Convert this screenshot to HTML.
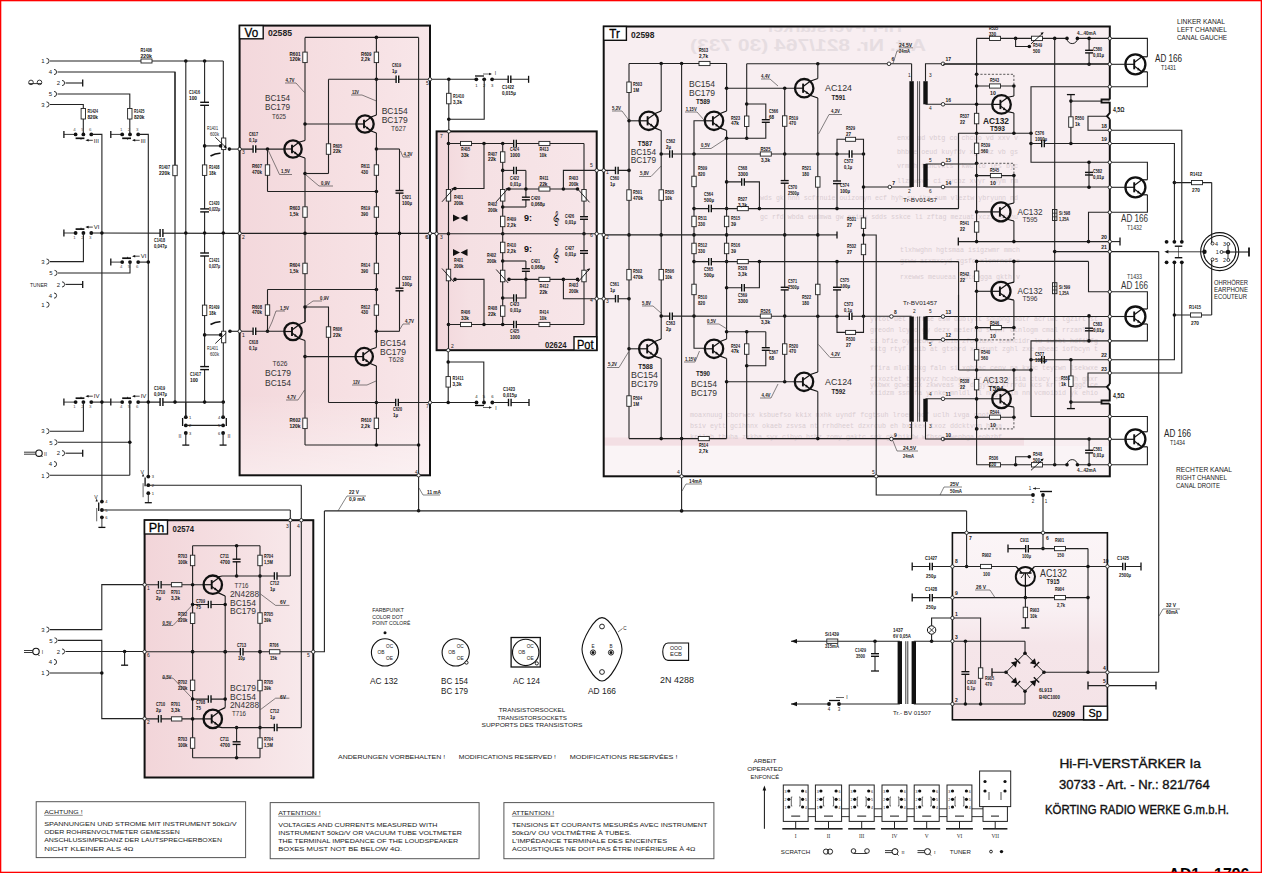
<!DOCTYPE html>
<html><head><meta charset="utf-8"><title>Schematic</title>
<style>
html,body{margin:0;padding:0;background:#fff;}
body{width:1262px;height:873px;overflow:hidden;}
svg{display:block;}
</style></head><body>
<svg width="1262" height="873" viewBox="0 0 1262 873">
<rect x="0" y="0" width="1262" height="873" fill="#fff"/>
<defs><linearGradient id="gvo" x1="0" y1="0" x2="1" y2="0"><stop offset="0" stop-color="#f3d8dc"/><stop offset="0.35" stop-color="#f5dde0"/><stop offset="1" stop-color="#f8e6e9"/></linearGradient><linearGradient id="gvo2" x1="0" y1="0" x2="0" y2="1"><stop offset="0" stop-color="#fff" stop-opacity="0"/><stop offset="0.82" stop-color="#fff" stop-opacity="0"/><stop offset="1" stop-color="#fff" stop-opacity="0.45"/></linearGradient><linearGradient id="gpot" x1="0" y1="0" x2="1" y2="0"><stop offset="0" stop-color="#f2d7db"/><stop offset="0.2" stop-color="#f5e0e3"/><stop offset="1" stop-color="#f7e6e9"/></linearGradient><linearGradient id="gph" x1="0" y1="0" x2="1" y2="0"><stop offset="0" stop-color="#f2d5d9"/><stop offset="0.5" stop-color="#f5dfe2"/><stop offset="1" stop-color="#f8eaec"/></linearGradient></defs>
<rect x="239.6" y="25.6" width="190.4" height="449.7" fill="url(#gvo)"/>
<rect x="239.6" y="25.6" width="190.4" height="449.7" fill="url(#gvo2)"/>
<rect x="436.6" y="131.4" width="160.1" height="218.8" fill="url(#gpot)"/>
<rect x="603.7" y="26.5" width="506.1" height="449.8" fill="#f8eef1"/>
<rect x="604" y="446" width="505" height="30" fill="#faf4f6"/>
<rect x="604" y="437.5" width="420" height="8" fill="#eed3d8" opacity="0.55"/>
<rect x="144.6" y="520.2" width="168.7" height="257.3" fill="url(#gph)"/>
<defs><linearGradient id="gsp" x1="0" y1="0" x2="0" y2="1"><stop offset="0" stop-color="#fbf5f7"/><stop offset="0.4" stop-color="#f9f0f3"/><stop offset="0.6" stop-color="#f5e5e9"/><stop offset="1" stop-color="#f4e3e7"/></linearGradient></defs>
<rect x="952.4" y="532.8" width="155" height="187" fill="url(#gsp)"/>
<text x="897" y="140" font-size="6.6" font-family="Liberation Mono" fill="#d8cdd2" textLength="121" lengthAdjust="spacingAndGlyphs">enxb ud vbtg co chcuo vd xxv v</text>
<text x="897" y="154" font-size="6.6" font-family="Liberation Mono" fill="#d8cdd2" textLength="121" lengthAdjust="spacingAndGlyphs">bhbue oeud kuyfdv xgmduz vb gs</text>
<text x="897" y="168" font-size="6.6" font-family="Liberation Mono" fill="#d8cdd2" textLength="121" lengthAdjust="spacingAndGlyphs">vrmkh fzhcvkts rkwc to les byc</text>
<text x="897" y="183" font-size="6.6" font-family="Liberation Mono" fill="#d8cdd2" textLength="121" lengthAdjust="spacingAndGlyphs">llzmwsvr ci zycbz xvyr znym rm</text>
<text x="760" y="200" font-size="6.6" font-family="Liberation Mono" fill="#d8cdd2" textLength="258" lengthAdjust="spacingAndGlyphs">wds gk hnn scfrnuie ouizomyn ecf hyh sv ika oum vleztw ybryunn nd</text>
<text x="760" y="219" font-size="6.6" font-family="Liberation Mono" fill="#d8cdd2" textLength="258" lengthAdjust="spacingAndGlyphs">gc rfd wbda eudmwa gw eximw sdds sskce li zftag mezuat xczi mfmhu</text>
<text x="900" y="252" font-size="6.6" font-family="Liberation Mono" fill="#d8cdd2" textLength="120" lengthAdjust="spacingAndGlyphs">tlxhwghn hgtsmaa isigzwmr mmch</text>
<text x="900" y="263" font-size="6.6" font-family="Liberation Mono" fill="#d8cdd2" textLength="120" lengthAdjust="spacingAndGlyphs">gsww asxmxcyd zgsfo xlcnrncf e</text>
<text x="900" y="279" font-size="6.6" font-family="Liberation Mono" fill="#d8cdd2" textLength="120" lengthAdjust="spacingAndGlyphs">rxewws meuueaa xdteogga gkth v</text>
<text x="870" y="321" font-size="6.6" font-family="Liberation Mono" fill="#d8cdd2" textLength="228" lengthAdjust="spacingAndGlyphs">yvtot uet arfwae esw dublytt sdubhg bdtr acrlwt tgzirt st</text>
<text x="870" y="332" font-size="6.6" font-family="Liberation Mono" fill="#d8cdd2" textLength="228" lengthAdjust="spacingAndGlyphs">greodn lcyho gy dezx meierhd sfyhf otnlogm cmal rrzanl wk</text>
<text x="870" y="343" font-size="6.6" font-family="Liberation Mono" fill="#d8cdd2" textLength="228" lengthAdjust="spacingAndGlyphs">ci bfie oyineutv zlcib zfociaxc icwhcidr lu iwebt hdfibfg</text>
<text x="870" y="351" font-size="6.6" font-family="Liberation Mono" fill="#d8cdd2" textLength="228" lengthAdjust="spacingAndGlyphs">xktg rtyf maib at gtshrd xoysunt zghl zxe mbeac iofbcyn t</text>
<text x="870" y="370" font-size="6.6" font-family="Liberation Mono" fill="#d8cdd2" textLength="228" lengthAdjust="spacingAndGlyphs">ffira mlul bkg faln si xghtac cenv na kxhc teyzwn lsekwxe</text>
<text x="870" y="381" font-size="6.6" font-family="Liberation Mono" fill="#d8cdd2" textLength="228" lengthAdjust="spacingAndGlyphs">ztxoztet tvayvzyz hcabexm nr bxaxuy sia ctucy csicih ghxr</text>
<text x="870" y="387" font-size="6.6" font-family="Liberation Mono" fill="#d8cdd2" textLength="228" lengthAdjust="spacingAndGlyphs">ykbwx gcwelix zkwveas si dzgyskz krrrdu kcs kr tr nggc ce</text>
<text x="870" y="395" font-size="6.6" font-family="Liberation Mono" fill="#d8cdd2" textLength="228" lengthAdjust="spacingAndGlyphs">xtidzm ssn fa yrnke mnldl ll ndgzakim nn vcmoibid yk ehio</text>
<text x="690" y="417" font-size="6.6" font-family="Liberation Mono" fill="#d8cdd2" textLength="312" lengthAdjust="spacingAndGlyphs">moaxnuug cborwex ksbuefso kkix nxhk uyndf fcgtsuh lroeu hcf uclh ivga onotgni </text>
<text x="690" y="428" font-size="6.6" font-family="Liberation Mono" fill="#d8cdd2" textLength="312" lengthAdjust="spacingAndGlyphs">bsiv eytt gcihnnx okaeb zsvsa nt rrhdheet dzxrcub eh bxzkex txoz ddcktvgn hwaa</text>
<text x="690" y="439" font-size="6.6" font-family="Liberation Mono" fill="#d8cdd2" textLength="312" lengthAdjust="spacingAndGlyphs">krilxh thuha zxkba syx cihyo hsbz zomy gaktc sgk ghrhikdw wfhso bwenbga eobzbf</text>
<defs><clipPath id="trclip"><rect x="604" y="27.5" width="505" height="448"/></clipPath></defs>
<g clip-path="url(#trclip)"><g transform="translate(1650,0) scale(-1,1)"><text x="724" y="51" font-size="17" font-weight="bold" font-family="Liberation Sans" fill="#e6dde1" textLength="236" lengthAdjust="spacingAndGlyphs">Art. Nr. 821/764 (30 733)</text><text x="748" y="31.5" font-size="14" font-weight="bold" font-family="Liberation Sans" fill="#e6dde1" textLength="136" lengthAdjust="spacingAndGlyphs">Hi-Fi-Verstärker</text></g></g>
<path d="M46.5,58.4 A2.6,2.6 0 0 1 46.5,63.6" fill="none" stroke="#222" stroke-width="0.9"/>
<text x="43" y="63.2" font-size="6" font-family="Liberation Sans" font-weight="normal" text-anchor="middle" fill="#222">1</text>
<line x1="50" y1="61" x2="223.3" y2="61" stroke="#222" stroke-width="1.1"/>
<rect x="141" y="59" width="11" height="4" fill="#fff" stroke="#222" stroke-width="0.9"/>
<text x="140.5" y="52" font-size="5.2" font-family="Liberation Sans" font-weight="bold" text-anchor="start" fill="#111" textLength="11.5" lengthAdjust="spacingAndGlyphs">R1406</text>
<text x="140.5" y="57.8" font-size="5.2" font-family="Liberation Sans" font-weight="bold" text-anchor="start" fill="#111" textLength="11.5" lengthAdjust="spacingAndGlyphs">220k</text>
<circle cx="185.8" cy="61" r="1.8" fill="#111"/>
<circle cx="204.6" cy="61" r="1.8" fill="#111"/>
<path d="M54,69.4 A2.6,2.6 0 0 1 54,74.6" fill="none" stroke="#222" stroke-width="0.9"/>
<text x="50.5" y="74.2" font-size="6" font-family="Liberation Sans" font-weight="normal" text-anchor="middle" fill="#222">4</text>
<polyline points="57.5,72 175,72 175,165" fill="none" stroke="#222" stroke-width="1.1"/>
<circle cx="31" cy="82.4" r="2.3" fill="none" stroke="#222" stroke-width="0.9"/><circle cx="39.5" cy="82.4" r="2.3" fill="none" stroke="#222" stroke-width="0.9"/>
<line x1="28.7" y1="83.6" x2="41.8" y2="83.6" stroke="#222" stroke-width="0.9"/>
<path d="M62,80.4 A2.6,2.6 0 0 1 62,85.6" fill="none" stroke="#222" stroke-width="0.9"/>
<text x="58.5" y="85.2" font-size="6" font-family="Liberation Sans" font-weight="normal" text-anchor="middle" fill="#222">2</text>
<line x1="65.5" y1="83" x2="82.7" y2="83" stroke="#222" stroke-width="1.1"/>
<line x1="82.7" y1="79.5" x2="82.7" y2="86.5" stroke="#111" stroke-width="1.3"/>
<path d="M54,91.4 A2.6,2.6 0 0 1 54,96.6" fill="none" stroke="#222" stroke-width="0.9"/>
<text x="50.5" y="96.2" font-size="6" font-family="Liberation Sans" font-weight="normal" text-anchor="middle" fill="#222">5</text>
<polyline points="57.5,94 129.8,94 129.8,108.5" fill="none" stroke="#222" stroke-width="1.1"/>
<rect x="127.6" y="108.5" width="4.4" height="10.5" fill="#fff" stroke="#222" stroke-width="0.9"/>
<line x1="129.8" y1="119" x2="129.8" y2="134.4" stroke="#222" stroke-width="1.1"/>
<text x="134" y="113" font-size="5.2" font-family="Liberation Sans" font-weight="bold" text-anchor="start" fill="#111" textLength="10.5" lengthAdjust="spacingAndGlyphs">R1425</text>
<text x="134" y="118.8" font-size="5.2" font-family="Liberation Sans" font-weight="bold" text-anchor="start" fill="#111" textLength="10.5" lengthAdjust="spacingAndGlyphs">820k</text>
<path d="M46.5,101.9 A2.6,2.6 0 0 1 46.5,107.1" fill="none" stroke="#222" stroke-width="0.9"/>
<text x="43" y="106.7" font-size="6" font-family="Liberation Sans" font-weight="normal" text-anchor="middle" fill="#222">3</text>
<polyline points="50,104.5 83.3,104.5 83.3,108.5" fill="none" stroke="#222" stroke-width="1.1"/>
<rect x="81.1" y="108.5" width="4.4" height="10.5" fill="#fff" stroke="#222" stroke-width="0.9"/>
<line x1="83.3" y1="119" x2="83.3" y2="134.4" stroke="#222" stroke-width="1.1"/>
<text x="87.5" y="113" font-size="5.2" font-family="Liberation Sans" font-weight="bold" text-anchor="start" fill="#111" textLength="10.5" lengthAdjust="spacingAndGlyphs">R1424</text>
<text x="87.5" y="118.8" font-size="5.2" font-family="Liberation Sans" font-weight="bold" text-anchor="start" fill="#111" textLength="10.5" lengthAdjust="spacingAndGlyphs">820k</text>
<line x1="63.9" y1="130.9" x2="63.9" y2="137.9" stroke="#111" stroke-width="1.3"/>
<line x1="63.9" y1="134.4" x2="75.6" y2="134.4" stroke="#222" stroke-width="0.9"/>
<circle cx="75.6" cy="134.4" r="1.9" fill="#111"/>
<circle cx="83.4" cy="134.4" r="1.9" fill="#111"/>
<circle cx="91.3" cy="134.4" r="1.9" fill="#111"/>
<line x1="75.6" y1="138.3" x2="84.4" y2="138.3" stroke="#111" stroke-width="1.7"/>
<line x1="81" y1="138.3" x2="81" y2="139.7" stroke="#111" stroke-width="0.8"/>
<line x1="86.9" y1="140.3" x2="92.8" y2="140.3" stroke="#111" stroke-width="0.8"/>
<path d="M85.4,140.3 l3.2,-1.3 l0,2.6z" fill="#111"/>
<text x="93.8" y="142.5" font-size="6" font-family="Liberation Sans" font-weight="normal" text-anchor="start" fill="#222">III</text>
<text x="74.6" y="131.2" font-size="4.4" font-family="Liberation Sans" font-weight="normal" text-anchor="middle" fill="#555">4</text>
<text x="82.4" y="131.2" font-size="4.4" font-family="Liberation Sans" font-weight="normal" text-anchor="middle" fill="#555">5</text>
<text x="90.3" y="131.2" font-size="4.4" font-family="Liberation Sans" font-weight="normal" text-anchor="middle" fill="#555">6</text>
<polyline points="91.3,134.4 101.9,134.4 101.9,501.6" fill="none" stroke="#222" stroke-width="1.1"/>
<line x1="110.8" y1="130.9" x2="110.8" y2="137.9" stroke="#111" stroke-width="1.3"/>
<line x1="110.8" y1="134.4" x2="122.2" y2="134.4" stroke="#222" stroke-width="0.9"/>
<circle cx="122.2" cy="134.4" r="1.9" fill="#111"/>
<circle cx="130" cy="134.4" r="1.9" fill="#111"/>
<circle cx="138.2" cy="134.4" r="1.9" fill="#111"/>
<line x1="122.2" y1="138.3" x2="131" y2="138.3" stroke="#111" stroke-width="1.7"/>
<line x1="127.6" y1="138.3" x2="127.6" y2="139.7" stroke="#111" stroke-width="0.8"/>
<line x1="133.5" y1="140.3" x2="139.7" y2="140.3" stroke="#111" stroke-width="0.8"/>
<path d="M132,140.3 l3.2,-1.3 l0,2.6z" fill="#111"/>
<text x="140.7" y="142.5" font-size="6" font-family="Liberation Sans" font-weight="normal" text-anchor="start" fill="#222">III</text>
<text x="121.2" y="131.2" font-size="4.4" font-family="Liberation Sans" font-weight="normal" text-anchor="middle" fill="#555">1</text>
<text x="129" y="131.2" font-size="4.4" font-family="Liberation Sans" font-weight="normal" text-anchor="middle" fill="#555">2</text>
<text x="137.2" y="131.2" font-size="4.4" font-family="Liberation Sans" font-weight="normal" text-anchor="middle" fill="#555">3</text>
<polyline points="138.2,134.4 148.3,134.4 148.3,476.6" fill="none" stroke="#222" stroke-width="1.1"/>
<line x1="175" y1="72" x2="175" y2="402" stroke="#222" stroke-width="1.1"/>
<rect x="172.8" y="165.2" width="4.4" height="10.5" fill="#fff" stroke="#222" stroke-width="0.9"/>
<text x="159" y="169" font-size="5.2" font-family="Liberation Sans" font-weight="bold" text-anchor="start" fill="#111" textLength="11" lengthAdjust="spacingAndGlyphs">R1407</text>
<text x="159" y="174.8" font-size="5.2" font-family="Liberation Sans" font-weight="bold" text-anchor="start" fill="#111" textLength="11" lengthAdjust="spacingAndGlyphs">220k</text>
<line x1="185.8" y1="61" x2="185.8" y2="417" stroke="#222" stroke-width="1.1"/>
<line x1="204.6" y1="61" x2="204.6" y2="402" stroke="#222" stroke-width="1.1"/>
<rect x="200.2" y="102.3" width="8.8" height="3" fill="#fff"/>
<line x1="200.2" y1="102.3" x2="209" y2="102.3" stroke="#111" stroke-width="1.4"/>
<line x1="200.2" y1="105.3" x2="209" y2="105.3" stroke="#111" stroke-width="1.4"/>
<text x="189" y="94" font-size="5.2" font-family="Liberation Sans" font-weight="bold" text-anchor="start" fill="#111" textLength="11" lengthAdjust="spacingAndGlyphs">C1416</text>
<text x="189" y="99.8" font-size="5.2" font-family="Liberation Sans" font-weight="bold" text-anchor="start" fill="#111" textLength="8" lengthAdjust="spacingAndGlyphs">100</text>
<rect x="202.4" y="164.9" width="4.4" height="10.5" fill="#fff" stroke="#222" stroke-width="0.9"/>
<text x="209" y="169" font-size="5.2" font-family="Liberation Sans" font-weight="bold" text-anchor="start" fill="#111" textLength="10.5" lengthAdjust="spacingAndGlyphs">R1408</text>
<text x="209" y="174.8" font-size="5.2" font-family="Liberation Sans" font-weight="bold" text-anchor="start" fill="#111" textLength="7" lengthAdjust="spacingAndGlyphs">18k</text>
<rect x="200.2" y="208.9" width="8.8" height="3" fill="#fff"/>
<line x1="200.2" y1="208.9" x2="209" y2="208.9" stroke="#111" stroke-width="1.4"/>
<line x1="200.2" y1="211.9" x2="209" y2="211.9" stroke="#111" stroke-width="1.4"/>
<text x="209" y="205" font-size="5.2" font-family="Liberation Sans" font-weight="bold" text-anchor="start" fill="#111" textLength="10.5" lengthAdjust="spacingAndGlyphs">C1420</text>
<text x="209" y="210.8" font-size="5.2" font-family="Liberation Sans" font-weight="bold" text-anchor="start" fill="#111" textLength="11" lengthAdjust="spacingAndGlyphs">0,022µ</text>
<rect x="200.2" y="253" width="8.8" height="3" fill="#fff"/>
<line x1="200.2" y1="253" x2="209" y2="253" stroke="#111" stroke-width="1.4"/>
<line x1="200.2" y1="256" x2="209" y2="256" stroke="#111" stroke-width="1.4"/>
<text x="209" y="262" font-size="5.2" font-family="Liberation Sans" font-weight="bold" text-anchor="start" fill="#111" textLength="10.5" lengthAdjust="spacingAndGlyphs">C1421</text>
<text x="209" y="267.8" font-size="5.2" font-family="Liberation Sans" font-weight="bold" text-anchor="start" fill="#111" textLength="11" lengthAdjust="spacingAndGlyphs">0,027µ</text>
<rect x="202.4" y="305.1" width="4.4" height="10.5" fill="#fff" stroke="#222" stroke-width="0.9"/>
<text x="209" y="309" font-size="5.2" font-family="Liberation Sans" font-weight="bold" text-anchor="start" fill="#111" textLength="10.5" lengthAdjust="spacingAndGlyphs">R1409</text>
<text x="209" y="314.8" font-size="5.2" font-family="Liberation Sans" font-weight="bold" text-anchor="start" fill="#111" textLength="7" lengthAdjust="spacingAndGlyphs">18k</text>
<rect x="200.2" y="366.6" width="8.8" height="3" fill="#fff"/>
<line x1="200.2" y1="366.6" x2="209" y2="366.6" stroke="#111" stroke-width="1.4"/>
<line x1="200.2" y1="369.6" x2="209" y2="369.6" stroke="#111" stroke-width="1.4"/>
<text x="190" y="376" font-size="5.2" font-family="Liberation Sans" font-weight="bold" text-anchor="start" fill="#111" textLength="11" lengthAdjust="spacingAndGlyphs">C1417</text>
<text x="190" y="381.8" font-size="5.2" font-family="Liberation Sans" font-weight="bold" text-anchor="start" fill="#111" textLength="8" lengthAdjust="spacingAndGlyphs">100</text>
<line x1="223.3" y1="61" x2="223.3" y2="138" stroke="#222" stroke-width="1.1"/>
<line x1="223.3" y1="149.5" x2="223.3" y2="331.5" stroke="#222" stroke-width="1.1"/>
<line x1="223.3" y1="343" x2="223.3" y2="402" stroke="#222" stroke-width="1.1"/>
<rect x="221.6" y="138" width="4.2" height="11.6" fill="#fff" stroke="#222" stroke-width="0.9"/>
<line x1="215.3" y1="137.3" x2="226.3" y2="147.7" stroke="#111" stroke-width="0.9"/>
<path d="M226.8,148.2 l-1.2,-3.2 l-2.2,2.2z" fill="#111"/>
<circle cx="204.6" cy="145.9" r="1.8" fill="#111"/>
<line x1="204.6" y1="145.9" x2="221.6" y2="145.9" stroke="#222" stroke-width="1.1"/>
<circle cx="220.6" cy="145.9" r="1.8" fill="#111"/>
<circle cx="229.4" cy="149.1" r="1.8" fill="#111"/>
<line x1="229.4" y1="149.1" x2="239.7" y2="149.1" stroke="#222" stroke-width="1.1"/>
<text x="207" y="130" font-size="5" font-family="Liberation Sans" font-weight="normal" text-anchor="start" fill="#222" textLength="11" lengthAdjust="spacingAndGlyphs">R1401</text>
<text x="210" y="136" font-size="5" font-family="Liberation Sans" font-weight="normal" text-anchor="start" fill="#222" textLength="9" lengthAdjust="spacingAndGlyphs">600k</text>
<path d="M210.5,156 q5,-3 10,-2.8" fill="none" stroke="#111" stroke-width="1.6"/>
<rect x="221.6" y="331.2" width="4.2" height="11.6" fill="#fff" stroke="#222" stroke-width="0.9"/>
<line x1="215.3" y1="343.5" x2="226.3" y2="333" stroke="#111" stroke-width="0.9"/>
<circle cx="204.6" cy="334.9" r="1.8" fill="#111"/>
<line x1="204.6" y1="334.9" x2="221.6" y2="334.9" stroke="#222" stroke-width="1.1"/>
<circle cx="220.6" cy="334.9" r="1.8" fill="#111"/>
<circle cx="230" cy="331.3" r="1.8" fill="#111"/>
<line x1="230" y1="331.3" x2="239.7" y2="331.3" stroke="#222" stroke-width="1.1"/>
<text x="207" y="350" font-size="5" font-family="Liberation Sans" font-weight="normal" text-anchor="start" fill="#222" textLength="11" lengthAdjust="spacingAndGlyphs">R1401</text>
<text x="210" y="356" font-size="5" font-family="Liberation Sans" font-weight="normal" text-anchor="start" fill="#222" textLength="9" lengthAdjust="spacingAndGlyphs">600k</text>
<path d="M210.5,324.5 q5,-3 10,-2.8" fill="none" stroke="#111" stroke-width="1.6"/>
<line x1="63.9" y1="229.5" x2="63.9" y2="236.5" stroke="#111" stroke-width="1.3"/>
<line x1="63.9" y1="233" x2="75.6" y2="233" stroke="#222" stroke-width="0.9"/>
<circle cx="75.6" cy="233" r="1.9" fill="#111"/>
<circle cx="83.4" cy="233" r="1.9" fill="#111"/>
<circle cx="91.3" cy="233" r="1.9" fill="#111"/>
<line x1="75.6" y1="229.1" x2="84.4" y2="229.1" stroke="#111" stroke-width="1.7"/>
<line x1="81" y1="229.1" x2="81" y2="227.7" stroke="#111" stroke-width="0.8"/>
<line x1="86.9" y1="227.1" x2="92.8" y2="227.1" stroke="#111" stroke-width="0.8"/>
<path d="M85.4,227.1 l3.2,-1.3 l0,2.6z" fill="#111"/>
<text x="93.8" y="229.3" font-size="6" font-family="Liberation Sans" font-weight="normal" text-anchor="start" fill="#222">VI</text>
<text x="74.6" y="239" font-size="4.4" font-family="Liberation Sans" font-weight="normal" text-anchor="middle" fill="#555">1</text>
<text x="82.4" y="239" font-size="4.4" font-family="Liberation Sans" font-weight="normal" text-anchor="middle" fill="#555">2</text>
<text x="90.3" y="239" font-size="4.4" font-family="Liberation Sans" font-weight="normal" text-anchor="middle" fill="#555">3</text>
<line x1="91.3" y1="233" x2="239.7" y2="233.4" stroke="#222" stroke-width="1.1"/>
<circle cx="101.9" cy="233" r="1.8" fill="#111"/>
<rect x="160.1" y="229" width="2.8" height="8" fill="#fff"/>
<line x1="160.1" y1="229" x2="160.1" y2="237" stroke="#111" stroke-width="1.4"/>
<line x1="162.9" y1="229" x2="162.9" y2="237" stroke="#111" stroke-width="1.4"/>
<circle cx="185.8" cy="233" r="1.8" fill="#111"/>
<circle cx="204.6" cy="233" r="1.8" fill="#111"/>
<circle cx="223.3" cy="233" r="1.8" fill="#111"/>
<text x="154" y="242" font-size="5.2" font-family="Liberation Sans" font-weight="bold" text-anchor="start" fill="#111" textLength="11" lengthAdjust="spacingAndGlyphs">C1418</text>
<text x="154" y="247.8" font-size="5.2" font-family="Liberation Sans" font-weight="bold" text-anchor="start" fill="#111" textLength="13" lengthAdjust="spacingAndGlyphs">0,047µ</text>
<polyline points="83.4,233 83.4,261.6 50,261.6" fill="none" stroke="#222" stroke-width="1.1"/>
<path d="M46.5,259 A2.6,2.6 0 0 1 46.5,264.2" fill="none" stroke="#222" stroke-width="0.9"/>
<text x="43" y="263.8" font-size="6" font-family="Liberation Sans" font-weight="normal" text-anchor="middle" fill="#222">3</text>
<line x1="110.8" y1="258.6" x2="110.8" y2="265.6" stroke="#111" stroke-width="1.3"/>
<line x1="110.8" y1="262.1" x2="122.2" y2="262.1" stroke="#222" stroke-width="0.9"/>
<circle cx="122.2" cy="262.1" r="1.9" fill="#111"/>
<circle cx="130" cy="262.1" r="1.9" fill="#111"/>
<circle cx="138.2" cy="262.1" r="1.9" fill="#111"/>
<line x1="122.2" y1="258.2" x2="131" y2="258.2" stroke="#111" stroke-width="1.7"/>
<line x1="127.6" y1="258.2" x2="127.6" y2="256.8" stroke="#111" stroke-width="0.8"/>
<line x1="133.5" y1="256.2" x2="139.7" y2="256.2" stroke="#111" stroke-width="0.8"/>
<path d="M132,256.2 l3.2,-1.3 l0,2.6z" fill="#111"/>
<text x="140.7" y="258.4" font-size="6" font-family="Liberation Sans" font-weight="normal" text-anchor="start" fill="#222">VI</text>
<text x="121.2" y="268.1" font-size="4.4" font-family="Liberation Sans" font-weight="normal" text-anchor="middle" fill="#555">4</text>
<text x="129" y="268.1" font-size="4.4" font-family="Liberation Sans" font-weight="normal" text-anchor="middle" fill="#555">5</text>
<text x="137.2" y="268.1" font-size="4.4" font-family="Liberation Sans" font-weight="normal" text-anchor="middle" fill="#555">6</text>
<line x1="138.2" y1="262.1" x2="148.3" y2="262.1" stroke="#222" stroke-width="1.1"/>
<circle cx="148.3" cy="262.1" r="1.8" fill="#111"/>
<polyline points="130,262.1 130,273 58,273" fill="none" stroke="#222" stroke-width="1.1"/>
<path d="M54.5,270.4 A2.6,2.6 0 0 1 54.5,275.6" fill="none" stroke="#222" stroke-width="0.9"/>
<text x="51" y="275.2" font-size="6" font-family="Liberation Sans" font-weight="normal" text-anchor="middle" fill="#222">5</text>
<text x="30" y="287" font-size="6.2" font-family="Liberation Sans" font-weight="normal" text-anchor="start" fill="#222" textLength="17.5" lengthAdjust="spacingAndGlyphs">TUNER</text>
<path d="M62,281.8 A2.6,2.6 0 0 1 62,287" fill="none" stroke="#222" stroke-width="0.9"/>
<text x="58.5" y="286.6" font-size="6" font-family="Liberation Sans" font-weight="normal" text-anchor="middle" fill="#222">2</text>
<line x1="65.5" y1="284.4" x2="82.7" y2="284.4" stroke="#222" stroke-width="1.1"/>
<line x1="82.7" y1="280.9" x2="82.7" y2="287.9" stroke="#111" stroke-width="1.3"/>
<path d="M54,293 A2.6,2.6 0 0 1 54,298.2" fill="none" stroke="#222" stroke-width="0.9"/>
<text x="50.5" y="297.8" font-size="6" font-family="Liberation Sans" font-weight="normal" text-anchor="middle" fill="#222">4</text>
<path d="M46.5,302.1 A2.6,2.6 0 0 1 46.5,307.3" fill="none" stroke="#222" stroke-width="0.9"/>
<text x="43" y="306.9" font-size="6" font-family="Liberation Sans" font-weight="normal" text-anchor="middle" fill="#222">1</text>
<line x1="63.9" y1="398.6" x2="63.9" y2="405.6" stroke="#111" stroke-width="1.3"/>
<line x1="63.9" y1="402.1" x2="75.6" y2="402.1" stroke="#222" stroke-width="0.9"/>
<circle cx="75.6" cy="402.1" r="1.9" fill="#111"/>
<circle cx="83.4" cy="402.1" r="1.9" fill="#111"/>
<circle cx="91.3" cy="402.1" r="1.9" fill="#111"/>
<line x1="75.6" y1="398.2" x2="84.4" y2="398.2" stroke="#111" stroke-width="1.7"/>
<line x1="81" y1="398.2" x2="81" y2="396.8" stroke="#111" stroke-width="0.8"/>
<line x1="86.9" y1="396.2" x2="92.8" y2="396.2" stroke="#111" stroke-width="0.8"/>
<path d="M85.4,396.2 l3.2,-1.3 l0,2.6z" fill="#111"/>
<text x="93.8" y="398.4" font-size="6" font-family="Liberation Sans" font-weight="normal" text-anchor="start" fill="#222">IV</text>
<text x="74.6" y="408.1" font-size="4.4" font-family="Liberation Sans" font-weight="normal" text-anchor="middle" fill="#555">1</text>
<text x="82.4" y="408.1" font-size="4.4" font-family="Liberation Sans" font-weight="normal" text-anchor="middle" fill="#555">2</text>
<text x="90.3" y="408.1" font-size="4.4" font-family="Liberation Sans" font-weight="normal" text-anchor="middle" fill="#555">3</text>
<line x1="110.8" y1="398.6" x2="110.8" y2="405.6" stroke="#111" stroke-width="1.3"/>
<line x1="110.8" y1="402.1" x2="122.2" y2="402.1" stroke="#222" stroke-width="0.9"/>
<circle cx="122.2" cy="402.1" r="1.9" fill="#111"/>
<circle cx="130" cy="402.1" r="1.9" fill="#111"/>
<circle cx="138.2" cy="402.1" r="1.9" fill="#111"/>
<line x1="122.2" y1="398.2" x2="131" y2="398.2" stroke="#111" stroke-width="1.7"/>
<line x1="127.6" y1="398.2" x2="127.6" y2="396.8" stroke="#111" stroke-width="0.8"/>
<line x1="133.5" y1="396.2" x2="139.7" y2="396.2" stroke="#111" stroke-width="0.8"/>
<path d="M132,396.2 l3.2,-1.3 l0,2.6z" fill="#111"/>
<text x="140.7" y="398.4" font-size="6" font-family="Liberation Sans" font-weight="normal" text-anchor="start" fill="#222">IV</text>
<text x="121.2" y="408.1" font-size="4.4" font-family="Liberation Sans" font-weight="normal" text-anchor="middle" fill="#555">4</text>
<text x="129" y="408.1" font-size="4.4" font-family="Liberation Sans" font-weight="normal" text-anchor="middle" fill="#555">5</text>
<text x="137.2" y="408.1" font-size="4.4" font-family="Liberation Sans" font-weight="normal" text-anchor="middle" fill="#555">6</text>
<line x1="91.3" y1="402.1" x2="110.8" y2="402.1" stroke="#222" stroke-width="1.1"/>
<line x1="138.2" y1="402.1" x2="223.3" y2="402.1" stroke="#222" stroke-width="1.1"/>
<circle cx="101.9" cy="402.1" r="1.8" fill="#111"/>
<circle cx="148.3" cy="402.1" r="1.8" fill="#111"/>
<rect x="160.1" y="398.1" width="2.8" height="8" fill="#fff"/>
<line x1="160.1" y1="398.1" x2="160.1" y2="406.1" stroke="#111" stroke-width="1.4"/>
<line x1="162.9" y1="398.1" x2="162.9" y2="406.1" stroke="#111" stroke-width="1.4"/>
<circle cx="175" cy="402.1" r="1.8" fill="#111"/>
<circle cx="204.6" cy="402.1" r="1.8" fill="#111"/>
<circle cx="223.3" cy="402.1" r="1.8" fill="#111"/>
<text x="154" y="390" font-size="5.2" font-family="Liberation Sans" font-weight="bold" text-anchor="start" fill="#111" textLength="11" lengthAdjust="spacingAndGlyphs">C1419</text>
<text x="154" y="395.8" font-size="5.2" font-family="Liberation Sans" font-weight="bold" text-anchor="start" fill="#111" textLength="13" lengthAdjust="spacingAndGlyphs">0,047µ</text>
<circle cx="185.8" cy="417.2" r="1.9" fill="#111"/>
<circle cx="185.8" cy="425.4" r="1.9" fill="#111"/>
<circle cx="185.8" cy="433" r="1.9" fill="#111"/>
<line x1="185.8" y1="402" x2="185.8" y2="417.2" stroke="#222" stroke-width="1.1"/>
<line x1="185.8" y1="433" x2="185.8" y2="445.1" stroke="#222" stroke-width="1.1"/>
<line x1="182.3" y1="445.1" x2="189.3" y2="445.1" stroke="#111" stroke-width="1.3"/>
<circle cx="223.1" cy="417.2" r="1.9" fill="#111"/>
<circle cx="223.1" cy="425.4" r="1.9" fill="#111"/>
<circle cx="223.1" cy="433" r="1.9" fill="#111"/>
<line x1="223.1" y1="402" x2="223.1" y2="417.2" stroke="#222" stroke-width="1.1"/>
<line x1="223.1" y1="433" x2="223.1" y2="445.1" stroke="#222" stroke-width="1.1"/>
<line x1="219.6" y1="445.1" x2="226.6" y2="445.1" stroke="#111" stroke-width="1.3"/>
<line x1="185.8" y1="425.4" x2="223.1" y2="425.4" stroke="#222" stroke-width="1.1"/>
<line x1="182.6" y1="418" x2="182.6" y2="426" stroke="#111" stroke-width="1.3"/>
<line x1="226.3" y1="418" x2="226.3" y2="426" stroke="#111" stroke-width="1.3"/>
<text x="180" y="438" font-size="5" font-family="Liberation Sans" font-weight="normal" text-anchor="middle" fill="#222">II</text>
<text x="229" y="438" font-size="5" font-family="Liberation Sans" font-weight="normal" text-anchor="middle" fill="#222">II</text>
<text x="190" y="418.7" font-size="4" font-family="Liberation Sans" font-weight="normal" text-anchor="middle" fill="#222">1</text>
<text x="190" y="426.9" font-size="4" font-family="Liberation Sans" font-weight="normal" text-anchor="middle" fill="#222">2</text>
<text x="190" y="434.5" font-size="4" font-family="Liberation Sans" font-weight="normal" text-anchor="middle" fill="#222">3</text>
<text x="219" y="418.7" font-size="4" font-family="Liberation Sans" font-weight="normal" text-anchor="middle" fill="#222">4</text>
<text x="219" y="426.9" font-size="4" font-family="Liberation Sans" font-weight="normal" text-anchor="middle" fill="#222">5</text>
<text x="219" y="434.5" font-size="4" font-family="Liberation Sans" font-weight="normal" text-anchor="middle" fill="#222">6</text>
<polyline points="83.4,402.1 83.4,431.2 50,431.2" fill="none" stroke="#222" stroke-width="1.1"/>
<path d="M46.5,428.6 A2.6,2.6 0 0 1 46.5,433.8" fill="none" stroke="#222" stroke-width="0.9"/>
<text x="43" y="433.4" font-size="6" font-family="Liberation Sans" font-weight="normal" text-anchor="middle" fill="#222">3</text>
<line x1="129.8" y1="402.1" x2="129.8" y2="475.3" stroke="#222" stroke-width="1.1"/>
<line x1="58" y1="442.3" x2="129.8" y2="442.3" stroke="#222" stroke-width="1.1"/>
<path d="M54.5,439.7 A2.6,2.6 0 0 1 54.5,444.9" fill="none" stroke="#222" stroke-width="0.9"/>
<text x="51" y="444.5" font-size="6" font-family="Liberation Sans" font-weight="normal" text-anchor="middle" fill="#222">5</text>
<circle cx="129.8" cy="442.3" r="1.8" fill="#111"/>
<path d="M62,450.6 A2.6,2.6 0 0 1 62,455.8" fill="none" stroke="#222" stroke-width="0.9"/>
<text x="58.5" y="455.4" font-size="6" font-family="Liberation Sans" font-weight="normal" text-anchor="middle" fill="#222">2</text>
<line x1="65.5" y1="453.2" x2="82.7" y2="453.2" stroke="#222" stroke-width="1.1"/>
<line x1="82.7" y1="449.7" x2="82.7" y2="456.7" stroke="#111" stroke-width="1.3"/>
<circle cx="39" cy="453.2" r="3.2" fill="none" stroke="#111" stroke-width="1.1"/>
<line x1="24" y1="452.2" x2="35.8" y2="452.2" stroke="#222" stroke-width="0.9"/>
<line x1="24" y1="454.2" x2="35.8" y2="454.2" stroke="#222" stroke-width="0.9"/>
<line x1="41" y1="455.5" x2="42.5" y2="457" stroke="#222" stroke-width="1"/>
<text x="45.5" y="455.5" font-size="5" font-family="Liberation Sans" font-weight="normal" text-anchor="middle" fill="#222">II</text>
<path d="M54,461.5 A2.6,2.6 0 0 1 54,466.7" fill="none" stroke="#222" stroke-width="0.9"/>
<text x="50.5" y="466.3" font-size="6" font-family="Liberation Sans" font-weight="normal" text-anchor="middle" fill="#222">4</text>
<path d="M46.5,472.7 A2.6,2.6 0 0 1 46.5,477.9" fill="none" stroke="#222" stroke-width="0.9"/>
<text x="43" y="477.5" font-size="6" font-family="Liberation Sans" font-weight="normal" text-anchor="middle" fill="#222">1</text>
<line x1="50" y1="475.3" x2="129.8" y2="475.3" stroke="#222" stroke-width="1.1"/>
<circle cx="148.3" cy="476.6" r="1.9" fill="#111"/>
<circle cx="148.3" cy="485.2" r="1.9" fill="#111"/>
<circle cx="148.3" cy="493.2" r="1.9" fill="#111"/>
<line x1="148.3" y1="493.2" x2="148.3" y2="502.7" stroke="#222" stroke-width="0.9"/>
<line x1="144.8" y1="502.7" x2="151.8" y2="502.7" stroke="#111" stroke-width="1.3"/>
<line x1="145.1" y1="477.6" x2="145.1" y2="486.2" stroke="#111" stroke-width="1.3"/>
<line x1="143.1" y1="483.2" x2="143.1" y2="497.2" stroke="#222" stroke-width="0.7"/>
<path d="M143.1,473.6 l-1.2,3 l2.4,0z" fill="#222"/>
<text x="142.3" y="473.6" font-size="5.2" font-family="Liberation Sans" font-weight="normal" text-anchor="middle" fill="#222">V</text>
<text x="152.8" y="478.1" font-size="4" font-family="Liberation Sans" font-weight="normal" text-anchor="middle" fill="#222">3</text>
<text x="152.8" y="486.7" font-size="4" font-family="Liberation Sans" font-weight="normal" text-anchor="middle" fill="#222">2</text>
<text x="152.8" y="494.7" font-size="4" font-family="Liberation Sans" font-weight="normal" text-anchor="middle" fill="#222">1</text>
<line x1="148.3" y1="485.2" x2="301.3" y2="485.2" stroke="#222" stroke-width="1.1"/>
<line x1="301.3" y1="485.2" x2="301.3" y2="727.6" stroke="#222" stroke-width="1.1"/>
<circle cx="101.9" cy="501.6" r="1.9" fill="#111"/>
<circle cx="101.9" cy="510" r="1.9" fill="#111"/>
<circle cx="101.9" cy="517.3" r="1.9" fill="#111"/>
<line x1="101.9" y1="517.3" x2="101.9" y2="527.4" stroke="#222" stroke-width="0.9"/>
<line x1="98.4" y1="527.4" x2="105.4" y2="527.4" stroke="#111" stroke-width="1.3"/>
<line x1="98.7" y1="502.6" x2="98.7" y2="511" stroke="#111" stroke-width="1.3"/>
<line x1="96.7" y1="508" x2="96.7" y2="521.3" stroke="#222" stroke-width="0.7"/>
<path d="M96.7,498.6 l-1.2,3 l2.4,0z" fill="#222"/>
<text x="95.9" y="498.6" font-size="5.2" font-family="Liberation Sans" font-weight="normal" text-anchor="middle" fill="#222">V</text>
<text x="106.4" y="503.1" font-size="4" font-family="Liberation Sans" font-weight="normal" text-anchor="middle" fill="#222">4</text>
<text x="106.4" y="511.5" font-size="4" font-family="Liberation Sans" font-weight="normal" text-anchor="middle" fill="#222">5</text>
<text x="106.4" y="518.8" font-size="4" font-family="Liberation Sans" font-weight="normal" text-anchor="middle" fill="#222">6</text>
<line x1="101.9" y1="510" x2="290.3" y2="510" stroke="#222" stroke-width="1.1"/>
<line x1="290.3" y1="510" x2="290.3" y2="576" stroke="#222" stroke-width="1.1"/>
<polyline points="144.6,584.6 101.8,584.6 101.8,629.6 50,629.6" fill="none" stroke="#222" stroke-width="1.1"/>
<path d="M46.5,627 A2.6,2.6 0 0 1 46.5,632.2" fill="none" stroke="#222" stroke-width="0.9"/>
<text x="43" y="631.8" font-size="6" font-family="Liberation Sans" font-weight="normal" text-anchor="middle" fill="#222">3</text>
<polyline points="58,640.4 101.8,640.4 101.8,718.6 144.6,718.6" fill="none" stroke="#222" stroke-width="1.1"/>
<path d="M54.5,637.8 A2.6,2.6 0 0 1 54.5,643" fill="none" stroke="#222" stroke-width="0.9"/>
<text x="51" y="642.6" font-size="6" font-family="Liberation Sans" font-weight="normal" text-anchor="middle" fill="#222">5</text>
<path d="M62,648.9 A2.6,2.6 0 0 1 62,654.1" fill="none" stroke="#222" stroke-width="0.9"/>
<text x="58.5" y="653.7" font-size="6" font-family="Liberation Sans" font-weight="normal" text-anchor="middle" fill="#222">2</text>
<line x1="65.5" y1="651.5" x2="144.6" y2="651.5" stroke="#222" stroke-width="1.1"/>
<circle cx="124.6" cy="651.5" r="1.8" fill="#111"/>
<line x1="124.6" y1="651.5" x2="124.6" y2="665.2" stroke="#222" stroke-width="1.1"/>
<line x1="121.1" y1="665.2" x2="128.1" y2="665.2" stroke="#111" stroke-width="1.3"/>
<circle cx="36" cy="651.5" r="3.2" fill="none" stroke="#111" stroke-width="1.1"/>
<line x1="24" y1="650.5" x2="32.8" y2="650.5" stroke="#222" stroke-width="0.9"/>
<line x1="24" y1="652.5" x2="32.8" y2="652.5" stroke="#222" stroke-width="0.9"/>
<line x1="38" y1="654.5" x2="39.5" y2="656" stroke="#222" stroke-width="1"/>
<text x="42.5" y="653.5" font-size="5" font-family="Liberation Sans" font-weight="normal" text-anchor="middle" fill="#222">I</text>
<path d="M54,659.4 A2.6,2.6 0 0 1 54,664.6" fill="none" stroke="#222" stroke-width="0.9"/>
<text x="50.5" y="664.2" font-size="6" font-family="Liberation Sans" font-weight="normal" text-anchor="middle" fill="#222">4</text>
<path d="M46.5,670.4 A2.6,2.6 0 0 1 46.5,675.6" fill="none" stroke="#222" stroke-width="0.9"/>
<text x="43" y="675.2" font-size="6" font-family="Liberation Sans" font-weight="normal" text-anchor="middle" fill="#222">1</text>
<line x1="50" y1="673" x2="101.8" y2="673" stroke="#222" stroke-width="1.1"/>
<circle cx="101.8" cy="673" r="1.8" fill="#111"/>
<line x1="305" y1="37.4" x2="418.6" y2="37.4" stroke="#222" stroke-width="1.1"/>
<circle cx="376.4" cy="37.4" r="1.8" fill="#111"/>
<line x1="305" y1="37.4" x2="305" y2="140.5" stroke="#222" stroke-width="1.1"/>
<rect x="302.8" y="52.1" width="4.4" height="10.5" fill="#fff" stroke="#222" stroke-width="0.9"/>
<text x="289.5" y="55.5" font-size="5.2" font-family="Liberation Sans" font-weight="bold" text-anchor="start" fill="#111" textLength="11" lengthAdjust="spacingAndGlyphs">R601</text>
<text x="289.5" y="61.3" font-size="5.2" font-family="Liberation Sans" font-weight="bold" text-anchor="start" fill="#111" textLength="11" lengthAdjust="spacingAndGlyphs">120k</text>
<polyline points="304.5,92.5 296,83 285,83" fill="none" stroke="#333" stroke-width="0.6"/>
<text x="285.5" y="82" font-size="5.2" font-family="Liberation Sans" font-weight="bold" text-anchor="start" fill="#222" textLength="9" lengthAdjust="spacingAndGlyphs">4,7V</text>
<circle cx="293" cy="149" r="8.7" fill="none" stroke="#111" stroke-width="2.3"/>
<line x1="292" y1="144.7" x2="292" y2="153.3" stroke="#111" stroke-width="1.9"/>
<line x1="284.3" y1="149" x2="292" y2="149" stroke="#111" stroke-width="1.2"/>
<line x1="292" y1="147.4" x2="298.4" y2="142.7" stroke="#111" stroke-width="1.2"/>
<line x1="292" y1="150.6" x2="298.4" y2="155.3" stroke="#111" stroke-width="1.2"/>
<path d="M297.4,154.5 l-3.2,-0.4 l1.2,-2.6 z" fill="#111"/>
<line x1="297.8" y1="142.5" x2="305" y2="140.5" stroke="#111" stroke-width="1.2"/>
<line x1="297.8" y1="155.5" x2="305" y2="158" stroke="#111" stroke-width="1.2"/>
<line x1="305" y1="158" x2="305" y2="233.4" stroke="#222" stroke-width="1.1"/>
<circle cx="305" cy="173.5" r="1.8" fill="#111"/>
<line x1="305" y1="173.5" x2="328.5" y2="173.5" stroke="#222" stroke-width="1.1"/>
<rect x="302.8" y="206.8" width="4.4" height="10.5" fill="#fff" stroke="#222" stroke-width="0.9"/>
<text x="289.5" y="210" font-size="5.2" font-family="Liberation Sans" font-weight="bold" text-anchor="start" fill="#111" textLength="10.5" lengthAdjust="spacingAndGlyphs">R603</text>
<text x="289.5" y="215.8" font-size="5.2" font-family="Liberation Sans" font-weight="bold" text-anchor="start" fill="#111" textLength="9" lengthAdjust="spacingAndGlyphs">1,5k</text>
<line x1="239.7" y1="149.1" x2="284.3" y2="149.1" stroke="#222" stroke-width="1.1"/>
<rect x="253.1" y="145.3" width="2.6" height="7.5" fill="#fff"/>
<line x1="253.1" y1="145.3" x2="253.1" y2="152.8" stroke="#111" stroke-width="1.4"/>
<line x1="255.7" y1="145.3" x2="255.7" y2="152.8" stroke="#111" stroke-width="1.4"/>
<circle cx="267.5" cy="149.1" r="1.8" fill="#111"/>
<text x="249" y="136" font-size="5.2" font-family="Liberation Sans" font-weight="bold" text-anchor="start" fill="#111" textLength="9" lengthAdjust="spacingAndGlyphs">C617</text>
<text x="249" y="141.8" font-size="5.2" font-family="Liberation Sans" font-weight="bold" text-anchor="start" fill="#111" textLength="8" lengthAdjust="spacingAndGlyphs">0,1µ</text>
<line x1="267.5" y1="149.1" x2="267.5" y2="191.5" stroke="#222" stroke-width="1.1"/>
<rect x="265.3" y="164.8" width="4.4" height="10.5" fill="#fff" stroke="#222" stroke-width="0.9"/>
<text x="252" y="168" font-size="5.2" font-family="Liberation Sans" font-weight="bold" text-anchor="start" fill="#111" textLength="10" lengthAdjust="spacingAndGlyphs">R607</text>
<text x="252" y="173.8" font-size="5.2" font-family="Liberation Sans" font-weight="bold" text-anchor="start" fill="#111" textLength="10" lengthAdjust="spacingAndGlyphs">470k</text>
<line x1="267.5" y1="191.5" x2="376.4" y2="191.5" stroke="#222" stroke-width="1.1"/>
<circle cx="376.4" cy="191.5" r="1.8" fill="#111"/>
<polyline points="268.5,151 279.5,174.5 292,174.5" fill="none" stroke="#333" stroke-width="0.6"/>
<text x="281" y="173" font-size="5.2" font-family="Liberation Sans" font-weight="bold" text-anchor="start" fill="#222" textLength="9" lengthAdjust="spacingAndGlyphs">1,5V</text>
<polyline points="306,175 319,186 333,186" fill="none" stroke="#333" stroke-width="0.6"/>
<text x="321" y="184.5" font-size="5.2" font-family="Liberation Sans" font-weight="bold" text-anchor="start" fill="#222" textLength="9" lengthAdjust="spacingAndGlyphs">0,9V</text>
<text x="265" y="101" font-size="9.6" font-family="Liberation Sans" font-weight="normal" text-anchor="start" fill="#333" textLength="25" lengthAdjust="spacingAndGlyphs">BC154</text>
<text x="265" y="110" font-size="9.6" font-family="Liberation Sans" font-weight="normal" text-anchor="start" fill="#333" textLength="25" lengthAdjust="spacingAndGlyphs">BC179</text>
<text x="279" y="118.5" font-size="7.2" font-family="Liberation Sans" font-weight="normal" text-anchor="middle" fill="#333" textLength="14" lengthAdjust="spacingAndGlyphs">T625</text>
<line x1="305" y1="124" x2="356.5" y2="124" stroke="#222" stroke-width="1.1"/>
<circle cx="305" cy="124" r="1.8" fill="#111"/>
<circle cx="365" cy="124" r="8.7" fill="none" stroke="#111" stroke-width="2.3"/>
<line x1="364" y1="119.7" x2="364" y2="128.3" stroke="#111" stroke-width="1.9"/>
<line x1="356.3" y1="124" x2="364" y2="124" stroke="#111" stroke-width="1.2"/>
<line x1="364" y1="122.4" x2="370.4" y2="117.7" stroke="#111" stroke-width="1.2"/>
<line x1="364" y1="125.6" x2="370.4" y2="130.3" stroke="#111" stroke-width="1.2"/>
<path d="M369.4,129.5 l-3.2,-0.4 l1.2,-2.6 z" fill="#111"/>
<line x1="369.8" y1="117.5" x2="376.4" y2="115" stroke="#111" stroke-width="1.2"/>
<line x1="369.8" y1="130.5" x2="376.4" y2="133" stroke="#111" stroke-width="1.2"/>
<line x1="376.4" y1="37.4" x2="376.4" y2="115" stroke="#222" stroke-width="1.1"/>
<rect x="374.2" y="52.1" width="4.4" height="10.5" fill="#fff" stroke="#222" stroke-width="0.9"/>
<text x="361" y="55.5" font-size="5.2" font-family="Liberation Sans" font-weight="bold" text-anchor="start" fill="#111" textLength="10.5" lengthAdjust="spacingAndGlyphs">R609</text>
<text x="361" y="61.3" font-size="5.2" font-family="Liberation Sans" font-weight="bold" text-anchor="start" fill="#111" textLength="9" lengthAdjust="spacingAndGlyphs">2,2k</text>
<circle cx="376.4" cy="79.3" r="1.8" fill="#111"/>
<line x1="328.5" y1="79.3" x2="430" y2="79.3" stroke="#222" stroke-width="1.1"/>
<rect x="396.1" y="75.5" width="2.6" height="7.5" fill="#fff"/>
<line x1="396.1" y1="75.5" x2="396.1" y2="83" stroke="#111" stroke-width="1.4"/>
<line x1="398.7" y1="75.5" x2="398.7" y2="83" stroke="#111" stroke-width="1.4"/>
<text x="392" y="67" font-size="5.2" font-family="Liberation Sans" font-weight="bold" text-anchor="start" fill="#111" textLength="9" lengthAdjust="spacingAndGlyphs">C619</text>
<text x="392" y="72.8" font-size="5.2" font-family="Liberation Sans" font-weight="bold" text-anchor="start" fill="#111" textLength="5" lengthAdjust="spacingAndGlyphs">1µ</text>
<line x1="328.5" y1="79.3" x2="328.5" y2="173.5" stroke="#222" stroke-width="1.1"/>
<rect x="326.3" y="143.8" width="4.4" height="10.5" fill="#fff" stroke="#222" stroke-width="0.9"/>
<text x="333" y="147.5" font-size="5.2" font-family="Liberation Sans" font-weight="bold" text-anchor="start" fill="#111" textLength="9" lengthAdjust="spacingAndGlyphs">R605</text>
<text x="333" y="153.3" font-size="5.2" font-family="Liberation Sans" font-weight="bold" text-anchor="start" fill="#111" textLength="8" lengthAdjust="spacingAndGlyphs">22k</text>
<polyline points="376.4,101 362,95 351,95" fill="none" stroke="#333" stroke-width="0.6"/>
<text x="352" y="94" font-size="5.2" font-family="Liberation Sans" font-weight="bold" text-anchor="start" fill="#222" textLength="7" lengthAdjust="spacingAndGlyphs">12V</text>
<line x1="376.4" y1="133" x2="376.4" y2="233.4" stroke="#222" stroke-width="1.1"/>
<circle cx="376.4" cy="149" r="1.8" fill="#111"/>
<line x1="376.4" y1="149" x2="399.5" y2="149" stroke="#222" stroke-width="1.1"/>
<line x1="399.5" y1="149" x2="399.5" y2="233.4" stroke="#222" stroke-width="1.1"/>
<polyline points="400.5,151 403,157 410,157" fill="none" stroke="#333" stroke-width="0.6"/>
<text x="403.5" y="156" font-size="5.2" font-family="Liberation Sans" font-weight="bold" text-anchor="start" fill="#222" textLength="9" lengthAdjust="spacingAndGlyphs">4,3V</text>
<rect x="395.5" y="190.5" width="8" height="2.6" fill="#f5dfe1"/>
<line x1="395.5" y1="190.5" x2="403.5" y2="190.5" stroke="#111" stroke-width="1.4"/>
<line x1="395.5" y1="193.1" x2="403.5" y2="193.1" stroke="#111" stroke-width="1.4"/>
<text x="402" y="199" font-size="5.2" font-family="Liberation Sans" font-weight="bold" text-anchor="start" fill="#111" textLength="9" lengthAdjust="spacingAndGlyphs">C621</text>
<text x="402" y="204.8" font-size="5.2" font-family="Liberation Sans" font-weight="bold" text-anchor="start" fill="#111" textLength="10" lengthAdjust="spacingAndGlyphs">100µ</text>
<rect x="374.2" y="164.8" width="4.4" height="10.5" fill="#fff" stroke="#222" stroke-width="0.9"/>
<text x="361" y="168" font-size="5.2" font-family="Liberation Sans" font-weight="bold" text-anchor="start" fill="#111" textLength="9" lengthAdjust="spacingAndGlyphs">R611</text>
<text x="361" y="173.8" font-size="5.2" font-family="Liberation Sans" font-weight="bold" text-anchor="start" fill="#111" textLength="7" lengthAdjust="spacingAndGlyphs">430</text>
<rect x="374.2" y="206.8" width="4.4" height="10.5" fill="#fff" stroke="#222" stroke-width="0.9"/>
<text x="361" y="210" font-size="5.2" font-family="Liberation Sans" font-weight="bold" text-anchor="start" fill="#111" textLength="9" lengthAdjust="spacingAndGlyphs">R619</text>
<text x="361" y="215.8" font-size="5.2" font-family="Liberation Sans" font-weight="bold" text-anchor="start" fill="#111" textLength="7" lengthAdjust="spacingAndGlyphs">390</text>
<text x="381.7" y="114" font-size="9.6" font-family="Liberation Sans" font-weight="normal" text-anchor="start" fill="#333" textLength="26" lengthAdjust="spacingAndGlyphs">BC154</text>
<text x="381.7" y="122.9" font-size="9.6" font-family="Liberation Sans" font-weight="normal" text-anchor="start" fill="#333" textLength="26" lengthAdjust="spacingAndGlyphs">BC179</text>
<text x="398.5" y="131" font-size="7.2" font-family="Liberation Sans" font-weight="normal" text-anchor="middle" fill="#333" textLength="15" lengthAdjust="spacingAndGlyphs">T627</text>
<line x1="418.6" y1="37.4" x2="418.6" y2="510.7" stroke="#222" stroke-width="1.1"/>
<line x1="239.7" y1="233.4" x2="436.6" y2="233.4" stroke="#222" stroke-width="1.1"/>
<circle cx="305" cy="233.4" r="1.8" fill="#111"/>
<circle cx="376.4" cy="233.4" r="1.8" fill="#111"/>
<circle cx="399.5" cy="233.4" r="1.8" fill="#111"/>
<line x1="305" y1="233.4" x2="305" y2="322" stroke="#222" stroke-width="1.1"/>
<rect x="302.8" y="263.2" width="4.4" height="10.5" fill="#fff" stroke="#222" stroke-width="0.9"/>
<text x="289.5" y="267" font-size="5.2" font-family="Liberation Sans" font-weight="bold" text-anchor="start" fill="#111" textLength="10.5" lengthAdjust="spacingAndGlyphs">R604</text>
<text x="289.5" y="272.8" font-size="5.2" font-family="Liberation Sans" font-weight="bold" text-anchor="start" fill="#111" textLength="9" lengthAdjust="spacingAndGlyphs">1,5k</text>
<line x1="267.5" y1="289.5" x2="376.4" y2="289.5" stroke="#222" stroke-width="1.1"/>
<circle cx="376.4" cy="289.5" r="1.8" fill="#111"/>
<line x1="267.5" y1="289.5" x2="267.5" y2="331.3" stroke="#222" stroke-width="1.1"/>
<rect x="265.3" y="304.8" width="4.4" height="10.5" fill="#fff" stroke="#222" stroke-width="0.9"/>
<text x="252" y="308.5" font-size="5.2" font-family="Liberation Sans" font-weight="bold" text-anchor="start" fill="#111" textLength="10" lengthAdjust="spacingAndGlyphs">R608</text>
<text x="252" y="314.3" font-size="5.2" font-family="Liberation Sans" font-weight="bold" text-anchor="start" fill="#111" textLength="10" lengthAdjust="spacingAndGlyphs">470k</text>
<circle cx="267.5" cy="331.3" r="1.8" fill="#111"/>
<line x1="239.7" y1="331.3" x2="284.3" y2="331.3" stroke="#222" stroke-width="1.1"/>
<rect x="253.1" y="327.6" width="2.6" height="7.5" fill="#fff"/>
<line x1="253.1" y1="327.6" x2="253.1" y2="335.1" stroke="#111" stroke-width="1.4"/>
<line x1="255.7" y1="327.6" x2="255.7" y2="335.1" stroke="#111" stroke-width="1.4"/>
<text x="249" y="344" font-size="5.2" font-family="Liberation Sans" font-weight="bold" text-anchor="start" fill="#111" textLength="9" lengthAdjust="spacingAndGlyphs">C618</text>
<text x="249" y="349.8" font-size="5.2" font-family="Liberation Sans" font-weight="bold" text-anchor="start" fill="#111" textLength="8" lengthAdjust="spacingAndGlyphs">0,1µ</text>
<polyline points="268.5,329.5 272,322 276,311 285,311" fill="none" stroke="#333" stroke-width="0.6"/>
<text x="280" y="310" font-size="5.2" font-family="Liberation Sans" font-weight="bold" text-anchor="start" fill="#222" textLength="9" lengthAdjust="spacingAndGlyphs">1,5V</text>
<circle cx="293" cy="331.5" r="8.7" fill="none" stroke="#111" stroke-width="2.3"/>
<line x1="292" y1="327.1" x2="292" y2="335.9" stroke="#111" stroke-width="1.9"/>
<line x1="284.3" y1="331.5" x2="292" y2="331.5" stroke="#111" stroke-width="1.2"/>
<line x1="292" y1="329.9" x2="298.4" y2="325.2" stroke="#111" stroke-width="1.2"/>
<line x1="292" y1="333.1" x2="298.4" y2="337.8" stroke="#111" stroke-width="1.2"/>
<path d="M297.4,337 l-3.2,-0.4 l1.2,-2.6 z" fill="#111"/>
<line x1="297.8" y1="325" x2="305" y2="322" stroke="#111" stroke-width="1.2"/>
<line x1="297.8" y1="338" x2="305" y2="340.5" stroke="#111" stroke-width="1.2"/>
<line x1="305" y1="322" x2="305" y2="307" stroke="#222" stroke-width="1.1"/>
<circle cx="305" cy="307" r="1.8" fill="#111"/>
<polyline points="306,306 313,301 322,301" fill="none" stroke="#333" stroke-width="0.6"/>
<text x="320" y="300" font-size="5.2" font-family="Liberation Sans" font-weight="bold" text-anchor="start" fill="#222" textLength="9" lengthAdjust="spacingAndGlyphs">0,9V</text>
<polyline points="305,307 328.5,307 328.5,402.5" fill="none" stroke="#222" stroke-width="1.1"/>
<rect x="326.3" y="326.8" width="4.4" height="10.5" fill="#fff" stroke="#222" stroke-width="0.9"/>
<text x="333" y="331" font-size="5.2" font-family="Liberation Sans" font-weight="bold" text-anchor="start" fill="#111" textLength="9" lengthAdjust="spacingAndGlyphs">R606</text>
<text x="333" y="336.8" font-size="5.2" font-family="Liberation Sans" font-weight="bold" text-anchor="start" fill="#111" textLength="8" lengthAdjust="spacingAndGlyphs">22k</text>
<line x1="305" y1="340.5" x2="305" y2="445" stroke="#222" stroke-width="1.1"/>
<circle cx="305" cy="356.6" r="1.8" fill="#111"/>
<line x1="305" y1="356.6" x2="355.5" y2="356.6" stroke="#222" stroke-width="1.1"/>
<circle cx="364.2" cy="356.6" r="8.7" fill="none" stroke="#111" stroke-width="2.3"/>
<line x1="363.2" y1="352.2" x2="363.2" y2="361" stroke="#111" stroke-width="1.9"/>
<line x1="355.5" y1="356.6" x2="363.2" y2="356.6" stroke="#111" stroke-width="1.2"/>
<line x1="363.2" y1="355" x2="369.6" y2="350.3" stroke="#111" stroke-width="1.2"/>
<line x1="363.2" y1="358.2" x2="369.6" y2="362.9" stroke="#111" stroke-width="1.2"/>
<path d="M368.6,362.1 l-3.2,-0.4 l1.2,-2.6 z" fill="#111"/>
<line x1="369" y1="350" x2="376.4" y2="347.5" stroke="#111" stroke-width="1.2"/>
<line x1="369" y1="363" x2="376.4" y2="366" stroke="#111" stroke-width="1.2"/>
<line x1="376.4" y1="233.4" x2="376.4" y2="347.5" stroke="#222" stroke-width="1.1"/>
<rect x="374.2" y="263.2" width="4.4" height="10.5" fill="#fff" stroke="#222" stroke-width="0.9"/>
<text x="361" y="267" font-size="5.2" font-family="Liberation Sans" font-weight="bold" text-anchor="start" fill="#111" textLength="9" lengthAdjust="spacingAndGlyphs">R614</text>
<text x="361" y="272.8" font-size="5.2" font-family="Liberation Sans" font-weight="bold" text-anchor="start" fill="#111" textLength="7" lengthAdjust="spacingAndGlyphs">390</text>
<rect x="374.2" y="304.8" width="4.4" height="10.5" fill="#fff" stroke="#222" stroke-width="0.9"/>
<text x="361" y="308.5" font-size="5.2" font-family="Liberation Sans" font-weight="bold" text-anchor="start" fill="#111" textLength="9" lengthAdjust="spacingAndGlyphs">R612</text>
<text x="361" y="314.3" font-size="5.2" font-family="Liberation Sans" font-weight="bold" text-anchor="start" fill="#111" textLength="7" lengthAdjust="spacingAndGlyphs">430</text>
<circle cx="376.4" cy="331.3" r="1.8" fill="#111"/>
<line x1="376.4" y1="331.3" x2="399.5" y2="331.3" stroke="#222" stroke-width="1.1"/>
<line x1="399.5" y1="233.4" x2="399.5" y2="331.3" stroke="#222" stroke-width="1.1"/>
<polyline points="400,329 403,324 410,324" fill="none" stroke="#333" stroke-width="0.6"/>
<text x="405" y="323" font-size="5.2" font-family="Liberation Sans" font-weight="bold" text-anchor="start" fill="#222" textLength="9" lengthAdjust="spacingAndGlyphs">4,7V</text>
<rect x="395.5" y="288.2" width="8" height="2.6" fill="#f5dfe1"/>
<line x1="395.5" y1="288.2" x2="403.5" y2="288.2" stroke="#111" stroke-width="1.4"/>
<line x1="395.5" y1="290.8" x2="403.5" y2="290.8" stroke="#111" stroke-width="1.4"/>
<text x="402" y="280" font-size="5.2" font-family="Liberation Sans" font-weight="bold" text-anchor="start" fill="#111" textLength="9" lengthAdjust="spacingAndGlyphs">C622</text>
<text x="402" y="285.8" font-size="5.2" font-family="Liberation Sans" font-weight="bold" text-anchor="start" fill="#111" textLength="10" lengthAdjust="spacingAndGlyphs">100µ</text>
<line x1="376.4" y1="366" x2="376.4" y2="445" stroke="#222" stroke-width="1.1"/>
<polyline points="376,381 367,385 352,385" fill="none" stroke="#333" stroke-width="0.6"/>
<text x="353" y="384" font-size="5.2" font-family="Liberation Sans" font-weight="bold" text-anchor="start" fill="#222" textLength="7" lengthAdjust="spacingAndGlyphs">12V</text>
<polyline points="304.5,390 298,400 286,400" fill="none" stroke="#333" stroke-width="0.6"/>
<text x="287" y="399" font-size="5.2" font-family="Liberation Sans" font-weight="bold" text-anchor="start" fill="#222" textLength="9" lengthAdjust="spacingAndGlyphs">4,7V</text>
<circle cx="376.4" cy="402.5" r="1.8" fill="#111"/>
<line x1="328.5" y1="402.5" x2="430" y2="402.5" stroke="#222" stroke-width="1.1"/>
<rect x="395.7" y="398.8" width="2.6" height="7.5" fill="#fff"/>
<line x1="395.7" y1="398.8" x2="395.7" y2="406.2" stroke="#111" stroke-width="1.4"/>
<line x1="398.3" y1="398.8" x2="398.3" y2="406.2" stroke="#111" stroke-width="1.4"/>
<text x="393" y="411" font-size="5.2" font-family="Liberation Sans" font-weight="bold" text-anchor="start" fill="#111" textLength="9" lengthAdjust="spacingAndGlyphs">C620</text>
<text x="393" y="416.8" font-size="5.2" font-family="Liberation Sans" font-weight="bold" text-anchor="start" fill="#111" textLength="5" lengthAdjust="spacingAndGlyphs">1µ</text>
<rect x="302.8" y="418.1" width="4.4" height="10.5" fill="#fff" stroke="#222" stroke-width="0.9"/>
<text x="289.5" y="422" font-size="5.2" font-family="Liberation Sans" font-weight="bold" text-anchor="start" fill="#111" textLength="11" lengthAdjust="spacingAndGlyphs">R602</text>
<text x="289.5" y="427.8" font-size="5.2" font-family="Liberation Sans" font-weight="bold" text-anchor="start" fill="#111" textLength="11" lengthAdjust="spacingAndGlyphs">120k</text>
<rect x="374.2" y="418.1" width="4.4" height="10.5" fill="#fff" stroke="#222" stroke-width="0.9"/>
<text x="361" y="422" font-size="5.2" font-family="Liberation Sans" font-weight="bold" text-anchor="start" fill="#111" textLength="10.5" lengthAdjust="spacingAndGlyphs">R610</text>
<text x="361" y="427.8" font-size="5.2" font-family="Liberation Sans" font-weight="bold" text-anchor="start" fill="#111" textLength="9" lengthAdjust="spacingAndGlyphs">2,2k</text>
<line x1="305" y1="445" x2="418.6" y2="445" stroke="#222" stroke-width="1.1"/>
<circle cx="376.4" cy="445" r="1.8" fill="#111"/>
<circle cx="418.6" cy="445" r="1.8" fill="#111"/>
<text x="272.5" y="365.8" font-size="7.2" font-family="Liberation Sans" font-weight="normal" text-anchor="start" fill="#333" textLength="15" lengthAdjust="spacingAndGlyphs">T626</text>
<text x="265" y="376.3" font-size="9.6" font-family="Liberation Sans" font-weight="normal" text-anchor="start" fill="#333" textLength="26" lengthAdjust="spacingAndGlyphs">BC179</text>
<text x="265" y="385.5" font-size="9.6" font-family="Liberation Sans" font-weight="normal" text-anchor="start" fill="#333" textLength="26" lengthAdjust="spacingAndGlyphs">BC154</text>
<text x="380" y="345.8" font-size="9.6" font-family="Liberation Sans" font-weight="normal" text-anchor="start" fill="#333" textLength="26" lengthAdjust="spacingAndGlyphs">BC154</text>
<text x="380" y="354.5" font-size="9.6" font-family="Liberation Sans" font-weight="normal" text-anchor="start" fill="#333" textLength="26" lengthAdjust="spacingAndGlyphs">BC179</text>
<text x="388.6" y="362.3" font-size="7.2" font-family="Liberation Sans" font-weight="normal" text-anchor="start" fill="#333" textLength="15" lengthAdjust="spacingAndGlyphs">T628</text>
<text x="242" y="154" font-size="5" font-family="Liberation Sans" font-weight="normal" text-anchor="start" fill="#222">3</text>
<text x="242" y="238.5" font-size="5" font-family="Liberation Sans" font-weight="normal" text-anchor="start" fill="#222">2</text>
<text x="242" y="336.5" font-size="5" font-family="Liberation Sans" font-weight="normal" text-anchor="start" fill="#222">1</text>
<text x="426" y="84.5" font-size="5" font-family="Liberation Sans" font-weight="normal" text-anchor="start" fill="#222">5</text>
<text x="426" y="238.5" font-size="5" font-family="Liberation Sans" font-weight="normal" text-anchor="start" fill="#222">6</text>
<text x="426" y="407.5" font-size="5" font-family="Liberation Sans" font-weight="normal" text-anchor="start" fill="#222">7</text>
<text x="415" y="473.5" font-size="5" font-family="Liberation Sans" font-weight="normal" text-anchor="start" fill="#222">4</text>
<circle cx="418.6" cy="510.7" r="1.8" fill="#111"/>
<polyline points="419,488 423,495 440,495" fill="none" stroke="#333" stroke-width="0.6"/>
<text x="427" y="493.5" font-size="5.2" font-family="Liberation Sans" font-weight="bold" text-anchor="start" fill="#222" textLength="14" lengthAdjust="spacingAndGlyphs">11 mA</text>
<line x1="430" y1="79.3" x2="476.3" y2="79.3" stroke="#222" stroke-width="1.1"/>
<circle cx="448.8" cy="79.3" r="1.8" fill="#111"/>
<circle cx="476.3" cy="79.3" r="1.9" fill="#111"/>
<text x="476.3" y="87" font-size="4.2" font-family="Liberation Sans" font-weight="normal" text-anchor="middle" fill="#222">1</text>
<circle cx="484.2" cy="79.3" r="1.9" fill="#111"/>
<text x="484.2" y="87" font-size="4.2" font-family="Liberation Sans" font-weight="normal" text-anchor="middle" fill="#222">2</text>
<circle cx="492.1" cy="79.3" r="1.9" fill="#111"/>
<text x="492.1" y="87" font-size="4.2" font-family="Liberation Sans" font-weight="normal" text-anchor="middle" fill="#222">3</text>
<line x1="475" y1="76" x2="484" y2="76" stroke="#111" stroke-width="1.3"/>
<line x1="483" y1="74" x2="491" y2="74" stroke="#222" stroke-width="0.7"/>
<path d="M492,74 l-3,-1.2 l0,2.4z" fill="#222"/>
<text x="495.5" y="75" font-size="5" font-family="Liberation Sans" font-weight="normal" text-anchor="middle" fill="#222">I</text>
<line x1="492.1" y1="79.3" x2="528.6" y2="79.3" stroke="#222" stroke-width="1.1"/>
<rect x="508.2" y="75.5" width="2.6" height="7.5" fill="#fff"/>
<line x1="508.2" y1="75.5" x2="508.2" y2="83" stroke="#111" stroke-width="1.4"/>
<line x1="510.8" y1="75.5" x2="510.8" y2="83" stroke="#111" stroke-width="1.4"/>
<line x1="528.6" y1="75.8" x2="528.6" y2="82.8" stroke="#111" stroke-width="1.3"/>
<text x="502" y="89" font-size="5.2" font-family="Liberation Sans" font-weight="bold" text-anchor="start" fill="#111" textLength="12" lengthAdjust="spacingAndGlyphs">C1422</text>
<text x="502" y="94.8" font-size="5.2" font-family="Liberation Sans" font-weight="bold" text-anchor="start" fill="#111" textLength="14" lengthAdjust="spacingAndGlyphs">0,015µ</text>
<line x1="448.8" y1="79.3" x2="448.8" y2="131.4" stroke="#222" stroke-width="1.1"/>
<rect x="446.6" y="93.3" width="4.4" height="10.5" fill="#fff" stroke="#222" stroke-width="0.9"/>
<text x="453" y="98" font-size="5.2" font-family="Liberation Sans" font-weight="bold" text-anchor="start" fill="#111" textLength="11" lengthAdjust="spacingAndGlyphs">R1410</text>
<text x="453" y="103.8" font-size="5.2" font-family="Liberation Sans" font-weight="bold" text-anchor="start" fill="#111" textLength="9" lengthAdjust="spacingAndGlyphs">3,3k</text>
<circle cx="448.8" cy="119.2" r="1.8" fill="#111"/>
<polyline points="448.8,119.2 484.2,119.2 484.2,79.3" fill="none" stroke="#222" stroke-width="1.1"/>
<line x1="448.2" y1="350.2" x2="448.2" y2="402.5" stroke="#222" stroke-width="1.1"/>
<circle cx="448.2" cy="362" r="1.8" fill="#111"/>
<polyline points="448.2,362 483.8,362 483.8,402.5" fill="none" stroke="#222" stroke-width="1.1"/>
<rect x="446" y="376.6" width="4.4" height="10.5" fill="#fff" stroke="#222" stroke-width="0.9"/>
<text x="452.5" y="380" font-size="5.2" font-family="Liberation Sans" font-weight="bold" text-anchor="start" fill="#111" textLength="11" lengthAdjust="spacingAndGlyphs">R1411</text>
<text x="452.5" y="385.8" font-size="5.2" font-family="Liberation Sans" font-weight="bold" text-anchor="start" fill="#111" textLength="9" lengthAdjust="spacingAndGlyphs">3,3k</text>
<line x1="430" y1="402.5" x2="476.5" y2="402.5" stroke="#222" stroke-width="1.1"/>
<circle cx="448.2" cy="402.5" r="1.8" fill="#111"/>
<circle cx="476.5" cy="402.5" r="1.9" fill="#111"/>
<text x="476.5" y="398" font-size="4.2" font-family="Liberation Sans" font-weight="normal" text-anchor="middle" fill="#222">4</text>
<circle cx="484" cy="402.5" r="1.9" fill="#111"/>
<text x="484" y="398" font-size="4.2" font-family="Liberation Sans" font-weight="normal" text-anchor="middle" fill="#222">5</text>
<circle cx="492.3" cy="402.5" r="1.9" fill="#111"/>
<text x="492.3" y="398" font-size="4.2" font-family="Liberation Sans" font-weight="normal" text-anchor="middle" fill="#222">6</text>
<line x1="475" y1="405.5" x2="484" y2="405.5" stroke="#111" stroke-width="1.3"/>
<line x1="483" y1="407.5" x2="491" y2="407.5" stroke="#222" stroke-width="0.7"/>
<path d="M492,407.5 l-3,-1.2 l0,2.4z" fill="#222"/>
<text x="496" y="410" font-size="5" font-family="Liberation Sans" font-weight="normal" text-anchor="middle" fill="#222">I</text>
<line x1="492.3" y1="402.5" x2="529" y2="402.5" stroke="#222" stroke-width="1.1"/>
<rect x="508.5" y="398.8" width="2.6" height="7.5" fill="#fff"/>
<line x1="508.5" y1="398.8" x2="508.5" y2="406.2" stroke="#111" stroke-width="1.4"/>
<line x1="511.1" y1="398.8" x2="511.1" y2="406.2" stroke="#111" stroke-width="1.4"/>
<line x1="529" y1="399" x2="529" y2="406" stroke="#111" stroke-width="1.3"/>
<text x="503" y="391" font-size="5.2" font-family="Liberation Sans" font-weight="bold" text-anchor="start" fill="#111" textLength="12" lengthAdjust="spacingAndGlyphs">C1423</text>
<text x="503" y="396.8" font-size="5.2" font-family="Liberation Sans" font-weight="bold" text-anchor="start" fill="#111" textLength="14" lengthAdjust="spacingAndGlyphs">0,015µ</text>
<line x1="448.5" y1="131.4" x2="448.5" y2="350.2" stroke="#222" stroke-width="1.1"/>
<circle cx="448.5" cy="143.5" r="1.8" fill="#111"/>
<circle cx="448.5" cy="233.8" r="1.8" fill="#111"/>
<circle cx="448.5" cy="324.5" r="1.8" fill="#111"/>
<line x1="448.5" y1="143.5" x2="584" y2="143.5" stroke="#222" stroke-width="1.1"/>
<rect x="460.5" y="141.4" width="11" height="4.2" fill="#fff" stroke="#222" stroke-width="0.9"/>
<text x="461" y="151" font-size="5.2" font-family="Liberation Sans" font-weight="bold" text-anchor="start" fill="#111" textLength="9" lengthAdjust="spacingAndGlyphs">R405</text>
<text x="461" y="156.8" font-size="5.2" font-family="Liberation Sans" font-weight="bold" text-anchor="start" fill="#111" textLength="8" lengthAdjust="spacingAndGlyphs">33k</text>
<circle cx="484" cy="143.5" r="1.8" fill="#111"/>
<circle cx="502.7" cy="143.5" r="1.8" fill="#111"/>
<rect x="513.7" y="139.8" width="2.6" height="7.5" fill="#fff"/>
<line x1="513.7" y1="139.8" x2="513.7" y2="147.2" stroke="#111" stroke-width="1.4"/>
<line x1="516.3" y1="139.8" x2="516.3" y2="147.2" stroke="#111" stroke-width="1.4"/>
<text x="510" y="151" font-size="5.2" font-family="Liberation Sans" font-weight="bold" text-anchor="start" fill="#111" textLength="9" lengthAdjust="spacingAndGlyphs">C424</text>
<text x="510" y="156.8" font-size="5.2" font-family="Liberation Sans" font-weight="bold" text-anchor="start" fill="#111" textLength="10" lengthAdjust="spacingAndGlyphs">1000</text>
<rect x="538.9" y="141.4" width="11" height="4.2" fill="#fff" stroke="#222" stroke-width="0.9"/>
<text x="539.5" y="151" font-size="5.2" font-family="Liberation Sans" font-weight="bold" text-anchor="start" fill="#111" textLength="9" lengthAdjust="spacingAndGlyphs">R413</text>
<text x="539.5" y="156.8" font-size="5.2" font-family="Liberation Sans" font-weight="bold" text-anchor="start" fill="#111" textLength="7" lengthAdjust="spacingAndGlyphs">10k</text>
<line x1="584" y1="143.5" x2="584" y2="233.8" stroke="#222" stroke-width="1.1"/>
<rect x="446.3" y="189.5" width="4.4" height="11.6" fill="#fff" stroke="#222" stroke-width="0.9"/>
<line x1="442" y1="201.8" x2="454" y2="188.3" stroke="#111" stroke-width="0.9"/>
<path d="M454.7,187.5 l-3.4,1 l1.6,2z" fill="#111"/>
<circle cx="455" cy="188.5" r="1.8" fill="#111"/>
<polyline points="455,188.5 484,188.5 484,143.5" fill="none" stroke="#222" stroke-width="1.1"/>
<text x="454" y="199" font-size="5.2" font-family="Liberation Sans" font-weight="bold" text-anchor="start" fill="#111" textLength="9" lengthAdjust="spacingAndGlyphs">R401</text>
<text x="454" y="204.8" font-size="5.2" font-family="Liberation Sans" font-weight="bold" text-anchor="start" fill="#111" textLength="9.5" lengthAdjust="spacingAndGlyphs">200k</text>
<path d="M453,214.5 l0,7 l7,-3.5z M467.5,214.5 l0,7 l-7,-3.5z" fill="#111"/>
<line x1="502.7" y1="143.5" x2="502.7" y2="233.8" stroke="#222" stroke-width="1.1"/>
<rect x="500.5" y="151.8" width="4.4" height="10.5" fill="#fff" stroke="#222" stroke-width="0.9"/>
<text x="488" y="155.5" font-size="5.2" font-family="Liberation Sans" font-weight="bold" text-anchor="start" fill="#111" textLength="9" lengthAdjust="spacingAndGlyphs">R407</text>
<text x="488" y="161.3" font-size="5.2" font-family="Liberation Sans" font-weight="bold" text-anchor="start" fill="#111" textLength="8" lengthAdjust="spacingAndGlyphs">22k</text>
<circle cx="502.7" cy="170.4" r="1.8" fill="#111"/>
<line x1="502.7" y1="170.4" x2="525.9" y2="170.4" stroke="#222" stroke-width="1.1"/>
<rect x="513.7" y="166.7" width="2.6" height="7.5" fill="#fff"/>
<line x1="513.7" y1="166.7" x2="513.7" y2="174.2" stroke="#111" stroke-width="1.4"/>
<line x1="516.3" y1="166.7" x2="516.3" y2="174.2" stroke="#111" stroke-width="1.4"/>
<line x1="525.9" y1="170.4" x2="525.9" y2="207" stroke="#222" stroke-width="1.1"/>
<text x="510" y="180" font-size="5.2" font-family="Liberation Sans" font-weight="bold" text-anchor="start" fill="#111" textLength="9" lengthAdjust="spacingAndGlyphs">C422</text>
<text x="510" y="185.8" font-size="5.2" font-family="Liberation Sans" font-weight="bold" text-anchor="start" fill="#111" textLength="11" lengthAdjust="spacingAndGlyphs">0,01µ</text>
<rect x="500.5" y="189.5" width="4.4" height="11.6" fill="#fff" stroke="#222" stroke-width="0.9"/>
<line x1="496.2" y1="201.8" x2="508.2" y2="188.3" stroke="#111" stroke-width="0.9"/>
<path d="M508.9,187.5 l-3.4,1 l1.6,2z" fill="#111"/>
<circle cx="509" cy="189" r="1.8" fill="#111"/>
<line x1="509" y1="189" x2="563.4" y2="189" stroke="#222" stroke-width="1.1"/>
<circle cx="525.9" cy="189" r="1.8" fill="#111"/>
<circle cx="563.4" cy="189" r="1.8" fill="#111"/>
<text x="488" y="206" font-size="5.2" font-family="Liberation Sans" font-weight="bold" text-anchor="start" fill="#111" textLength="9" lengthAdjust="spacingAndGlyphs">R402</text>
<text x="488" y="211.8" font-size="5.2" font-family="Liberation Sans" font-weight="bold" text-anchor="start" fill="#111" textLength="9.5" lengthAdjust="spacingAndGlyphs">200k</text>
<rect x="521.9" y="197.2" width="8" height="2.6" fill="#f4e0e3"/>
<line x1="521.9" y1="197.2" x2="529.9" y2="197.2" stroke="#111" stroke-width="1.4"/>
<line x1="521.9" y1="199.8" x2="529.9" y2="199.8" stroke="#111" stroke-width="1.4"/>
<text x="531" y="200" font-size="5.2" font-family="Liberation Sans" font-weight="bold" text-anchor="start" fill="#111" textLength="9" lengthAdjust="spacingAndGlyphs">C420</text>
<text x="531" y="205.8" font-size="5.2" font-family="Liberation Sans" font-weight="bold" text-anchor="start" fill="#111" textLength="14" lengthAdjust="spacingAndGlyphs">0,068µ</text>
<circle cx="502.7" cy="207" r="1.8" fill="#111"/>
<line x1="502.7" y1="207" x2="525.9" y2="207" stroke="#222" stroke-width="1.1"/>
<rect x="538.9" y="186.9" width="11" height="4.2" fill="#fff" stroke="#222" stroke-width="0.9"/>
<text x="539.5" y="180" font-size="5.2" font-family="Liberation Sans" font-weight="bold" text-anchor="start" fill="#111" textLength="9" lengthAdjust="spacingAndGlyphs">R411</text>
<text x="539.5" y="185.8" font-size="5.2" font-family="Liberation Sans" font-weight="bold" text-anchor="start" fill="#111" textLength="8" lengthAdjust="spacingAndGlyphs">22k</text>
<polyline points="563.4,189 563.4,170.4 596.7,170.4" fill="none" stroke="#222" stroke-width="1.1"/>
<circle cx="577.5" cy="189" r="1.8" fill="#111"/>
<line x1="563.4" y1="189" x2="579" y2="189" stroke="#222" stroke-width="1.1"/>
<rect x="581.8" y="189.5" width="4.4" height="11.6" fill="#fff" stroke="#222" stroke-width="0.9"/>
<line x1="577.5" y1="188.8" x2="589.5" y2="202.3" stroke="#111" stroke-width="0.9"/>
<text x="569" y="180" font-size="5.2" font-family="Liberation Sans" font-weight="bold" text-anchor="start" fill="#111" textLength="9" lengthAdjust="spacingAndGlyphs">R403</text>
<text x="569" y="185.8" font-size="5.2" font-family="Liberation Sans" font-weight="bold" text-anchor="start" fill="#111" textLength="9.5" lengthAdjust="spacingAndGlyphs">200k</text>
<rect x="500.5" y="216.2" width="4.4" height="10.5" fill="#fff" stroke="#222" stroke-width="0.9"/>
<text x="507" y="221" font-size="5.2" font-family="Liberation Sans" font-weight="bold" text-anchor="start" fill="#111" textLength="9" lengthAdjust="spacingAndGlyphs">R409</text>
<text x="507" y="226.8" font-size="5.2" font-family="Liberation Sans" font-weight="bold" text-anchor="start" fill="#111" textLength="9" lengthAdjust="spacingAndGlyphs">2,2k</text>
<rect x="580" y="216.7" width="8" height="2.6" fill="#f4e0e3"/>
<line x1="580" y1="216.7" x2="588" y2="216.7" stroke="#111" stroke-width="1.4"/>
<line x1="580" y1="219.3" x2="588" y2="219.3" stroke="#111" stroke-width="1.4"/>
<text x="565" y="218" font-size="5.2" font-family="Liberation Sans" font-weight="bold" text-anchor="start" fill="#111" textLength="9" lengthAdjust="spacingAndGlyphs">C426</text>
<text x="565" y="223.8" font-size="5.2" font-family="Liberation Sans" font-weight="bold" text-anchor="start" fill="#111" textLength="11" lengthAdjust="spacingAndGlyphs">0,01µ</text>
<text x="524" y="221" font-size="9" font-family="Liberation Sans" font-weight="bold" text-anchor="start" fill="#111">9:</text>
<text x="556" y="222" font-size="13" font-family="Liberation Sans" font-weight="normal" text-anchor="middle" fill="#111">𝄞</text>
<circle cx="502.7" cy="233.8" r="1.8" fill="#111"/>
<circle cx="584" cy="233.8" r="1.8" fill="#111"/>
<line x1="436.6" y1="233.8" x2="604" y2="233.8" stroke="#222" stroke-width="1.1"/>
<line x1="502.7" y1="233.8" x2="502.7" y2="324.5" stroke="#222" stroke-width="1.1"/>
<line x1="584" y1="233.8" x2="584" y2="324.5" stroke="#222" stroke-width="1.1"/>
<rect x="500.5" y="242.2" width="4.4" height="10.5" fill="#fff" stroke="#222" stroke-width="0.9"/>
<text x="507" y="247" font-size="5.2" font-family="Liberation Sans" font-weight="bold" text-anchor="start" fill="#111" textLength="9" lengthAdjust="spacingAndGlyphs">R410</text>
<text x="507" y="252.8" font-size="5.2" font-family="Liberation Sans" font-weight="bold" text-anchor="start" fill="#111" textLength="9" lengthAdjust="spacingAndGlyphs">2,2k</text>
<circle cx="502.7" cy="261" r="1.8" fill="#111"/>
<line x1="502.7" y1="261" x2="525.9" y2="261" stroke="#222" stroke-width="1.1"/>
<line x1="525.9" y1="261" x2="525.9" y2="279.4" stroke="#222" stroke-width="1.1"/>
<text x="524" y="252" font-size="9" font-family="Liberation Sans" font-weight="bold" text-anchor="start" fill="#111">9:</text>
<text x="556" y="259" font-size="13" font-family="Liberation Sans" font-weight="normal" text-anchor="middle" fill="#111">𝄞</text>
<rect x="580" y="250.7" width="8" height="2.6" fill="#f4e0e3"/>
<line x1="580" y1="250.7" x2="588" y2="250.7" stroke="#111" stroke-width="1.4"/>
<line x1="580" y1="253.3" x2="588" y2="253.3" stroke="#111" stroke-width="1.4"/>
<text x="565" y="250" font-size="5.2" font-family="Liberation Sans" font-weight="bold" text-anchor="start" fill="#111" textLength="9" lengthAdjust="spacingAndGlyphs">C427</text>
<text x="565" y="255.8" font-size="5.2" font-family="Liberation Sans" font-weight="bold" text-anchor="start" fill="#111" textLength="11" lengthAdjust="spacingAndGlyphs">0,01µ</text>
<path d="M453,249 l0,7 l7,-3.5z M467.5,249 l0,7 l-7,-3.5z" fill="#111"/>
<rect x="446.3" y="269.2" width="4.4" height="11.6" fill="#fff" stroke="#222" stroke-width="0.9"/>
<line x1="442" y1="268.5" x2="454" y2="282" stroke="#111" stroke-width="0.9"/>
<circle cx="455" cy="279.4" r="1.8" fill="#111"/>
<polyline points="455,279.4 484,279.4 484,324.5" fill="none" stroke="#222" stroke-width="1.1"/>
<text x="454" y="262" font-size="5.2" font-family="Liberation Sans" font-weight="bold" text-anchor="start" fill="#111" textLength="9" lengthAdjust="spacingAndGlyphs">R401</text>
<text x="454" y="267.8" font-size="5.2" font-family="Liberation Sans" font-weight="bold" text-anchor="start" fill="#111" textLength="9.5" lengthAdjust="spacingAndGlyphs">200k</text>
<rect x="500.5" y="270.2" width="4.4" height="11.6" fill="#fff" stroke="#222" stroke-width="0.9"/>
<line x1="496.2" y1="269.5" x2="508.2" y2="283" stroke="#111" stroke-width="0.9"/>
<circle cx="509" cy="279.4" r="1.8" fill="#111"/>
<line x1="509" y1="279.4" x2="563.4" y2="279.4" stroke="#222" stroke-width="1.1"/>
<circle cx="525.9" cy="279.4" r="1.8" fill="#111"/>
<circle cx="563.4" cy="279.4" r="1.8" fill="#111"/>
<text x="487" y="257" font-size="5.2" font-family="Liberation Sans" font-weight="bold" text-anchor="start" fill="#111" textLength="9" lengthAdjust="spacingAndGlyphs">R402</text>
<text x="487" y="262.8" font-size="5.2" font-family="Liberation Sans" font-weight="bold" text-anchor="start" fill="#111" textLength="9.5" lengthAdjust="spacingAndGlyphs">200k</text>
<rect x="521.9" y="268.7" width="8" height="2.6" fill="#f4e0e3"/>
<line x1="521.9" y1="268.7" x2="529.9" y2="268.7" stroke="#111" stroke-width="1.4"/>
<line x1="521.9" y1="271.3" x2="529.9" y2="271.3" stroke="#111" stroke-width="1.4"/>
<text x="531" y="263" font-size="5.2" font-family="Liberation Sans" font-weight="bold" text-anchor="start" fill="#111" textLength="9" lengthAdjust="spacingAndGlyphs">C421</text>
<text x="531" y="268.8" font-size="5.2" font-family="Liberation Sans" font-weight="bold" text-anchor="start" fill="#111" textLength="14" lengthAdjust="spacingAndGlyphs">0,068µ</text>
<rect x="538.9" y="277.3" width="11" height="4.2" fill="#fff" stroke="#222" stroke-width="0.9"/>
<text x="539.5" y="288" font-size="5.2" font-family="Liberation Sans" font-weight="bold" text-anchor="start" fill="#111" textLength="9" lengthAdjust="spacingAndGlyphs">R412</text>
<text x="539.5" y="293.8" font-size="5.2" font-family="Liberation Sans" font-weight="bold" text-anchor="start" fill="#111" textLength="8" lengthAdjust="spacingAndGlyphs">22k</text>
<rect x="581.8" y="270.2" width="4.4" height="11.6" fill="#fff" stroke="#222" stroke-width="0.9"/>
<line x1="577.5" y1="282.5" x2="589.5" y2="269" stroke="#111" stroke-width="0.9"/>
<path d="M590.2,268.2 l-3.4,1 l1.6,2z" fill="#111"/>
<text x="569" y="287" font-size="5.2" font-family="Liberation Sans" font-weight="bold" text-anchor="start" fill="#111" textLength="9" lengthAdjust="spacingAndGlyphs">R403</text>
<text x="569" y="292.8" font-size="5.2" font-family="Liberation Sans" font-weight="bold" text-anchor="start" fill="#111" textLength="9.5" lengthAdjust="spacingAndGlyphs">200k</text>
<circle cx="577.5" cy="279.4" r="1.8" fill="#111"/>
<line x1="563.4" y1="279.4" x2="579" y2="279.4" stroke="#222" stroke-width="1.1"/>
<polyline points="563.4,279.4 563.4,298.7 596.7,298.7" fill="none" stroke="#222" stroke-width="1.1"/>
<circle cx="502.7" cy="298" r="1.8" fill="#111"/>
<polyline points="502.7,298 525.9,298 525.9,279.4" fill="none" stroke="#222" stroke-width="1.1"/>
<rect x="513.7" y="294.2" width="2.6" height="7.5" fill="#fff"/>
<line x1="513.7" y1="294.2" x2="513.7" y2="301.8" stroke="#111" stroke-width="1.4"/>
<line x1="516.3" y1="294.2" x2="516.3" y2="301.8" stroke="#111" stroke-width="1.4"/>
<text x="510" y="306" font-size="5.2" font-family="Liberation Sans" font-weight="bold" text-anchor="start" fill="#111" textLength="9" lengthAdjust="spacingAndGlyphs">C423</text>
<text x="510" y="311.8" font-size="5.2" font-family="Liberation Sans" font-weight="bold" text-anchor="start" fill="#111" textLength="11" lengthAdjust="spacingAndGlyphs">0,01µ</text>
<rect x="500.5" y="305.8" width="4.4" height="10.5" fill="#fff" stroke="#222" stroke-width="0.9"/>
<text x="488" y="310" font-size="5.2" font-family="Liberation Sans" font-weight="bold" text-anchor="start" fill="#111" textLength="9" lengthAdjust="spacingAndGlyphs">R408</text>
<text x="488" y="315.8" font-size="5.2" font-family="Liberation Sans" font-weight="bold" text-anchor="start" fill="#111" textLength="8" lengthAdjust="spacingAndGlyphs">22k</text>
<line x1="448.5" y1="324.5" x2="584" y2="324.5" stroke="#222" stroke-width="1.1"/>
<rect x="460.5" y="322.4" width="11" height="4.2" fill="#fff" stroke="#222" stroke-width="0.9"/>
<text x="461" y="314" font-size="5.2" font-family="Liberation Sans" font-weight="bold" text-anchor="start" fill="#111" textLength="9" lengthAdjust="spacingAndGlyphs">R406</text>
<text x="461" y="319.8" font-size="5.2" font-family="Liberation Sans" font-weight="bold" text-anchor="start" fill="#111" textLength="8" lengthAdjust="spacingAndGlyphs">33k</text>
<circle cx="484" cy="324.5" r="1.8" fill="#111"/>
<circle cx="502.7" cy="324.5" r="1.8" fill="#111"/>
<rect x="513.7" y="320.8" width="2.6" height="7.5" fill="#fff"/>
<line x1="513.7" y1="320.8" x2="513.7" y2="328.2" stroke="#111" stroke-width="1.4"/>
<line x1="516.3" y1="320.8" x2="516.3" y2="328.2" stroke="#111" stroke-width="1.4"/>
<text x="510" y="333" font-size="5.2" font-family="Liberation Sans" font-weight="bold" text-anchor="start" fill="#111" textLength="9" lengthAdjust="spacingAndGlyphs">C425</text>
<text x="510" y="338.8" font-size="5.2" font-family="Liberation Sans" font-weight="bold" text-anchor="start" fill="#111" textLength="10" lengthAdjust="spacingAndGlyphs">1000</text>
<rect x="538.9" y="322.4" width="11" height="4.2" fill="#fff" stroke="#222" stroke-width="0.9"/>
<text x="539.5" y="314" font-size="5.2" font-family="Liberation Sans" font-weight="bold" text-anchor="start" fill="#111" textLength="9" lengthAdjust="spacingAndGlyphs">R414</text>
<text x="539.5" y="319.8" font-size="5.2" font-family="Liberation Sans" font-weight="bold" text-anchor="start" fill="#111" textLength="7" lengthAdjust="spacingAndGlyphs">10k</text>
<text x="440" y="138" font-size="5" font-family="Liberation Sans" font-weight="normal" text-anchor="start" fill="#222">7</text>
<text x="440" y="239" font-size="5" font-family="Liberation Sans" font-weight="normal" text-anchor="start" fill="#222">3</text>
<text x="590" y="167" font-size="5" font-family="Liberation Sans" font-weight="normal" text-anchor="start" fill="#222">5</text>
<text x="590" y="237" font-size="5" font-family="Liberation Sans" font-weight="normal" text-anchor="start" fill="#222">6</text>
<text x="590" y="302" font-size="5" font-family="Liberation Sans" font-weight="normal" text-anchor="start" fill="#222">4</text>
<text x="451" y="348" font-size="5" font-family="Liberation Sans" font-weight="normal" text-anchor="start" fill="#222">2</text>
<text x="425" y="239" font-size="5" font-family="Liberation Sans" font-weight="normal" text-anchor="start" fill="#222">6</text>
<line x1="596.7" y1="170.4" x2="629" y2="170.4" stroke="#222" stroke-width="1.1"/>
<rect x="615.5" y="166.7" width="2.6" height="7.5" fill="#fff"/>
<line x1="615.5" y1="166.7" x2="615.5" y2="174.2" stroke="#111" stroke-width="1.4"/>
<line x1="618.1" y1="166.7" x2="618.1" y2="174.2" stroke="#111" stroke-width="1.4"/>
<circle cx="629" cy="170.4" r="1.8" fill="#111"/>
<text x="610" y="180" font-size="5.2" font-family="Liberation Sans" font-weight="bold" text-anchor="start" fill="#111" textLength="9" lengthAdjust="spacingAndGlyphs">C560</text>
<text x="610" y="185.8" font-size="5.2" font-family="Liberation Sans" font-weight="bold" text-anchor="start" fill="#111" textLength="5" lengthAdjust="spacingAndGlyphs">1µ</text>
<line x1="596.7" y1="298.7" x2="629" y2="298.7" stroke="#222" stroke-width="1.1"/>
<rect x="615.5" y="294.9" width="2.6" height="7.5" fill="#fff"/>
<line x1="615.5" y1="294.9" x2="615.5" y2="302.4" stroke="#111" stroke-width="1.4"/>
<line x1="618.1" y1="294.9" x2="618.1" y2="302.4" stroke="#111" stroke-width="1.4"/>
<circle cx="629" cy="298.7" r="1.8" fill="#111"/>
<text x="610" y="286" font-size="5.2" font-family="Liberation Sans" font-weight="bold" text-anchor="start" fill="#111" textLength="9" lengthAdjust="spacingAndGlyphs">C561</text>
<text x="610" y="291.8" font-size="5.2" font-family="Liberation Sans" font-weight="bold" text-anchor="start" fill="#111" textLength="5" lengthAdjust="spacingAndGlyphs">1µ</text>
<line x1="629" y1="63.5" x2="726.6" y2="63.5" stroke="#222" stroke-width="1.1"/>
<circle cx="661.2" cy="63.5" r="1.8" fill="#111"/>
<circle cx="681.6" cy="63.5" r="1.8" fill="#111"/>
<rect x="699" y="61.4" width="11" height="4.2" fill="#fff" stroke="#222" stroke-width="0.9"/>
<text x="699" y="52" font-size="5.2" font-family="Liberation Sans" font-weight="bold" text-anchor="start" fill="#111" textLength="9" lengthAdjust="spacingAndGlyphs">R513</text>
<text x="699" y="57.8" font-size="5.2" font-family="Liberation Sans" font-weight="bold" text-anchor="start" fill="#111" textLength="9" lengthAdjust="spacingAndGlyphs">2,7k</text>
<line x1="746.7" y1="63.8" x2="911.6" y2="63.8" stroke="#222" stroke-width="1.1"/>
<circle cx="817.8" cy="63.8" r="1.8" fill="#111"/>
<line x1="629" y1="438.6" x2="726.6" y2="438.6" stroke="#222" stroke-width="1.1"/>
<circle cx="661.2" cy="438.6" r="1.8" fill="#111"/>
<circle cx="681.6" cy="438.6" r="1.8" fill="#111"/>
<rect x="698.3" y="436.5" width="11" height="4.2" fill="#fff" stroke="#222" stroke-width="0.9"/>
<text x="699" y="447" font-size="5.2" font-family="Liberation Sans" font-weight="bold" text-anchor="start" fill="#111" textLength="9" lengthAdjust="spacingAndGlyphs">R514</text>
<text x="699" y="452.8" font-size="5.2" font-family="Liberation Sans" font-weight="bold" text-anchor="start" fill="#111" textLength="9" lengthAdjust="spacingAndGlyphs">2,7k</text>
<line x1="746.7" y1="438.6" x2="911.6" y2="438.6" stroke="#222" stroke-width="1.1"/>
<circle cx="817.8" cy="438.6" r="1.8" fill="#111"/>
<line x1="629" y1="63.5" x2="629" y2="438.6" stroke="#222" stroke-width="1.1"/>
<rect x="626.8" y="82" width="4.4" height="10.5" fill="#fff" stroke="#222" stroke-width="0.9"/>
<text x="633" y="86" font-size="5.2" font-family="Liberation Sans" font-weight="bold" text-anchor="start" fill="#111" textLength="9" lengthAdjust="spacingAndGlyphs">R503</text>
<text x="633" y="91.8" font-size="5.2" font-family="Liberation Sans" font-weight="bold" text-anchor="start" fill="#111" textLength="6" lengthAdjust="spacingAndGlyphs">1M</text>
<circle cx="629" cy="120.8" r="1.8" fill="#111"/>
<rect x="626.8" y="189.8" width="4.4" height="10.5" fill="#fff" stroke="#222" stroke-width="0.9"/>
<text x="633" y="194" font-size="5.2" font-family="Liberation Sans" font-weight="bold" text-anchor="start" fill="#111" textLength="9" lengthAdjust="spacingAndGlyphs">R501</text>
<text x="633" y="199.8" font-size="5.2" font-family="Liberation Sans" font-weight="bold" text-anchor="start" fill="#111" textLength="10" lengthAdjust="spacingAndGlyphs">470k</text>
<circle cx="629" cy="234.9" r="1.8" fill="#111"/>
<rect x="626.8" y="269.4" width="4.4" height="10.5" fill="#fff" stroke="#222" stroke-width="0.9"/>
<text x="633" y="273" font-size="5.2" font-family="Liberation Sans" font-weight="bold" text-anchor="start" fill="#111" textLength="9" lengthAdjust="spacingAndGlyphs">R502</text>
<text x="633" y="278.8" font-size="5.2" font-family="Liberation Sans" font-weight="bold" text-anchor="start" fill="#111" textLength="10" lengthAdjust="spacingAndGlyphs">470k</text>
<circle cx="629" cy="348.8" r="1.8" fill="#111"/>
<rect x="626.8" y="395.8" width="4.4" height="10.5" fill="#fff" stroke="#222" stroke-width="0.9"/>
<text x="633" y="400" font-size="5.2" font-family="Liberation Sans" font-weight="bold" text-anchor="start" fill="#111" textLength="9" lengthAdjust="spacingAndGlyphs">R504</text>
<text x="633" y="405.8" font-size="5.2" font-family="Liberation Sans" font-weight="bold" text-anchor="start" fill="#111" textLength="6" lengthAdjust="spacingAndGlyphs">1M</text>
<polyline points="628,119 622,111 612,111" fill="none" stroke="#333" stroke-width="0.6"/>
<text x="612" y="110" font-size="5.2" font-family="Liberation Sans" font-weight="bold" text-anchor="start" fill="#222" textLength="9" lengthAdjust="spacingAndGlyphs">5,2V</text>
<polyline points="628.5,352 619,367.5 607,367.5" fill="none" stroke="#333" stroke-width="0.6"/>
<text x="608" y="366" font-size="5.2" font-family="Liberation Sans" font-weight="bold" text-anchor="start" fill="#222" textLength="9" lengthAdjust="spacingAndGlyphs">5,2V</text>
<line x1="629" y1="120.8" x2="640" y2="120.8" stroke="#222" stroke-width="1.1"/>
<circle cx="648.7" cy="120.8" r="9.2" fill="none" stroke="#111" stroke-width="2.3"/>
<line x1="647.6" y1="116.2" x2="647.6" y2="125.4" stroke="#111" stroke-width="1.9"/>
<line x1="639.5" y1="120.8" x2="647.6" y2="120.8" stroke="#111" stroke-width="1.2"/>
<line x1="647.6" y1="119.1" x2="654.4" y2="114.2" stroke="#111" stroke-width="1.2"/>
<line x1="647.6" y1="122.5" x2="654.4" y2="127.4" stroke="#111" stroke-width="1.2"/>
<path d="M653.3,126.6 l-3.2,-0.4 l1.2,-2.6 z" fill="#111"/>
<line x1="653.8" y1="114" x2="661.2" y2="111" stroke="#111" stroke-width="1.2"/>
<line x1="653.8" y1="127.6" x2="661.2" y2="130.5" stroke="#111" stroke-width="1.2"/>
<line x1="661.2" y1="63.5" x2="661.2" y2="111" stroke="#222" stroke-width="1.1"/>
<line x1="661.2" y1="130.5" x2="661.2" y2="339" stroke="#222" stroke-width="1.1"/>
<circle cx="661.2" cy="154" r="1.8" fill="#111"/>
<circle cx="661.2" cy="234.9" r="1.8" fill="#111"/>
<circle cx="661.2" cy="316.1" r="1.8" fill="#111"/>
<rect x="659" y="189.8" width="4.4" height="10.5" fill="#fff" stroke="#222" stroke-width="0.9"/>
<text x="665" y="194" font-size="5.2" font-family="Liberation Sans" font-weight="bold" text-anchor="start" fill="#111" textLength="9" lengthAdjust="spacingAndGlyphs">R505</text>
<text x="665" y="199.8" font-size="5.2" font-family="Liberation Sans" font-weight="bold" text-anchor="start" fill="#111" textLength="7" lengthAdjust="spacingAndGlyphs">10k</text>
<rect x="659" y="269.4" width="4.4" height="10.5" fill="#fff" stroke="#222" stroke-width="0.9"/>
<text x="665" y="273" font-size="5.2" font-family="Liberation Sans" font-weight="bold" text-anchor="start" fill="#111" textLength="9" lengthAdjust="spacingAndGlyphs">R506</text>
<text x="665" y="278.8" font-size="5.2" font-family="Liberation Sans" font-weight="bold" text-anchor="start" fill="#111" textLength="7" lengthAdjust="spacingAndGlyphs">10k</text>
<text x="645" y="145.5" font-size="7.2" font-family="Liberation Sans" font-weight="bold" text-anchor="middle" fill="#222" textLength="14.5" lengthAdjust="spacingAndGlyphs">T587</text>
<text x="630.7" y="154.8" font-size="9.6" font-family="Liberation Sans" font-weight="normal" text-anchor="start" fill="#333" textLength="25.3" lengthAdjust="spacingAndGlyphs">BC154</text>
<text x="630.7" y="162.6" font-size="9.6" font-family="Liberation Sans" font-weight="normal" text-anchor="start" fill="#333" textLength="25.3" lengthAdjust="spacingAndGlyphs">BC179</text>
<line x1="629" y1="348.8" x2="639" y2="348.8" stroke="#222" stroke-width="1.1"/>
<circle cx="648.3" cy="348.8" r="9.2" fill="none" stroke="#111" stroke-width="2.3"/>
<line x1="647.2" y1="344.2" x2="647.2" y2="353.4" stroke="#111" stroke-width="1.9"/>
<line x1="639.1" y1="348.8" x2="647.2" y2="348.8" stroke="#111" stroke-width="1.2"/>
<line x1="647.2" y1="347.1" x2="654" y2="342.2" stroke="#111" stroke-width="1.2"/>
<line x1="647.2" y1="350.5" x2="654" y2="355.4" stroke="#111" stroke-width="1.2"/>
<path d="M652.9,354.6 l-3.2,-0.4 l1.2,-2.6 z" fill="#111"/>
<line x1="653.4" y1="342" x2="661.2" y2="339" stroke="#111" stroke-width="1.2"/>
<line x1="653.4" y1="355.6" x2="661.2" y2="358.5" stroke="#111" stroke-width="1.2"/>
<line x1="661.2" y1="358.5" x2="661.2" y2="438.6" stroke="#222" stroke-width="1.1"/>
<text x="645.5" y="368.6" font-size="7.2" font-family="Liberation Sans" font-weight="bold" text-anchor="middle" fill="#222" textLength="14.5" lengthAdjust="spacingAndGlyphs">T588</text>
<text x="631" y="378.3" font-size="9.6" font-family="Liberation Sans" font-weight="normal" text-anchor="start" fill="#333" textLength="27" lengthAdjust="spacingAndGlyphs">BC154</text>
<text x="631" y="386.8" font-size="9.6" font-family="Liberation Sans" font-weight="normal" text-anchor="start" fill="#333" textLength="27" lengthAdjust="spacingAndGlyphs">BC179</text>
<polyline points="661.2,166 651,176.5 639,176.5" fill="none" stroke="#333" stroke-width="0.6"/>
<text x="640" y="175" font-size="5.2" font-family="Liberation Sans" font-weight="bold" text-anchor="start" fill="#222" textLength="9" lengthAdjust="spacingAndGlyphs">5,8V</text>
<polyline points="661,313 653,306 642,306" fill="none" stroke="#333" stroke-width="0.6"/>
<text x="642" y="305" font-size="5.2" font-family="Liberation Sans" font-weight="bold" text-anchor="start" fill="#222" textLength="9" lengthAdjust="spacingAndGlyphs">5,8V</text>
<line x1="681.6" y1="63.5" x2="681.6" y2="476.3" stroke="#222" stroke-width="1.1"/>
<line x1="661.2" y1="154" x2="863.5" y2="154" stroke="#222" stroke-width="1.1"/>
<rect x="669.7" y="150.2" width="2.6" height="7.5" fill="#fff"/>
<line x1="669.7" y1="150.2" x2="669.7" y2="157.8" stroke="#111" stroke-width="1.4"/>
<line x1="672.3" y1="150.2" x2="672.3" y2="157.8" stroke="#111" stroke-width="1.4"/>
<text x="666" y="143" font-size="5.2" font-family="Liberation Sans" font-weight="bold" text-anchor="start" fill="#111" textLength="9" lengthAdjust="spacingAndGlyphs">C562</text>
<text x="666" y="148.8" font-size="5.2" font-family="Liberation Sans" font-weight="bold" text-anchor="start" fill="#111" textLength="5" lengthAdjust="spacingAndGlyphs">2µ</text>
<circle cx="694" cy="154" r="1.8" fill="#111"/>
<rect x="760.3" y="151.9" width="11" height="4.2" fill="#fff" stroke="#222" stroke-width="0.9"/>
<text x="760.5" y="150.5" font-size="5.2" font-family="Liberation Sans" font-weight="bold" text-anchor="start" fill="#111" textLength="10" lengthAdjust="spacingAndGlyphs">R525</text>
<text x="761" y="162" font-size="5.2" font-family="Liberation Sans" font-weight="bold" text-anchor="start" fill="#111" textLength="9" lengthAdjust="spacingAndGlyphs">3,3k</text>
<circle cx="784.7" cy="154" r="1.8" fill="#111"/>
<circle cx="817.8" cy="154" r="1.8" fill="#111"/>
<circle cx="837" cy="154" r="1.8" fill="#111"/>
<circle cx="863.5" cy="154" r="1.8" fill="#111"/>
<line x1="661.2" y1="316.1" x2="911.6" y2="316.3" stroke="#222" stroke-width="1.1"/>
<rect x="669.7" y="312.4" width="2.6" height="7.5" fill="#fff"/>
<line x1="669.7" y1="312.4" x2="669.7" y2="319.9" stroke="#111" stroke-width="1.4"/>
<line x1="672.3" y1="312.4" x2="672.3" y2="319.9" stroke="#111" stroke-width="1.4"/>
<text x="666" y="325" font-size="5.2" font-family="Liberation Sans" font-weight="bold" text-anchor="start" fill="#111" textLength="9" lengthAdjust="spacingAndGlyphs">C563</text>
<text x="666" y="330.8" font-size="5.2" font-family="Liberation Sans" font-weight="bold" text-anchor="start" fill="#111" textLength="5" lengthAdjust="spacingAndGlyphs">2µ</text>
<circle cx="694" cy="316.1" r="1.8" fill="#111"/>
<rect x="760.3" y="314" width="11" height="4.2" fill="#fff" stroke="#222" stroke-width="0.9"/>
<text x="760.5" y="312.5" font-size="5.2" font-family="Liberation Sans" font-weight="bold" text-anchor="start" fill="#111" textLength="10" lengthAdjust="spacingAndGlyphs">R526</text>
<text x="761" y="324" font-size="5.2" font-family="Liberation Sans" font-weight="bold" text-anchor="start" fill="#111" textLength="9" lengthAdjust="spacingAndGlyphs">3,3k</text>
<circle cx="784.7" cy="316.1" r="1.8" fill="#111"/>
<circle cx="817.8" cy="316.3" r="1.8" fill="#111"/>
<circle cx="837" cy="316.3" r="1.8" fill="#111"/>
<circle cx="863.5" cy="316.3" r="1.8" fill="#111"/>
<polyline points="694,154 694,120.8 705,120.8" fill="none" stroke="#222" stroke-width="1.1"/>
<circle cx="714" cy="120.8" r="9.2" fill="none" stroke="#111" stroke-width="2.3"/>
<line x1="712.9" y1="116.2" x2="712.9" y2="125.4" stroke="#111" stroke-width="1.9"/>
<line x1="704.8" y1="120.8" x2="712.9" y2="120.8" stroke="#111" stroke-width="1.2"/>
<line x1="712.9" y1="119.1" x2="719.7" y2="114.2" stroke="#111" stroke-width="1.2"/>
<line x1="712.9" y1="122.5" x2="719.7" y2="127.4" stroke="#111" stroke-width="1.2"/>
<path d="M718.6,126.6 l-3.2,-0.4 l1.2,-2.6 z" fill="#111"/>
<line x1="719" y1="114" x2="726.6" y2="111" stroke="#111" stroke-width="1.2"/>
<line x1="719" y1="127.6" x2="726.6" y2="130.5" stroke="#111" stroke-width="1.2"/>
<polyline points="704,120 697,112 685,112" fill="none" stroke="#333" stroke-width="0.6"/>
<text x="685.7" y="110.5" font-size="5.2" font-family="Liberation Sans" font-weight="bold" text-anchor="start" fill="#222" textLength="11" lengthAdjust="spacingAndGlyphs">1,15V</text>
<text x="689" y="87" font-size="9.6" font-family="Liberation Sans" font-weight="normal" text-anchor="start" fill="#333" textLength="26" lengthAdjust="spacingAndGlyphs">BC154</text>
<text x="689" y="95.7" font-size="9.6" font-family="Liberation Sans" font-weight="normal" text-anchor="start" fill="#333" textLength="26" lengthAdjust="spacingAndGlyphs">BC179</text>
<text x="703" y="103.5" font-size="7.2" font-family="Liberation Sans" font-weight="bold" text-anchor="middle" fill="#222" textLength="14" lengthAdjust="spacingAndGlyphs">T589</text>
<polyline points="694,316.1 694,348.3 705,348.3" fill="none" stroke="#222" stroke-width="1.1"/>
<circle cx="714" cy="348.8" r="9.2" fill="none" stroke="#111" stroke-width="2.3"/>
<line x1="712.9" y1="344.2" x2="712.9" y2="353.4" stroke="#111" stroke-width="1.9"/>
<line x1="704.8" y1="348.8" x2="712.9" y2="348.8" stroke="#111" stroke-width="1.2"/>
<line x1="712.9" y1="347.1" x2="719.7" y2="342.2" stroke="#111" stroke-width="1.2"/>
<line x1="712.9" y1="350.5" x2="719.7" y2="355.4" stroke="#111" stroke-width="1.2"/>
<path d="M718.6,354.6 l-3.2,-0.4 l1.2,-2.6 z" fill="#111"/>
<line x1="719" y1="342" x2="726.6" y2="339" stroke="#111" stroke-width="1.2"/>
<line x1="719" y1="355.6" x2="726.6" y2="358.5" stroke="#111" stroke-width="1.2"/>
<polyline points="699.5,351 695,362 684,362" fill="none" stroke="#333" stroke-width="0.6"/>
<text x="685" y="360.5" font-size="5.2" font-family="Liberation Sans" font-weight="bold" text-anchor="start" fill="#222" textLength="11" lengthAdjust="spacingAndGlyphs">1,15V</text>
<text x="703" y="376" font-size="7.2" font-family="Liberation Sans" font-weight="bold" text-anchor="middle" fill="#222" textLength="14" lengthAdjust="spacingAndGlyphs">T590</text>
<text x="691" y="387" font-size="9.6" font-family="Liberation Sans" font-weight="normal" text-anchor="start" fill="#333" textLength="26" lengthAdjust="spacingAndGlyphs">BC154</text>
<text x="691" y="395.7" font-size="9.6" font-family="Liberation Sans" font-weight="normal" text-anchor="start" fill="#333" textLength="26" lengthAdjust="spacingAndGlyphs">BC179</text>
<line x1="726.6" y1="63.5" x2="726.6" y2="111" stroke="#222" stroke-width="1.1"/>
<circle cx="726.6" cy="88.2" r="1.8" fill="#111"/>
<line x1="726.6" y1="130.5" x2="726.6" y2="339" stroke="#222" stroke-width="1.1"/>
<line x1="726.6" y1="358.5" x2="726.6" y2="438.6" stroke="#222" stroke-width="1.1"/>
<circle cx="726.6" cy="138.3" r="1.8" fill="#111"/>
<circle cx="726.6" cy="181.9" r="1.8" fill="#111"/>
<circle cx="726.6" cy="208.6" r="1.8" fill="#111"/>
<circle cx="726.6" cy="234.9" r="1.8" fill="#111"/>
<circle cx="726.6" cy="261.6" r="1.8" fill="#111"/>
<circle cx="726.6" cy="287.7" r="1.8" fill="#111"/>
<circle cx="726.6" cy="331.8" r="1.8" fill="#111"/>
<circle cx="726.6" cy="381.8" r="1.8" fill="#111"/>
<polyline points="725.5,139 711,148.5 700,148.5" fill="none" stroke="#333" stroke-width="0.6"/>
<text x="701" y="146.8" font-size="5.2" font-family="Liberation Sans" font-weight="bold" text-anchor="start" fill="#222" textLength="9" lengthAdjust="spacingAndGlyphs">0,5V</text>
<polyline points="727,329 719,324 707,324" fill="none" stroke="#333" stroke-width="0.6"/>
<text x="707" y="323" font-size="5.2" font-family="Liberation Sans" font-weight="bold" text-anchor="start" fill="#222" textLength="9" lengthAdjust="spacingAndGlyphs">0,5V</text>
<rect x="724.4" y="216.2" width="4.4" height="10.5" fill="#fff" stroke="#222" stroke-width="0.9"/>
<text x="731" y="220" font-size="5.2" font-family="Liberation Sans" font-weight="bold" text-anchor="start" fill="#111" textLength="9" lengthAdjust="spacingAndGlyphs">R515</text>
<text x="731" y="225.8" font-size="5.2" font-family="Liberation Sans" font-weight="bold" text-anchor="start" fill="#111" textLength="5" lengthAdjust="spacingAndGlyphs">39</text>
<rect x="724.4" y="243.2" width="4.4" height="10.5" fill="#fff" stroke="#222" stroke-width="0.9"/>
<text x="731" y="247" font-size="5.2" font-family="Liberation Sans" font-weight="bold" text-anchor="start" fill="#111" textLength="9" lengthAdjust="spacingAndGlyphs">R516</text>
<text x="731" y="252.8" font-size="5.2" font-family="Liberation Sans" font-weight="bold" text-anchor="start" fill="#111" textLength="5" lengthAdjust="spacingAndGlyphs">39</text>
<line x1="726.6" y1="88.2" x2="795.5" y2="88.2" stroke="#222" stroke-width="1.1"/>
<circle cx="784.7" cy="88.2" r="1.8" fill="#111"/>
<polyline points="778,86 770,79 761,79" fill="none" stroke="#333" stroke-width="0.6"/>
<text x="761" y="78" font-size="5.2" font-family="Liberation Sans" font-weight="bold" text-anchor="start" fill="#222" textLength="9" lengthAdjust="spacingAndGlyphs">4,4V</text>
<line x1="726.6" y1="381.8" x2="795.5" y2="381.8" stroke="#222" stroke-width="1.1"/>
<circle cx="784.7" cy="381.8" r="1.8" fill="#111"/>
<polyline points="778,384 771,398 760,398" fill="none" stroke="#333" stroke-width="0.6"/>
<text x="761.5" y="396.5" font-size="5.2" font-family="Liberation Sans" font-weight="bold" text-anchor="start" fill="#222" textLength="9" lengthAdjust="spacingAndGlyphs">4,4V</text>
<line x1="746.7" y1="63.8" x2="746.7" y2="138.3" stroke="#222" stroke-width="1.1"/>
<circle cx="746.7" cy="104" r="1.8" fill="#111"/>
<rect x="744.5" y="116" width="4.4" height="10.5" fill="#fff" stroke="#222" stroke-width="0.9"/>
<text x="731" y="119.5" font-size="5.2" font-family="Liberation Sans" font-weight="bold" text-anchor="start" fill="#111" textLength="9" lengthAdjust="spacingAndGlyphs">R523</text>
<text x="731" y="125.3" font-size="5.2" font-family="Liberation Sans" font-weight="bold" text-anchor="start" fill="#111" textLength="8" lengthAdjust="spacingAndGlyphs">47k</text>
<circle cx="746.7" cy="138.3" r="1.8" fill="#111"/>
<polyline points="746.7,104 765.8,104 765.8,138.3 726.6,138.3" fill="none" stroke="#222" stroke-width="1.1"/>
<rect x="761.8" y="119.7" width="8" height="2.6" fill="#f8eef1"/>
<line x1="761.8" y1="119.7" x2="769.8" y2="119.7" stroke="#111" stroke-width="1.4"/>
<line x1="761.8" y1="122.3" x2="769.8" y2="122.3" stroke="#111" stroke-width="1.4"/>
<text x="769" y="113" font-size="5.2" font-family="Liberation Sans" font-weight="bold" text-anchor="start" fill="#111" textLength="9" lengthAdjust="spacingAndGlyphs">C566</text>
<text x="769" y="118.8" font-size="5.2" font-family="Liberation Sans" font-weight="bold" text-anchor="start" fill="#111" textLength="5" lengthAdjust="spacingAndGlyphs">68</text>
<line x1="746.7" y1="331.8" x2="746.7" y2="438.6" stroke="#222" stroke-width="1.1"/>
<circle cx="746.7" cy="331.8" r="1.8" fill="#111"/>
<line x1="726.6" y1="331.8" x2="765.8" y2="331.8" stroke="#222" stroke-width="1.1"/>
<circle cx="746.7" cy="365.7" r="1.8" fill="#111"/>
<rect x="744.5" y="343.8" width="4.4" height="10.5" fill="#fff" stroke="#222" stroke-width="0.9"/>
<text x="731" y="347.5" font-size="5.2" font-family="Liberation Sans" font-weight="bold" text-anchor="start" fill="#111" textLength="9" lengthAdjust="spacingAndGlyphs">R524</text>
<text x="731" y="353.3" font-size="5.2" font-family="Liberation Sans" font-weight="bold" text-anchor="start" fill="#111" textLength="8" lengthAdjust="spacingAndGlyphs">47k</text>
<polyline points="765.8,331.8 765.8,365.7 746.7,365.7" fill="none" stroke="#222" stroke-width="1.1"/>
<rect x="761.8" y="347.7" width="8" height="2.6" fill="#f8eef1"/>
<line x1="761.8" y1="347.7" x2="769.8" y2="347.7" stroke="#111" stroke-width="1.4"/>
<line x1="761.8" y1="350.3" x2="769.8" y2="350.3" stroke="#111" stroke-width="1.4"/>
<text x="769" y="354" font-size="5.2" font-family="Liberation Sans" font-weight="bold" text-anchor="start" fill="#111" textLength="9" lengthAdjust="spacingAndGlyphs">C567</text>
<text x="769" y="359.8" font-size="5.2" font-family="Liberation Sans" font-weight="bold" text-anchor="start" fill="#111" textLength="5" lengthAdjust="spacingAndGlyphs">68</text>
<line x1="694" y1="154" x2="694" y2="316.1" stroke="#222" stroke-width="1.1"/>
<rect x="691.8" y="176.2" width="4.4" height="10.5" fill="#fff" stroke="#222" stroke-width="0.9"/>
<text x="698" y="170" font-size="5.2" font-family="Liberation Sans" font-weight="bold" text-anchor="start" fill="#111" textLength="9" lengthAdjust="spacingAndGlyphs">R509</text>
<text x="698" y="175.8" font-size="5.2" font-family="Liberation Sans" font-weight="bold" text-anchor="start" fill="#111" textLength="7" lengthAdjust="spacingAndGlyphs">820</text>
<circle cx="694" cy="208.6" r="1.8" fill="#111"/>
<rect x="691.8" y="216.2" width="4.4" height="10.5" fill="#fff" stroke="#222" stroke-width="0.9"/>
<text x="698" y="220" font-size="5.2" font-family="Liberation Sans" font-weight="bold" text-anchor="start" fill="#111" textLength="9" lengthAdjust="spacingAndGlyphs">R511</text>
<text x="698" y="225.8" font-size="5.2" font-family="Liberation Sans" font-weight="bold" text-anchor="start" fill="#111" textLength="7" lengthAdjust="spacingAndGlyphs">330</text>
<circle cx="694" cy="234.9" r="1.8" fill="#111"/>
<rect x="691.8" y="243.2" width="4.4" height="10.5" fill="#fff" stroke="#222" stroke-width="0.9"/>
<text x="698" y="247" font-size="5.2" font-family="Liberation Sans" font-weight="bold" text-anchor="start" fill="#111" textLength="9" lengthAdjust="spacingAndGlyphs">R512</text>
<text x="698" y="252.8" font-size="5.2" font-family="Liberation Sans" font-weight="bold" text-anchor="start" fill="#111" textLength="7" lengthAdjust="spacingAndGlyphs">330</text>
<circle cx="694" cy="261.6" r="1.8" fill="#111"/>
<rect x="691.8" y="284.2" width="4.4" height="10.5" fill="#fff" stroke="#222" stroke-width="0.9"/>
<text x="698" y="299" font-size="5.2" font-family="Liberation Sans" font-weight="bold" text-anchor="start" fill="#111" textLength="9" lengthAdjust="spacingAndGlyphs">R510</text>
<text x="698" y="304.8" font-size="5.2" font-family="Liberation Sans" font-weight="bold" text-anchor="start" fill="#111" textLength="7" lengthAdjust="spacingAndGlyphs">820</text>
<line x1="694" y1="208.6" x2="958.6" y2="208.6" stroke="#222" stroke-width="1.1"/>
<rect x="708.7" y="204.8" width="2.6" height="7.5" fill="#fff"/>
<line x1="708.7" y1="204.8" x2="708.7" y2="212.3" stroke="#111" stroke-width="1.4"/>
<line x1="711.3" y1="204.8" x2="711.3" y2="212.3" stroke="#111" stroke-width="1.4"/>
<text x="704" y="196" font-size="5.2" font-family="Liberation Sans" font-weight="bold" text-anchor="start" fill="#111" textLength="9" lengthAdjust="spacingAndGlyphs">C564</text>
<text x="704" y="201.8" font-size="5.2" font-family="Liberation Sans" font-weight="bold" text-anchor="start" fill="#111" textLength="10" lengthAdjust="spacingAndGlyphs">500µ</text>
<rect x="737.3" y="206.5" width="11" height="4.2" fill="#fff" stroke="#222" stroke-width="0.9"/>
<text x="738" y="201" font-size="5.2" font-family="Liberation Sans" font-weight="bold" text-anchor="start" fill="#111" textLength="9" lengthAdjust="spacingAndGlyphs">R527</text>
<text x="738" y="206.8" font-size="5.2" font-family="Liberation Sans" font-weight="bold" text-anchor="start" fill="#111" textLength="9" lengthAdjust="spacingAndGlyphs">3,3k</text>
<circle cx="759.4" cy="208.6" r="1.8" fill="#111"/>
<circle cx="837" cy="208.6" r="1.8" fill="#111"/>
<line x1="694" y1="261.6" x2="958.6" y2="261.6" stroke="#222" stroke-width="1.1"/>
<rect x="708.7" y="257.9" width="2.6" height="7.5" fill="#fff"/>
<line x1="708.7" y1="257.9" x2="708.7" y2="265.4" stroke="#111" stroke-width="1.4"/>
<line x1="711.3" y1="257.9" x2="711.3" y2="265.4" stroke="#111" stroke-width="1.4"/>
<text x="704" y="271" font-size="5.2" font-family="Liberation Sans" font-weight="bold" text-anchor="start" fill="#111" textLength="9" lengthAdjust="spacingAndGlyphs">C565</text>
<text x="704" y="276.8" font-size="5.2" font-family="Liberation Sans" font-weight="bold" text-anchor="start" fill="#111" textLength="10" lengthAdjust="spacingAndGlyphs">500µ</text>
<rect x="737.3" y="259.5" width="11" height="4.2" fill="#fff" stroke="#222" stroke-width="0.9"/>
<text x="738" y="270" font-size="5.2" font-family="Liberation Sans" font-weight="bold" text-anchor="start" fill="#111" textLength="9" lengthAdjust="spacingAndGlyphs">R528</text>
<text x="738" y="275.8" font-size="5.2" font-family="Liberation Sans" font-weight="bold" text-anchor="start" fill="#111" textLength="9" lengthAdjust="spacingAndGlyphs">3,3k</text>
<circle cx="759.4" cy="261.6" r="1.8" fill="#111"/>
<circle cx="837" cy="261.6" r="1.8" fill="#111"/>
<polyline points="726.6,181.9 759.4,181.9 759.4,208.6" fill="none" stroke="#222" stroke-width="1.1"/>
<rect x="741.7" y="178.2" width="2.6" height="7.5" fill="#fff"/>
<line x1="741.7" y1="178.2" x2="741.7" y2="185.7" stroke="#111" stroke-width="1.4"/>
<line x1="744.3" y1="178.2" x2="744.3" y2="185.7" stroke="#111" stroke-width="1.4"/>
<text x="738" y="170" font-size="5.2" font-family="Liberation Sans" font-weight="bold" text-anchor="start" fill="#111" textLength="9" lengthAdjust="spacingAndGlyphs">C568</text>
<text x="738" y="175.8" font-size="5.2" font-family="Liberation Sans" font-weight="bold" text-anchor="start" fill="#111" textLength="10" lengthAdjust="spacingAndGlyphs">3300</text>
<polyline points="726.6,287.7 759.4,287.7 759.4,261.6" fill="none" stroke="#222" stroke-width="1.1"/>
<rect x="741.7" y="283.9" width="2.6" height="7.5" fill="#fff"/>
<line x1="741.7" y1="283.9" x2="741.7" y2="291.4" stroke="#111" stroke-width="1.4"/>
<line x1="744.3" y1="283.9" x2="744.3" y2="291.4" stroke="#111" stroke-width="1.4"/>
<text x="738" y="297" font-size="5.2" font-family="Liberation Sans" font-weight="bold" text-anchor="start" fill="#111" textLength="9" lengthAdjust="spacingAndGlyphs">C569</text>
<text x="738" y="302.8" font-size="5.2" font-family="Liberation Sans" font-weight="bold" text-anchor="start" fill="#111" textLength="10" lengthAdjust="spacingAndGlyphs">3300</text>
<line x1="784.7" y1="88.2" x2="784.7" y2="381.8" stroke="#222" stroke-width="1.1"/>
<rect x="782.5" y="115.8" width="4.4" height="10.5" fill="#fff" stroke="#222" stroke-width="0.9"/>
<text x="789" y="119.5" font-size="5.2" font-family="Liberation Sans" font-weight="bold" text-anchor="start" fill="#111" textLength="9" lengthAdjust="spacingAndGlyphs">R519</text>
<text x="789" y="125.3" font-size="5.2" font-family="Liberation Sans" font-weight="bold" text-anchor="start" fill="#111" textLength="7" lengthAdjust="spacingAndGlyphs">470</text>
<rect x="780.7" y="180.6" width="8" height="2.6" fill="#f8eef1"/>
<line x1="780.7" y1="180.6" x2="788.7" y2="180.6" stroke="#111" stroke-width="1.4"/>
<line x1="780.7" y1="183.2" x2="788.7" y2="183.2" stroke="#111" stroke-width="1.4"/>
<text x="788" y="189" font-size="5.2" font-family="Liberation Sans" font-weight="bold" text-anchor="start" fill="#111" textLength="9" lengthAdjust="spacingAndGlyphs">C570</text>
<text x="788" y="194.8" font-size="5.2" font-family="Liberation Sans" font-weight="bold" text-anchor="start" fill="#111" textLength="11" lengthAdjust="spacingAndGlyphs">2500µ</text>
<circle cx="784.7" cy="234.9" r="1.8" fill="#111"/>
<rect x="780.7" y="287.3" width="8" height="2.6" fill="#f8eef1"/>
<line x1="780.7" y1="287.3" x2="788.7" y2="287.3" stroke="#111" stroke-width="1.4"/>
<line x1="780.7" y1="289.9" x2="788.7" y2="289.9" stroke="#111" stroke-width="1.4"/>
<text x="788" y="283" font-size="5.2" font-family="Liberation Sans" font-weight="bold" text-anchor="start" fill="#111" textLength="9" lengthAdjust="spacingAndGlyphs">C571</text>
<text x="788" y="288.8" font-size="5.2" font-family="Liberation Sans" font-weight="bold" text-anchor="start" fill="#111" textLength="11" lengthAdjust="spacingAndGlyphs">2500µ</text>
<rect x="782.5" y="343.8" width="4.4" height="10.5" fill="#fff" stroke="#222" stroke-width="0.9"/>
<text x="789" y="347.5" font-size="5.2" font-family="Liberation Sans" font-weight="bold" text-anchor="start" fill="#111" textLength="9" lengthAdjust="spacingAndGlyphs">R520</text>
<text x="789" y="353.3" font-size="5.2" font-family="Liberation Sans" font-weight="bold" text-anchor="start" fill="#111" textLength="7" lengthAdjust="spacingAndGlyphs">470</text>
<line x1="603.7" y1="234.9" x2="817.8" y2="234.9" stroke="#222" stroke-width="1.1"/>
<circle cx="804.2" cy="88.2" r="9.2" fill="none" stroke="#111" stroke-width="2.3"/>
<line x1="803.1" y1="83.6" x2="803.1" y2="92.8" stroke="#111" stroke-width="1.9"/>
<line x1="795" y1="88.2" x2="803.1" y2="88.2" stroke="#111" stroke-width="1.2"/>
<line x1="803.1" y1="86.5" x2="809.9" y2="81.6" stroke="#111" stroke-width="1.2"/>
<line x1="803.1" y1="89.9" x2="809.9" y2="94.8" stroke="#111" stroke-width="1.2"/>
<path d="M808.8,94 l-3.2,-0.4 l1.2,-2.6 z" fill="#111"/>
<line x1="809.3" y1="81.5" x2="817.8" y2="78.5" stroke="#111" stroke-width="1.2"/>
<line x1="809.3" y1="95" x2="817.8" y2="98" stroke="#111" stroke-width="1.2"/>
<line x1="817.8" y1="63.8" x2="817.8" y2="78.5" stroke="#222" stroke-width="1.1"/>
<line x1="817.8" y1="98" x2="817.8" y2="372" stroke="#222" stroke-width="1.1"/>
<text x="825" y="91" font-size="9.6" font-family="Liberation Sans" font-weight="normal" text-anchor="start" fill="#333" textLength="27" lengthAdjust="spacingAndGlyphs">AC124</text>
<text x="838.5" y="99.5" font-size="7.2" font-family="Liberation Sans" font-weight="bold" text-anchor="middle" fill="#222" textLength="14" lengthAdjust="spacingAndGlyphs">T591</text>
<polyline points="818.5,134 829,114.5 842,114.5" fill="none" stroke="#333" stroke-width="0.6"/>
<text x="831" y="112.8" font-size="5.2" font-family="Liberation Sans" font-weight="bold" text-anchor="start" fill="#222" textLength="9" lengthAdjust="spacingAndGlyphs">4,2V</text>
<circle cx="804" cy="381.8" r="9.2" fill="none" stroke="#111" stroke-width="2.3"/>
<line x1="802.9" y1="377.2" x2="802.9" y2="386.4" stroke="#111" stroke-width="1.9"/>
<line x1="794.8" y1="381.8" x2="802.9" y2="381.8" stroke="#111" stroke-width="1.2"/>
<line x1="802.9" y1="380.1" x2="809.7" y2="375.2" stroke="#111" stroke-width="1.2"/>
<line x1="802.9" y1="383.5" x2="809.7" y2="388.4" stroke="#111" stroke-width="1.2"/>
<path d="M808.6,387.6 l-3.2,-0.4 l1.2,-2.6 z" fill="#111"/>
<line x1="809" y1="375" x2="817.8" y2="372" stroke="#111" stroke-width="1.2"/>
<line x1="809" y1="388.6" x2="817.8" y2="391.5" stroke="#111" stroke-width="1.2"/>
<line x1="817.8" y1="391.5" x2="817.8" y2="438.6" stroke="#222" stroke-width="1.1"/>
<text x="825" y="385" font-size="9.6" font-family="Liberation Sans" font-weight="normal" text-anchor="start" fill="#333" textLength="27" lengthAdjust="spacingAndGlyphs">AC124</text>
<text x="838.5" y="393.5" font-size="7.2" font-family="Liberation Sans" font-weight="bold" text-anchor="middle" fill="#222" textLength="14" lengthAdjust="spacingAndGlyphs">T592</text>
<polyline points="818.5,344.5 830,357.5 841,357.5" fill="none" stroke="#333" stroke-width="0.6"/>
<text x="831" y="355.8" font-size="5.2" font-family="Liberation Sans" font-weight="bold" text-anchor="start" fill="#222" textLength="9" lengthAdjust="spacingAndGlyphs">4,2V</text>
<rect x="815.6" y="176.7" width="4.4" height="10.5" fill="#fff" stroke="#222" stroke-width="0.9"/>
<text x="802" y="170" font-size="5.2" font-family="Liberation Sans" font-weight="bold" text-anchor="start" fill="#111" textLength="9" lengthAdjust="spacingAndGlyphs">R521</text>
<text x="802" y="175.8" font-size="5.2" font-family="Liberation Sans" font-weight="bold" text-anchor="start" fill="#111" textLength="7" lengthAdjust="spacingAndGlyphs">180</text>
<circle cx="817.8" cy="234.9" r="1.8" fill="#111"/>
<line x1="817.8" y1="234.9" x2="837" y2="234.9" stroke="#222" stroke-width="1.1"/>
<line x1="837" y1="231.4" x2="837" y2="238.4" stroke="#111" stroke-width="1.3"/>
<rect x="815.6" y="284.2" width="4.4" height="10.5" fill="#fff" stroke="#222" stroke-width="0.9"/>
<text x="802" y="299" font-size="5.2" font-family="Liberation Sans" font-weight="bold" text-anchor="start" fill="#111" textLength="9" lengthAdjust="spacingAndGlyphs">R522</text>
<text x="802" y="304.8" font-size="5.2" font-family="Liberation Sans" font-weight="bold" text-anchor="start" fill="#111" textLength="7" lengthAdjust="spacingAndGlyphs">180</text>
<polyline points="837,154 837,139.3 863.5,139.3 863.5,154" fill="none" stroke="#222" stroke-width="1.1"/>
<rect x="845.6" y="137.3" width="10" height="4" fill="#fff" stroke="#222" stroke-width="0.9"/>
<rect x="849.3" y="150.2" width="2.6" height="7.5" fill="#fff"/>
<line x1="849.3" y1="150.2" x2="849.3" y2="157.8" stroke="#111" stroke-width="1.4"/>
<line x1="851.9" y1="150.2" x2="851.9" y2="157.8" stroke="#111" stroke-width="1.4"/>
<text x="846" y="130" font-size="5.2" font-family="Liberation Sans" font-weight="bold" text-anchor="start" fill="#111" textLength="9" lengthAdjust="spacingAndGlyphs">R529</text>
<text x="846" y="135.8" font-size="5.2" font-family="Liberation Sans" font-weight="bold" text-anchor="start" fill="#111" textLength="5" lengthAdjust="spacingAndGlyphs">27</text>
<text x="844" y="163" font-size="5.2" font-family="Liberation Sans" font-weight="bold" text-anchor="start" fill="#111" textLength="9" lengthAdjust="spacingAndGlyphs">C572</text>
<text x="844" y="168.8" font-size="5.2" font-family="Liberation Sans" font-weight="bold" text-anchor="start" fill="#111" textLength="8" lengthAdjust="spacingAndGlyphs">0,1µ</text>
<polyline points="837,316.3 837,332.4 863.5,332.4 863.5,316.3" fill="none" stroke="#222" stroke-width="1.1"/>
<rect x="845.6" y="330.4" width="10" height="4" fill="#fff" stroke="#222" stroke-width="0.9"/>
<rect x="849.3" y="312.6" width="2.6" height="7.5" fill="#fff"/>
<line x1="849.3" y1="312.6" x2="849.3" y2="320.1" stroke="#111" stroke-width="1.4"/>
<line x1="851.9" y1="312.6" x2="851.9" y2="320.1" stroke="#111" stroke-width="1.4"/>
<text x="846" y="341" font-size="5.2" font-family="Liberation Sans" font-weight="bold" text-anchor="start" fill="#111" textLength="9" lengthAdjust="spacingAndGlyphs">R530</text>
<text x="846" y="346.8" font-size="5.2" font-family="Liberation Sans" font-weight="bold" text-anchor="start" fill="#111" textLength="5" lengthAdjust="spacingAndGlyphs">27</text>
<text x="844" y="306" font-size="5.2" font-family="Liberation Sans" font-weight="bold" text-anchor="start" fill="#111" textLength="9" lengthAdjust="spacingAndGlyphs">C573</text>
<text x="844" y="311.8" font-size="5.2" font-family="Liberation Sans" font-weight="bold" text-anchor="start" fill="#111" textLength="8" lengthAdjust="spacingAndGlyphs">0,1µ</text>
<line x1="837" y1="154" x2="837" y2="208.6" stroke="#222" stroke-width="1.1"/>
<rect x="833" y="181" width="8" height="2.6" fill="#f8eef1"/>
<line x1="833" y1="181" x2="841" y2="181" stroke="#111" stroke-width="1.4"/>
<line x1="833" y1="183.6" x2="841" y2="183.6" stroke="#111" stroke-width="1.4"/>
<text x="840" y="187" font-size="5.2" font-family="Liberation Sans" font-weight="bold" text-anchor="start" fill="#111" textLength="9" lengthAdjust="spacingAndGlyphs">C574</text>
<text x="840" y="192.8" font-size="5.2" font-family="Liberation Sans" font-weight="bold" text-anchor="start" fill="#111" textLength="10" lengthAdjust="spacingAndGlyphs">100µ</text>
<line x1="837" y1="261.6" x2="837" y2="316.3" stroke="#222" stroke-width="1.1"/>
<rect x="833" y="287.3" width="8" height="2.6" fill="#f8eef1"/>
<line x1="833" y1="287.3" x2="841" y2="287.3" stroke="#111" stroke-width="1.4"/>
<line x1="833" y1="289.9" x2="841" y2="289.9" stroke="#111" stroke-width="1.4"/>
<text x="840" y="282" font-size="5.2" font-family="Liberation Sans" font-weight="bold" text-anchor="start" fill="#111" textLength="9" lengthAdjust="spacingAndGlyphs">C575</text>
<text x="840" y="287.8" font-size="5.2" font-family="Liberation Sans" font-weight="bold" text-anchor="start" fill="#111" textLength="10" lengthAdjust="spacingAndGlyphs">100µ</text>
<line x1="863.5" y1="154" x2="863.5" y2="316.3" stroke="#222" stroke-width="1.1"/>
<circle cx="863.5" cy="187" r="1.8" fill="#111"/>
<rect x="861.3" y="217.9" width="4.4" height="10.5" fill="#fff" stroke="#222" stroke-width="0.9"/>
<text x="847" y="221" font-size="5.2" font-family="Liberation Sans" font-weight="bold" text-anchor="start" fill="#111" textLength="9" lengthAdjust="spacingAndGlyphs">R531</text>
<text x="847" y="226.8" font-size="5.2" font-family="Liberation Sans" font-weight="bold" text-anchor="start" fill="#111" textLength="5" lengthAdjust="spacingAndGlyphs">27</text>
<circle cx="863.5" cy="235" r="1.8" fill="#111"/>
<rect x="861.3" y="244.2" width="4.4" height="10.5" fill="#fff" stroke="#222" stroke-width="0.9"/>
<text x="847" y="248" font-size="5.2" font-family="Liberation Sans" font-weight="bold" text-anchor="start" fill="#111" textLength="9" lengthAdjust="spacingAndGlyphs">R532</text>
<text x="847" y="253.8" font-size="5.2" font-family="Liberation Sans" font-weight="bold" text-anchor="start" fill="#111" textLength="5" lengthAdjust="spacingAndGlyphs">27</text>
<polyline points="863.5,235 876.2,235 876.2,476.3" fill="none" stroke="#222" stroke-width="1.1"/>
<line x1="863.5" y1="187" x2="911.6" y2="187" stroke="#222" stroke-width="1.1"/>
<line x1="911.6" y1="63.8" x2="911.6" y2="81.2" stroke="#222" stroke-width="1.1"/>
<line x1="891.4" y1="439" x2="911.6" y2="439" stroke="#222" stroke-width="1.1"/>
<line x1="911.6" y1="421.7" x2="911.6" y2="439" stroke="#222" stroke-width="1.1"/>
<rect x="909.4" y="81.2" width="4.4" height="105.8" fill="#111"/>
<line x1="917.6" y1="81.2" x2="917.6" y2="187" stroke="#333" stroke-width="0.9"/>
<line x1="919.6" y1="81.2" x2="919.6" y2="187" stroke="#333" stroke-width="0.9"/>
<rect x="923.3" y="81.2" width="4.4" height="23.1" fill="#111"/>
<rect x="923.3" y="164" width="4.4" height="23" fill="#111"/>
<rect x="909.4" y="316.5" width="4.4" height="105.2" fill="#111"/>
<line x1="917.6" y1="316.5" x2="917.6" y2="421.7" stroke="#333" stroke-width="0.9"/>
<line x1="919.6" y1="316.5" x2="919.6" y2="421.7" stroke="#333" stroke-width="0.9"/>
<rect x="923.3" y="316.5" width="4.4" height="23.1" fill="#111"/>
<rect x="923.3" y="398.8" width="4.4" height="22.9" fill="#111"/>
<polyline points="925.5,81.2 925.5,63.8 1109.8,63.8" fill="none" stroke="#222" stroke-width="1.1"/>
<line x1="925.5" y1="104.3" x2="992" y2="104.3" stroke="#222" stroke-width="1.1"/>
<line x1="925.5" y1="164" x2="976.6" y2="164" stroke="#222" stroke-width="1.1"/>
<line x1="925.5" y1="187" x2="1109.8" y2="187" stroke="#222" stroke-width="1.1"/>
<line x1="925.5" y1="316.5" x2="1109.8" y2="316.5" stroke="#222" stroke-width="1.1"/>
<line x1="925.5" y1="339.6" x2="976.6" y2="339.6" stroke="#222" stroke-width="1.1"/>
<line x1="925.5" y1="398.8" x2="992" y2="398.8" stroke="#222" stroke-width="1.1"/>
<polyline points="925.5,421.7 925.5,439 1109.8,439" fill="none" stroke="#222" stroke-width="1.1"/>
<circle cx="889" cy="63.8" r="1.8" fill="#fff" stroke="#222" stroke-width="0.9"/>
<text x="891.5" y="61.3" font-size="5" font-family="Liberation Sans" font-weight="bold" text-anchor="start" fill="#222">6</text>
<circle cx="943" cy="63.8" r="1.8" fill="#fff" stroke="#222" stroke-width="0.9"/>
<text x="945.5" y="61.3" font-size="5" font-family="Liberation Sans" font-weight="bold" text-anchor="start" fill="#222">17</text>
<circle cx="943" cy="104.3" r="1.8" fill="#fff" stroke="#222" stroke-width="0.9"/>
<text x="945.5" y="101.8" font-size="5" font-family="Liberation Sans" font-weight="bold" text-anchor="start" fill="#222">16</text>
<circle cx="943" cy="164" r="1.8" fill="#fff" stroke="#222" stroke-width="0.9"/>
<text x="945.5" y="161.5" font-size="5" font-family="Liberation Sans" font-weight="bold" text-anchor="start" fill="#222">15</text>
<circle cx="943" cy="187" r="1.8" fill="#fff" stroke="#222" stroke-width="0.9"/>
<text x="945.5" y="184.5" font-size="5" font-family="Liberation Sans" font-weight="bold" text-anchor="start" fill="#222">14</text>
<circle cx="889.8" cy="187" r="1.8" fill="#fff" stroke="#222" stroke-width="0.9"/>
<text x="892.3" y="184.5" font-size="5" font-family="Liberation Sans" font-weight="bold" text-anchor="start" fill="#222">7</text>
<circle cx="891.4" cy="316.5" r="1.8" fill="#fff" stroke="#222" stroke-width="0.9"/>
<text x="893.9" y="314" font-size="5" font-family="Liberation Sans" font-weight="bold" text-anchor="start" fill="#222">8</text>
<circle cx="943" cy="316.5" r="1.8" fill="#fff" stroke="#222" stroke-width="0.9"/>
<text x="945.5" y="314" font-size="5" font-family="Liberation Sans" font-weight="bold" text-anchor="start" fill="#222">13</text>
<circle cx="943" cy="339.6" r="1.8" fill="#fff" stroke="#222" stroke-width="0.9"/>
<text x="945.5" y="337.1" font-size="5" font-family="Liberation Sans" font-weight="bold" text-anchor="start" fill="#222">12</text>
<circle cx="943" cy="398.8" r="1.8" fill="#fff" stroke="#222" stroke-width="0.9"/>
<text x="945.5" y="396.3" font-size="5" font-family="Liberation Sans" font-weight="bold" text-anchor="start" fill="#222">11</text>
<circle cx="943" cy="439" r="1.8" fill="#fff" stroke="#222" stroke-width="0.9"/>
<text x="945.5" y="436.5" font-size="5" font-family="Liberation Sans" font-weight="bold" text-anchor="start" fill="#222">10</text>
<circle cx="891.4" cy="439" r="1.8" fill="#fff" stroke="#222" stroke-width="0.9"/>
<text x="893.9" y="436.5" font-size="5" font-family="Liberation Sans" font-weight="bold" text-anchor="start" fill="#222">9</text>
<text x="908" y="77" font-size="4.8" font-family="Liberation Sans" font-weight="normal" text-anchor="start" fill="#222">1</text>
<text x="929" y="77" font-size="4.8" font-family="Liberation Sans" font-weight="normal" text-anchor="start" fill="#222">3</text>
<text x="929" y="110" font-size="4.8" font-family="Liberation Sans" font-weight="normal" text-anchor="start" fill="#222">4</text>
<text x="929" y="162" font-size="4.8" font-family="Liberation Sans" font-weight="normal" text-anchor="start" fill="#222">5</text>
<text x="908" y="193" font-size="4.8" font-family="Liberation Sans" font-weight="normal" text-anchor="start" fill="#222">2</text>
<text x="929" y="193" font-size="4.8" font-family="Liberation Sans" font-weight="normal" text-anchor="start" fill="#222">6</text>
<text x="913" y="313" font-size="4.8" font-family="Liberation Sans" font-weight="normal" text-anchor="start" fill="#222">2</text>
<text x="929" y="313" font-size="4.8" font-family="Liberation Sans" font-weight="normal" text-anchor="start" fill="#222">5</text>
<text x="929" y="346" font-size="4.8" font-family="Liberation Sans" font-weight="normal" text-anchor="start" fill="#222">5</text>
<text x="929" y="396" font-size="4.8" font-family="Liberation Sans" font-weight="normal" text-anchor="start" fill="#222">4</text>
<text x="909" y="428" font-size="4.8" font-family="Liberation Sans" font-weight="normal" text-anchor="start" fill="#222">1</text>
<text x="929" y="428" font-size="4.8" font-family="Liberation Sans" font-weight="normal" text-anchor="start" fill="#222">3</text>
<text x="920" y="202" font-size="6" font-family="Liberation Sans" font-weight="normal" text-anchor="middle" fill="#222" textLength="34" lengthAdjust="spacingAndGlyphs">Tr-BV01457</text>
<text x="920" y="305" font-size="6" font-family="Liberation Sans" font-weight="normal" text-anchor="middle" fill="#222" textLength="34" lengthAdjust="spacingAndGlyphs">Tr-BV01457</text>
<polyline points="893,63.5 897,51 900,51" fill="none" stroke="#333" stroke-width="0.6"/>
<text x="899" y="47" font-size="5" font-family="Liberation Sans" font-weight="bold" text-anchor="start" fill="#222" textLength="13" lengthAdjust="spacingAndGlyphs">24,5V</text>
<text x="899" y="52.5" font-size="5" font-family="Liberation Sans" font-weight="bold" text-anchor="start" fill="#222" textLength="11" lengthAdjust="spacingAndGlyphs">24mA</text>
<line x1="899" y1="47.8" x2="913" y2="47.8" stroke="#222" stroke-width="0.5"/>
<polyline points="893,441 897,451 918,451" fill="none" stroke="#333" stroke-width="0.6"/>
<text x="903" y="450" font-size="5" font-family="Liberation Sans" font-weight="bold" text-anchor="start" fill="#222" textLength="13" lengthAdjust="spacingAndGlyphs">24,5V</text>
<text x="903" y="457.5" font-size="5" font-family="Liberation Sans" font-weight="bold" text-anchor="start" fill="#222" textLength="11" lengthAdjust="spacingAndGlyphs">24mA</text>
<text x="606" y="174" font-size="5" font-family="Liberation Sans" font-weight="normal" text-anchor="start" fill="#222">1</text>
<text x="606" y="239" font-size="5" font-family="Liberation Sans" font-weight="normal" text-anchor="start" fill="#222">2</text>
<text x="606" y="303" font-size="5" font-family="Liberation Sans" font-weight="normal" text-anchor="start" fill="#222">3</text>
<text x="677" y="474" font-size="5" font-family="Liberation Sans" font-weight="normal" text-anchor="start" fill="#222">4</text>
<text x="872" y="474" font-size="5" font-family="Liberation Sans" font-weight="normal" text-anchor="start" fill="#222">5</text>
<line x1="976.6" y1="38.4" x2="1067" y2="38.4" stroke="#222" stroke-width="1.1"/>
<line x1="1077.4" y1="38.4" x2="1109.8" y2="38.4" stroke="#222" stroke-width="1.1"/>
<rect x="989.5" y="36.3" width="11" height="4.2" fill="#fff" stroke="#222" stroke-width="0.9"/>
<circle cx="1015.6" cy="38.4" r="1.8" fill="#111"/>
<rect x="1031.5" y="36.2" width="11" height="4.4" fill="#fff" stroke="#222" stroke-width="0.9"/>
<line x1="1031" y1="43.9" x2="1043" y2="32.9" stroke="#111" stroke-width="0.9"/>
<path d="M1043.8,32.2 l-3.3,0.6 l1.6,2.2z" fill="#111"/>
<circle cx="1054.7" cy="38.4" r="1.8" fill="#111"/>
<path d="M1067,38.4 A5.2,5.2 0 0 0 1077.4,38.4" fill="none" stroke="#222" stroke-width="1"/>
<circle cx="1067" cy="38.4" r="1.8" fill="#111"/>
<circle cx="1077.4" cy="38.4" r="1.8" fill="#111"/>
<circle cx="1089.1" cy="38.4" r="1.8" fill="#111"/>
<polyline points="1015.6,38.4 1015.6,46.5 1029.3,46.5" fill="none" stroke="#222" stroke-width="1.1"/>
<circle cx="1029.3" cy="46.5" r="1.8" fill="#111"/>
<line x1="1089.1" y1="38.4" x2="1089.1" y2="64.2" stroke="#222" stroke-width="1.1"/>
<rect x="1085.1" y="50.3" width="8" height="2.6" fill="#f8eef1"/>
<line x1="1085.1" y1="50.3" x2="1093.1" y2="50.3" stroke="#111" stroke-width="1.4"/>
<line x1="1085.1" y1="52.9" x2="1093.1" y2="52.9" stroke="#111" stroke-width="1.4"/>
<circle cx="1089.1" cy="64.2" r="1.8" fill="#111"/>
<line x1="943" y1="64.2" x2="1109.8" y2="64.2" stroke="#222" stroke-width="1.1"/>
<line x1="976.6" y1="38.4" x2="976.6" y2="163.3" stroke="#222" stroke-width="1.1"/>
<circle cx="976.6" cy="74.3" r="1.8" fill="#111"/>
<circle cx="976.6" cy="86" r="1.8" fill="#111"/>
<circle cx="976.6" cy="104.3" r="1.8" fill="#111"/>
<circle cx="976.6" cy="133.2" r="1.8" fill="#111"/>
<circle cx="976.6" cy="163.3" r="1.8" fill="#111"/>
<rect x="974.4" y="113.3" width="4.4" height="10.5" fill="#fff" stroke="#222" stroke-width="0.9"/>
<rect x="974.4" y="143.1" width="4.4" height="10.5" fill="#fff" stroke="#222" stroke-width="0.9"/>
<polyline points="976.6,74.3 1013.9,74.3 1013.9,86" fill="none" stroke="#333" stroke-width="0.8" stroke-dasharray="2.2,1.6"/>
<line x1="976.6" y1="86" x2="1013.9" y2="86" stroke="#222" stroke-width="1.1"/>
<rect x="989.5" y="83.9" width="11" height="4.2" fill="#fff" stroke="#222" stroke-width="0.9"/>
<circle cx="1013.9" cy="86" r="1.8" fill="#111"/>
<line x1="1013.9" y1="86" x2="1013.9" y2="96" stroke="#222" stroke-width="1.1"/>
<line x1="1013.9" y1="113" x2="1013.9" y2="133.2" stroke="#222" stroke-width="1.1"/>
<circle cx="1001.5" cy="104.4" r="9.3" fill="none" stroke="#111" stroke-width="2.3"/>
<line x1="1000.4" y1="99.8" x2="1000.4" y2="109.1" stroke="#111" stroke-width="1.9"/>
<line x1="992.2" y1="104.4" x2="1000.4" y2="104.4" stroke="#111" stroke-width="1.2"/>
<line x1="1000.4" y1="102.7" x2="1007.3" y2="97.7" stroke="#111" stroke-width="1.2"/>
<line x1="1000.4" y1="106.1" x2="1007.3" y2="111.1" stroke="#111" stroke-width="1.2"/>
<path d="M1006.1,110.3 l-3.2,-0.4 l1.2,-2.6 z" fill="#111"/>
<line x1="1006.7" y1="97.5" x2="1013.9" y2="96" stroke="#111" stroke-width="1.2"/>
<line x1="1006.7" y1="111.3" x2="1013.9" y2="113" stroke="#111" stroke-width="1.2"/>
<line x1="992" y1="104.3" x2="992.2" y2="104.3" stroke="#222" stroke-width="1.1"/>
<line x1="958.5" y1="133.2" x2="1031" y2="133.2" stroke="#222" stroke-width="1.1"/>
<circle cx="1013.9" cy="133.2" r="1.8" fill="#111"/>
<circle cx="1031" cy="133.2" r="1.8" fill="#111"/>
<line x1="958.5" y1="133.2" x2="958.5" y2="208.6" stroke="#222" stroke-width="1.1"/>
<polyline points="1109.8,86.7 1031,86.7 1031,162.3 1109.8,162.3" fill="none" stroke="#222" stroke-width="1.1"/>
<circle cx="1031" cy="143.5" r="1.8" fill="#111"/>
<line x1="1031" y1="143.5" x2="1109.8" y2="143.5" stroke="#222" stroke-width="1.1"/>
<rect x="1041.7" y="139.8" width="2.6" height="7.5" fill="#fff"/>
<line x1="1041.7" y1="139.8" x2="1041.7" y2="147.2" stroke="#111" stroke-width="1.4"/>
<line x1="1044.3" y1="139.8" x2="1044.3" y2="147.2" stroke="#111" stroke-width="1.4"/>
<circle cx="1070.9" cy="143.5" r="1.8" fill="#111"/>
<line x1="1070.9" y1="94.6" x2="1070.9" y2="143.5" stroke="#222" stroke-width="1.1"/>
<rect x="1068.7" y="116.8" width="4.4" height="10.5" fill="#fff" stroke="#222" stroke-width="0.9"/>
<line x1="1066.9" y1="94.6" x2="1074.9" y2="94.6" stroke="#111" stroke-width="1.3"/>
<circle cx="1070.9" cy="101.1" r="1.8" fill="#111"/>
<line x1="1070.9" y1="101.1" x2="1101.5" y2="101.1" stroke="#222" stroke-width="1.1"/>
<polyline points="1109.8,130.2 1088,130.2 1088,116.3 1106.9,116.3" fill="none" stroke="#222" stroke-width="1.1"/>
<text x="1113" y="111.7" font-size="7.5" font-family="Liberation Sans" font-weight="bold" text-anchor="start" fill="#222" textLength="11.5" lengthAdjust="spacingAndGlyphs">4,5Ω</text>
<polyline points="976.6,163.3 1013.9,163.3 1013.9,175.6" fill="none" stroke="#333" stroke-width="0.8" stroke-dasharray="2.2,1.6"/>
<line x1="976.6" y1="163.3" x2="976.6" y2="241.6" stroke="#222" stroke-width="1.1"/>
<circle cx="976.6" cy="175.6" r="1.8" fill="#111"/>
<circle cx="976.6" cy="211.9" r="1.8" fill="#111"/>
<line x1="976.6" y1="175.6" x2="1013.9" y2="175.6" stroke="#222" stroke-width="1.1"/>
<rect x="990.4" y="173.5" width="11" height="4.2" fill="#fff" stroke="#222" stroke-width="0.9"/>
<circle cx="1013.9" cy="175.6" r="1.8" fill="#111"/>
<rect x="974.4" y="221.7" width="4.4" height="10.5" fill="#fff" stroke="#222" stroke-width="0.9"/>
<line x1="1013.9" y1="175.6" x2="1013.9" y2="203" stroke="#222" stroke-width="1.1"/>
<line x1="1013.9" y1="221" x2="1013.9" y2="241.6" stroke="#222" stroke-width="1.1"/>
<line x1="976.6" y1="211.9" x2="992" y2="211.9" stroke="#222" stroke-width="1.1"/>
<circle cx="1001" cy="211.9" r="9.5" fill="none" stroke="#111" stroke-width="2.3"/>
<line x1="999.9" y1="207.2" x2="999.9" y2="216.7" stroke="#111" stroke-width="1.9"/>
<line x1="991.5" y1="211.9" x2="999.9" y2="211.9" stroke="#111" stroke-width="1.2"/>
<line x1="999.9" y1="210.2" x2="1006.9" y2="205.1" stroke="#111" stroke-width="1.2"/>
<line x1="999.9" y1="213.6" x2="1006.9" y2="218.7" stroke="#111" stroke-width="1.2"/>
<path d="M1005.8,217.9 l-3.2,-0.4 l1.2,-2.6 z" fill="#111"/>
<line x1="1006.3" y1="204.8" x2="1013.9" y2="203" stroke="#111" stroke-width="1.2"/>
<line x1="1006.3" y1="219" x2="1013.9" y2="221" stroke="#111" stroke-width="1.2"/>
<rect x="1085" y="172.4" width="8" height="2.6" fill="#f8eef1"/>
<line x1="1085" y1="172.4" x2="1093" y2="172.4" stroke="#111" stroke-width="1.4"/>
<line x1="1085" y1="175" x2="1093" y2="175" stroke="#111" stroke-width="1.4"/>
<line x1="1089" y1="162.3" x2="1089" y2="187.3" stroke="#222" stroke-width="1.1"/>
<circle cx="1089" cy="162.3" r="1.8" fill="#111"/>
<circle cx="1089" cy="187.3" r="1.8" fill="#111"/>
<rect x="1052.5" y="209.5" width="4.4" height="11" fill="#fff" stroke="#222" stroke-width="0.9"/>
<line x1="1054.7" y1="209.5" x2="1054.7" y2="220.5" stroke="#222" stroke-width="0.8"/>
<line x1="1052.5" y1="213.2" x2="1056.9" y2="213.2" stroke="#222" stroke-width="0.7"/>
<line x1="1052.5" y1="216.8" x2="1056.9" y2="216.8" stroke="#222" stroke-width="0.7"/>
<line x1="976.6" y1="464.8" x2="1067" y2="464.8" stroke="#222" stroke-width="1.1"/>
<line x1="1077.4" y1="464.8" x2="1109.8" y2="464.8" stroke="#222" stroke-width="1.1"/>
<rect x="989.5" y="462.7" width="11" height="4.2" fill="#fff" stroke="#222" stroke-width="0.9"/>
<circle cx="1015.6" cy="464.8" r="1.8" fill="#111"/>
<rect x="1031.5" y="462.6" width="11" height="4.4" fill="#fff" stroke="#222" stroke-width="0.9"/>
<line x1="1031" y1="470.3" x2="1043" y2="459.3" stroke="#111" stroke-width="0.9"/>
<path d="M1043.8,458.6 l-3.3,0.6 l1.6,2.2z" fill="#111"/>
<circle cx="1054.7" cy="464.8" r="1.8" fill="#111"/>
<path d="M1067,464.8 A5.2,5.2 0 0 1 1077.4,464.8" fill="none" stroke="#222" stroke-width="1"/>
<circle cx="1067" cy="464.8" r="1.8" fill="#111"/>
<circle cx="1077.4" cy="464.8" r="1.8" fill="#111"/>
<circle cx="1089.1" cy="464.8" r="1.8" fill="#111"/>
<polyline points="1015.6,464.8 1015.6,456.7 1029.3,456.7" fill="none" stroke="#222" stroke-width="1.1"/>
<circle cx="1029.3" cy="456.7" r="1.8" fill="#111"/>
<line x1="1089.1" y1="464.8" x2="1089.1" y2="439" stroke="#222" stroke-width="1.1"/>
<rect x="1085.1" y="450.3" width="8" height="2.6" fill="#f8eef1"/>
<line x1="1085.1" y1="450.3" x2="1093.1" y2="450.3" stroke="#111" stroke-width="1.4"/>
<line x1="1085.1" y1="452.9" x2="1093.1" y2="452.9" stroke="#111" stroke-width="1.4"/>
<circle cx="1089.1" cy="439" r="1.8" fill="#111"/>
<line x1="943" y1="439" x2="1109.8" y2="439" stroke="#222" stroke-width="1.1"/>
<line x1="976.6" y1="464.8" x2="976.6" y2="339.9" stroke="#222" stroke-width="1.1"/>
<circle cx="976.6" cy="428.9" r="1.8" fill="#111"/>
<circle cx="976.6" cy="417.2" r="1.8" fill="#111"/>
<circle cx="976.6" cy="398.9" r="1.8" fill="#111"/>
<circle cx="976.6" cy="370" r="1.8" fill="#111"/>
<circle cx="976.6" cy="339.9" r="1.8" fill="#111"/>
<rect x="974.4" y="379.4" width="4.4" height="10.5" fill="#fff" stroke="#222" stroke-width="0.9"/>
<rect x="974.4" y="349.6" width="4.4" height="10.5" fill="#fff" stroke="#222" stroke-width="0.9"/>
<polyline points="976.6,428.9 1013.9,428.9 1013.9,417.2" fill="none" stroke="#333" stroke-width="0.8" stroke-dasharray="2.2,1.6"/>
<line x1="976.6" y1="417.2" x2="1013.9" y2="417.2" stroke="#222" stroke-width="1.1"/>
<rect x="989.5" y="415.1" width="11" height="4.2" fill="#fff" stroke="#222" stroke-width="0.9"/>
<circle cx="1013.9" cy="417.2" r="1.8" fill="#111"/>
<line x1="1013.9" y1="417.2" x2="1013.9" y2="407.2" stroke="#222" stroke-width="1.1"/>
<line x1="1013.9" y1="390.2" x2="1013.9" y2="370" stroke="#222" stroke-width="1.1"/>
<circle cx="1001.5" cy="398.8" r="9.3" fill="none" stroke="#111" stroke-width="2.3"/>
<line x1="1000.4" y1="394.1" x2="1000.4" y2="403.4" stroke="#111" stroke-width="1.9"/>
<line x1="992.2" y1="398.8" x2="1000.4" y2="398.8" stroke="#111" stroke-width="1.2"/>
<line x1="1000.4" y1="397.1" x2="1007.3" y2="392.1" stroke="#111" stroke-width="1.2"/>
<line x1="1000.4" y1="400.5" x2="1007.3" y2="405.5" stroke="#111" stroke-width="1.2"/>
<path d="M1006.1,404.7 l-3.2,-0.4 l1.2,-2.6 z" fill="#111"/>
<line x1="1006.7" y1="405.7" x2="1013.9" y2="407.2" stroke="#111" stroke-width="1.2"/>
<line x1="1006.7" y1="391.9" x2="1013.9" y2="390.2" stroke="#111" stroke-width="1.2"/>
<line x1="992" y1="398.9" x2="992.2" y2="398.9" stroke="#222" stroke-width="1.1"/>
<line x1="958.5" y1="370" x2="1031" y2="370" stroke="#222" stroke-width="1.1"/>
<circle cx="1013.9" cy="370" r="1.8" fill="#111"/>
<circle cx="1031" cy="370" r="1.8" fill="#111"/>
<line x1="958.5" y1="370" x2="958.5" y2="294.6" stroke="#222" stroke-width="1.1"/>
<polyline points="1109.8,416.5 1031,416.5 1031,340.9 1109.8,340.9" fill="none" stroke="#222" stroke-width="1.1"/>
<circle cx="1031" cy="359.7" r="1.8" fill="#111"/>
<line x1="1031" y1="359.7" x2="1109.8" y2="359.7" stroke="#222" stroke-width="1.1"/>
<rect x="1041.7" y="355.9" width="2.6" height="7.5" fill="#fff"/>
<line x1="1041.7" y1="355.9" x2="1041.7" y2="363.4" stroke="#111" stroke-width="1.4"/>
<line x1="1044.3" y1="355.9" x2="1044.3" y2="363.4" stroke="#111" stroke-width="1.4"/>
<circle cx="1070.9" cy="359.7" r="1.8" fill="#111"/>
<line x1="1070.9" y1="408.6" x2="1070.9" y2="359.7" stroke="#222" stroke-width="1.1"/>
<rect x="1068.7" y="375.9" width="4.4" height="10.5" fill="#fff" stroke="#222" stroke-width="0.9"/>
<line x1="1066.9" y1="408.6" x2="1074.9" y2="408.6" stroke="#111" stroke-width="1.3"/>
<circle cx="1070.9" cy="402.1" r="1.8" fill="#111"/>
<line x1="1070.9" y1="402.1" x2="1101.5" y2="402.1" stroke="#222" stroke-width="1.1"/>
<polyline points="1109.8,373 1088,373 1088,386.9 1106.9,386.9" fill="none" stroke="#222" stroke-width="1.1"/>
<text x="1113" y="397.7" font-size="7.5" font-family="Liberation Sans" font-weight="bold" text-anchor="start" fill="#222" textLength="11.5" lengthAdjust="spacingAndGlyphs">4,5Ω</text>
<polyline points="976.6,339.9 1013.9,339.9 1013.9,327.6" fill="none" stroke="#333" stroke-width="0.8" stroke-dasharray="2.2,1.6"/>
<line x1="976.6" y1="339.9" x2="976.6" y2="261.6" stroke="#222" stroke-width="1.1"/>
<circle cx="976.6" cy="327.6" r="1.8" fill="#111"/>
<circle cx="976.6" cy="291.3" r="1.8" fill="#111"/>
<line x1="976.6" y1="327.6" x2="1013.9" y2="327.6" stroke="#222" stroke-width="1.1"/>
<rect x="990.4" y="325.5" width="11" height="4.2" fill="#fff" stroke="#222" stroke-width="0.9"/>
<circle cx="1013.9" cy="327.6" r="1.8" fill="#111"/>
<rect x="974.4" y="271" width="4.4" height="10.5" fill="#fff" stroke="#222" stroke-width="0.9"/>
<line x1="1013.9" y1="327.6" x2="1013.9" y2="300.2" stroke="#222" stroke-width="1.1"/>
<line x1="1013.9" y1="282.2" x2="1013.9" y2="261.6" stroke="#222" stroke-width="1.1"/>
<line x1="976.6" y1="291.3" x2="992" y2="291.3" stroke="#222" stroke-width="1.1"/>
<circle cx="1001" cy="291.3" r="9.5" fill="none" stroke="#111" stroke-width="2.3"/>
<line x1="999.9" y1="286.5" x2="999.9" y2="296" stroke="#111" stroke-width="1.9"/>
<line x1="991.5" y1="291.3" x2="999.9" y2="291.3" stroke="#111" stroke-width="1.2"/>
<line x1="999.9" y1="289.6" x2="1006.9" y2="284.5" stroke="#111" stroke-width="1.2"/>
<line x1="999.9" y1="293" x2="1006.9" y2="298.1" stroke="#111" stroke-width="1.2"/>
<path d="M1005.8,297.3 l-3.2,-0.4 l1.2,-2.6 z" fill="#111"/>
<line x1="1006.3" y1="298.4" x2="1013.9" y2="300.2" stroke="#111" stroke-width="1.2"/>
<line x1="1006.3" y1="284.2" x2="1013.9" y2="282.2" stroke="#111" stroke-width="1.2"/>
<rect x="1085" y="328.2" width="8" height="2.6" fill="#f8eef1"/>
<line x1="1085" y1="328.2" x2="1093" y2="328.2" stroke="#111" stroke-width="1.4"/>
<line x1="1085" y1="330.8" x2="1093" y2="330.8" stroke="#111" stroke-width="1.4"/>
<line x1="1089" y1="340.9" x2="1089" y2="315.9" stroke="#222" stroke-width="1.1"/>
<circle cx="1089" cy="340.9" r="1.8" fill="#111"/>
<circle cx="1089" cy="315.9" r="1.8" fill="#111"/>
<rect x="1052.5" y="282.7" width="4.4" height="11" fill="#fff" stroke="#222" stroke-width="0.9"/>
<line x1="1054.7" y1="282.7" x2="1054.7" y2="293.7" stroke="#222" stroke-width="0.8"/>
<line x1="1052.5" y1="286.4" x2="1056.9" y2="286.4" stroke="#222" stroke-width="0.7"/>
<line x1="1052.5" y1="290" x2="1056.9" y2="290" stroke="#222" stroke-width="0.7"/>
<line x1="958.3" y1="241.6" x2="1109.8" y2="241.6" stroke="#222" stroke-width="1.1"/>
<line x1="958.3" y1="237.6" x2="958.3" y2="245.6" stroke="#111" stroke-width="1.3"/>
<circle cx="976.6" cy="241.6" r="1.8" fill="#111"/>
<circle cx="1013.9" cy="241.6" r="1.8" fill="#111"/>
<circle cx="1088.5" cy="241.6" r="1.8" fill="#111"/>
<polyline points="1109.8,212.3 1088.5,212.3 1088.5,241.6" fill="none" stroke="#222" stroke-width="1.1"/>
<polyline points="958.6,261.6 958.6,370" fill="none" stroke="#222" stroke-width="1.1"/>
<line x1="976.6" y1="261.4" x2="1088.5" y2="261.4" stroke="#222" stroke-width="1.1"/>
<circle cx="976.6" cy="261.4" r="1.8" fill="#111"/>
<circle cx="1013.9" cy="261.4" r="1.8" fill="#111"/>
<polyline points="1088.5,261.4 1088.5,291.8 1109.8,291.8" fill="none" stroke="#222" stroke-width="1.1"/>
<line x1="1054.7" y1="38.4" x2="1054.7" y2="464.8" stroke="#222" stroke-width="1.1"/>
<circle cx="1054.7" cy="251.6" r="1.8" fill="#111"/>
<line x1="1054.7" y1="251.6" x2="1158.7" y2="251.6" stroke="#222" stroke-width="1.1"/>
<line x1="1158.7" y1="251.6" x2="1158.7" y2="672.3" stroke="#222" stroke-width="1.1"/>
<line x1="958.5" y1="208.6" x2="958.5" y2="133.2" stroke="#222" stroke-width="1.1"/>
<text x="983" y="123.5" font-size="9.6" font-family="Liberation Sans" font-weight="bold" text-anchor="start" fill="#222" textLength="26" lengthAdjust="spacingAndGlyphs">AC132</text>
<text x="997.5" y="131" font-size="7.2" font-family="Liberation Sans" font-weight="bold" text-anchor="middle" fill="#222" textLength="15" lengthAdjust="spacingAndGlyphs">T593</text>
<text x="1017.5" y="215" font-size="9.6" font-family="Liberation Sans" font-weight="normal" text-anchor="start" fill="#333" textLength="25" lengthAdjust="spacingAndGlyphs">AC132</text>
<text x="1030" y="222" font-size="7.2" font-family="Liberation Sans" font-weight="normal" text-anchor="middle" fill="#333" textLength="15" lengthAdjust="spacingAndGlyphs">T595</text>
<text x="1017.5" y="293.5" font-size="9.6" font-family="Liberation Sans" font-weight="normal" text-anchor="start" fill="#333" textLength="25" lengthAdjust="spacingAndGlyphs">AC132</text>
<text x="1030" y="301" font-size="7.2" font-family="Liberation Sans" font-weight="normal" text-anchor="middle" fill="#333" textLength="15" lengthAdjust="spacingAndGlyphs">T596</text>
<text x="983" y="383" font-size="9.6" font-family="Liberation Sans" font-weight="normal" text-anchor="start" fill="#333" textLength="25" lengthAdjust="spacingAndGlyphs">AC132</text>
<text x="996" y="391" font-size="7.2" font-family="Liberation Sans" font-weight="bold" text-anchor="middle" fill="#222" textLength="15" lengthAdjust="spacingAndGlyphs">T594</text>
<text x="989" y="30" font-size="5.2" font-family="Liberation Sans" font-weight="bold" text-anchor="start" fill="#111" textLength="9" lengthAdjust="spacingAndGlyphs">R535</text>
<text x="989" y="35.8" font-size="5.2" font-family="Liberation Sans" font-weight="bold" text-anchor="start" fill="#111" textLength="7" lengthAdjust="spacingAndGlyphs">330</text>
<text x="1033" y="47" font-size="5.2" font-family="Liberation Sans" font-weight="bold" text-anchor="start" fill="#111" textLength="9" lengthAdjust="spacingAndGlyphs">R549</text>
<text x="1033" y="52.8" font-size="5.2" font-family="Liberation Sans" font-weight="bold" text-anchor="start" fill="#111" textLength="7" lengthAdjust="spacingAndGlyphs">500</text>
<text x="1077" y="35" font-size="5.2" font-family="Liberation Sans" font-weight="bold" text-anchor="start" fill="#222" textLength="19" lengthAdjust="spacingAndGlyphs">4...40mA</text>
<text x="1093" y="51" font-size="5.2" font-family="Liberation Sans" font-weight="bold" text-anchor="start" fill="#111" textLength="9" lengthAdjust="spacingAndGlyphs">C580</text>
<text x="1093" y="56.8" font-size="5.2" font-family="Liberation Sans" font-weight="bold" text-anchor="start" fill="#111" textLength="11" lengthAdjust="spacingAndGlyphs">0,01µ</text>
<text x="990" y="82" font-size="5.2" font-family="Liberation Sans" font-weight="bold" text-anchor="start" fill="#111" textLength="9" lengthAdjust="spacingAndGlyphs">R543</text>
<text x="990" y="95" font-size="5.2" font-family="Liberation Sans" font-weight="bold" text-anchor="start" fill="#222">10</text>
<text x="960" y="118" font-size="5.2" font-family="Liberation Sans" font-weight="bold" text-anchor="start" fill="#111" textLength="9" lengthAdjust="spacingAndGlyphs">R537</text>
<text x="960" y="123.8" font-size="5.2" font-family="Liberation Sans" font-weight="bold" text-anchor="start" fill="#111" textLength="5" lengthAdjust="spacingAndGlyphs">22</text>
<text x="981" y="147" font-size="5.2" font-family="Liberation Sans" font-weight="bold" text-anchor="start" fill="#111" textLength="9" lengthAdjust="spacingAndGlyphs">R539</text>
<text x="981" y="152.8" font-size="5.2" font-family="Liberation Sans" font-weight="bold" text-anchor="start" fill="#111" textLength="7" lengthAdjust="spacingAndGlyphs">560</text>
<text x="1035" y="135" font-size="5.2" font-family="Liberation Sans" font-weight="bold" text-anchor="start" fill="#111" textLength="9" lengthAdjust="spacingAndGlyphs">C576</text>
<text x="1035" y="140.8" font-size="5.2" font-family="Liberation Sans" font-weight="bold" text-anchor="start" fill="#111" textLength="12" lengthAdjust="spacingAndGlyphs">1000µ</text>
<text x="1075" y="120" font-size="5.2" font-family="Liberation Sans" font-weight="bold" text-anchor="start" fill="#111" textLength="9" lengthAdjust="spacingAndGlyphs">R550</text>
<text x="1075" y="125.8" font-size="5.2" font-family="Liberation Sans" font-weight="bold" text-anchor="start" fill="#111" textLength="5" lengthAdjust="spacingAndGlyphs">1k</text>
<text x="990" y="172" font-size="5.2" font-family="Liberation Sans" font-weight="bold" text-anchor="start" fill="#111" textLength="9" lengthAdjust="spacingAndGlyphs">R545</text>
<text x="990" y="185" font-size="5.2" font-family="Liberation Sans" font-weight="bold" text-anchor="start" fill="#222">10</text>
<text x="960" y="225" font-size="5.2" font-family="Liberation Sans" font-weight="bold" text-anchor="start" fill="#111" textLength="9" lengthAdjust="spacingAndGlyphs">R541</text>
<text x="960" y="230.8" font-size="5.2" font-family="Liberation Sans" font-weight="bold" text-anchor="start" fill="#111" textLength="5" lengthAdjust="spacingAndGlyphs">22</text>
<text x="1093" y="173" font-size="5.2" font-family="Liberation Sans" font-weight="bold" text-anchor="start" fill="#111" textLength="9" lengthAdjust="spacingAndGlyphs">C582</text>
<text x="1093" y="178.8" font-size="5.2" font-family="Liberation Sans" font-weight="bold" text-anchor="start" fill="#111" textLength="11" lengthAdjust="spacingAndGlyphs">0,01µ</text>
<text x="1059" y="215" font-size="5.2" font-family="Liberation Sans" font-weight="bold" text-anchor="start" fill="#111" textLength="11" lengthAdjust="spacingAndGlyphs">Si 598</text>
<text x="1059" y="220.8" font-size="5.2" font-family="Liberation Sans" font-weight="bold" text-anchor="start" fill="#111" textLength="10" lengthAdjust="spacingAndGlyphs">1,25A</text>
<text x="1059" y="289" font-size="5.2" font-family="Liberation Sans" font-weight="bold" text-anchor="start" fill="#111" textLength="11" lengthAdjust="spacingAndGlyphs">Si 599</text>
<text x="1059" y="294.8" font-size="5.2" font-family="Liberation Sans" font-weight="bold" text-anchor="start" fill="#111" textLength="10" lengthAdjust="spacingAndGlyphs">1,25A</text>
<text x="960" y="276" font-size="5.2" font-family="Liberation Sans" font-weight="bold" text-anchor="start" fill="#111" textLength="9" lengthAdjust="spacingAndGlyphs">R542</text>
<text x="960" y="281.8" font-size="5.2" font-family="Liberation Sans" font-weight="bold" text-anchor="start" fill="#111" textLength="5" lengthAdjust="spacingAndGlyphs">22</text>
<text x="990" y="325" font-size="5.2" font-family="Liberation Sans" font-weight="bold" text-anchor="start" fill="#111" textLength="9" lengthAdjust="spacingAndGlyphs">R546</text>
<text x="990" y="338" font-size="5.2" font-family="Liberation Sans" font-weight="bold" text-anchor="start" fill="#222">10</text>
<text x="981" y="354" font-size="5.2" font-family="Liberation Sans" font-weight="bold" text-anchor="start" fill="#111" textLength="9" lengthAdjust="spacingAndGlyphs">R540</text>
<text x="981" y="359.8" font-size="5.2" font-family="Liberation Sans" font-weight="bold" text-anchor="start" fill="#111" textLength="7" lengthAdjust="spacingAndGlyphs">560</text>
<text x="960" y="383" font-size="5.2" font-family="Liberation Sans" font-weight="bold" text-anchor="start" fill="#111" textLength="9" lengthAdjust="spacingAndGlyphs">R538</text>
<text x="960" y="388.8" font-size="5.2" font-family="Liberation Sans" font-weight="bold" text-anchor="start" fill="#111" textLength="5" lengthAdjust="spacingAndGlyphs">22</text>
<text x="1093" y="326" font-size="5.2" font-family="Liberation Sans" font-weight="bold" text-anchor="start" fill="#111" textLength="9" lengthAdjust="spacingAndGlyphs">C583</text>
<text x="1093" y="331.8" font-size="5.2" font-family="Liberation Sans" font-weight="bold" text-anchor="start" fill="#111" textLength="11" lengthAdjust="spacingAndGlyphs">0,01µ</text>
<text x="1035" y="356" font-size="5.2" font-family="Liberation Sans" font-weight="bold" text-anchor="start" fill="#111" textLength="9" lengthAdjust="spacingAndGlyphs">C577</text>
<text x="1035" y="361.8" font-size="5.2" font-family="Liberation Sans" font-weight="bold" text-anchor="start" fill="#111" textLength="12" lengthAdjust="spacingAndGlyphs">1000µ</text>
<text x="1061" y="380" font-size="5.2" font-family="Liberation Sans" font-weight="bold" text-anchor="start" fill="#111" textLength="9" lengthAdjust="spacingAndGlyphs">R551</text>
<text x="1061" y="385.8" font-size="5.2" font-family="Liberation Sans" font-weight="bold" text-anchor="start" fill="#111" textLength="5" lengthAdjust="spacingAndGlyphs">1k</text>
<text x="990" y="414" font-size="5.2" font-family="Liberation Sans" font-weight="bold" text-anchor="start" fill="#111" textLength="9" lengthAdjust="spacingAndGlyphs">R544</text>
<text x="990" y="427" font-size="5.2" font-family="Liberation Sans" font-weight="bold" text-anchor="start" fill="#222">10</text>
<text x="1093" y="451" font-size="5.2" font-family="Liberation Sans" font-weight="bold" text-anchor="start" fill="#111" textLength="9" lengthAdjust="spacingAndGlyphs">C581</text>
<text x="1093" y="456.8" font-size="5.2" font-family="Liberation Sans" font-weight="bold" text-anchor="start" fill="#111" textLength="11" lengthAdjust="spacingAndGlyphs">0,01µ</text>
<text x="1033" y="456" font-size="5.2" font-family="Liberation Sans" font-weight="bold" text-anchor="start" fill="#111" textLength="9" lengthAdjust="spacingAndGlyphs">R548</text>
<text x="1033" y="461.8" font-size="5.2" font-family="Liberation Sans" font-weight="bold" text-anchor="start" fill="#111" textLength="7" lengthAdjust="spacingAndGlyphs">500</text>
<text x="1077" y="472" font-size="5.2" font-family="Liberation Sans" font-weight="bold" text-anchor="start" fill="#222" textLength="19" lengthAdjust="spacingAndGlyphs">4...42mA</text>
<text x="989" y="460" font-size="5.2" font-family="Liberation Sans" font-weight="bold" text-anchor="start" fill="#111" textLength="9" lengthAdjust="spacingAndGlyphs">R536</text>
<text x="989" y="465.8" font-size="5.2" font-family="Liberation Sans" font-weight="bold" text-anchor="start" fill="#111" textLength="7" lengthAdjust="spacingAndGlyphs">330</text>
<text x="1107" y="127.7" font-size="5.2" font-family="Liberation Sans" font-weight="bold" text-anchor="end" fill="#222">18</text>
<text x="1107" y="141" font-size="5.2" font-family="Liberation Sans" font-weight="bold" text-anchor="end" fill="#222">19</text>
<text x="1107" y="239.1" font-size="5.2" font-family="Liberation Sans" font-weight="bold" text-anchor="end" fill="#222">20</text>
<text x="1107" y="249.1" font-size="5.2" font-family="Liberation Sans" font-weight="bold" text-anchor="end" fill="#222">21</text>
<text x="1107" y="357.2" font-size="5.2" font-family="Liberation Sans" font-weight="bold" text-anchor="end" fill="#222">22</text>
<text x="1107" y="370.5" font-size="5.2" font-family="Liberation Sans" font-weight="bold" text-anchor="end" fill="#222">23</text>
<circle cx="1135.4" cy="64.3" r="10" fill="none" stroke="#111" stroke-width="2.3"/>
<line x1="1134.2" y1="59.3" x2="1134.2" y2="69.3" stroke="#111" stroke-width="1.9"/>
<line x1="1125.4" y1="64.3" x2="1134.2" y2="64.3" stroke="#111" stroke-width="1.2"/>
<line x1="1134.2" y1="62.5" x2="1141.6" y2="57.1" stroke="#111" stroke-width="1.2"/>
<line x1="1134.2" y1="66.1" x2="1141.6" y2="71.5" stroke="#111" stroke-width="1.2"/>
<path d="M1140.4,70.6 l-3.2,-0.4 l1.2,-2.6 z" fill="#111"/>
<polyline points="1109.8,38.4 1147.4,38.4 1147.4,56.8" fill="none" stroke="#222" stroke-width="1.1"/>
<polyline points="1109.8,86.7 1147.4,86.7 1147.4,71.8" fill="none" stroke="#222" stroke-width="1.1"/>
<line x1="1141" y1="56.8" x2="1147.4" y2="56.8" stroke="#111" stroke-width="1.2"/>
<line x1="1141" y1="71.8" x2="1147.4" y2="71.8" stroke="#111" stroke-width="1.2"/>
<line x1="1109.8" y1="64.3" x2="1125.4" y2="64.3" stroke="#222" stroke-width="1.1"/>
<circle cx="1135.4" cy="187.3" r="10" fill="none" stroke="#111" stroke-width="2.3"/>
<line x1="1134.2" y1="182.3" x2="1134.2" y2="192.3" stroke="#111" stroke-width="1.9"/>
<line x1="1125.4" y1="187.3" x2="1134.2" y2="187.3" stroke="#111" stroke-width="1.2"/>
<line x1="1134.2" y1="185.5" x2="1141.6" y2="180.1" stroke="#111" stroke-width="1.2"/>
<line x1="1134.2" y1="189.1" x2="1141.6" y2="194.5" stroke="#111" stroke-width="1.2"/>
<path d="M1140.4,193.6 l-3.2,-0.4 l1.2,-2.6 z" fill="#111"/>
<polyline points="1109.8,162.3 1147.4,162.3 1147.4,179.8" fill="none" stroke="#222" stroke-width="1.1"/>
<polyline points="1109.8,212.3 1147.4,212.3 1147.4,194.8" fill="none" stroke="#222" stroke-width="1.1"/>
<line x1="1141" y1="179.8" x2="1147.4" y2="179.8" stroke="#111" stroke-width="1.2"/>
<line x1="1141" y1="194.8" x2="1147.4" y2="194.8" stroke="#111" stroke-width="1.2"/>
<line x1="1109.8" y1="187.3" x2="1125.4" y2="187.3" stroke="#222" stroke-width="1.1"/>
<circle cx="1135.4" cy="316.5" r="10" fill="none" stroke="#111" stroke-width="2.3"/>
<line x1="1134.2" y1="311.5" x2="1134.2" y2="321.5" stroke="#111" stroke-width="1.9"/>
<line x1="1125.4" y1="316.5" x2="1134.2" y2="316.5" stroke="#111" stroke-width="1.2"/>
<line x1="1134.2" y1="314.7" x2="1141.6" y2="309.3" stroke="#111" stroke-width="1.2"/>
<line x1="1134.2" y1="318.3" x2="1141.6" y2="323.7" stroke="#111" stroke-width="1.2"/>
<path d="M1140.4,322.8 l-3.2,-0.4 l1.2,-2.6 z" fill="#111"/>
<polyline points="1109.8,291.8 1147.4,291.8 1147.4,309" fill="none" stroke="#222" stroke-width="1.1"/>
<polyline points="1109.8,340.9 1147.4,340.9 1147.4,324" fill="none" stroke="#222" stroke-width="1.1"/>
<line x1="1141" y1="309" x2="1147.4" y2="309" stroke="#111" stroke-width="1.2"/>
<line x1="1141" y1="324" x2="1147.4" y2="324" stroke="#111" stroke-width="1.2"/>
<line x1="1109.8" y1="316.5" x2="1125.4" y2="316.5" stroke="#222" stroke-width="1.1"/>
<circle cx="1135.4" cy="439.3" r="10" fill="none" stroke="#111" stroke-width="2.3"/>
<line x1="1134.2" y1="434.3" x2="1134.2" y2="444.3" stroke="#111" stroke-width="1.9"/>
<line x1="1125.4" y1="439.3" x2="1134.2" y2="439.3" stroke="#111" stroke-width="1.2"/>
<line x1="1134.2" y1="437.5" x2="1141.6" y2="432.1" stroke="#111" stroke-width="1.2"/>
<line x1="1134.2" y1="441.1" x2="1141.6" y2="446.5" stroke="#111" stroke-width="1.2"/>
<path d="M1140.4,445.6 l-3.2,-0.4 l1.2,-2.6 z" fill="#111"/>
<polyline points="1109.8,416.5 1147.4,416.5 1147.4,431.8" fill="none" stroke="#222" stroke-width="1.1"/>
<polyline points="1109.8,464.8 1147.4,464.8 1147.4,446.8" fill="none" stroke="#222" stroke-width="1.1"/>
<line x1="1141" y1="431.8" x2="1147.4" y2="431.8" stroke="#111" stroke-width="1.2"/>
<line x1="1141" y1="446.8" x2="1147.4" y2="446.8" stroke="#111" stroke-width="1.2"/>
<line x1="1109.8" y1="439.3" x2="1125.4" y2="439.3" stroke="#222" stroke-width="1.1"/>
<text x="1155" y="62" font-size="10" font-family="Liberation Sans" font-weight="normal" text-anchor="start" fill="#222" textLength="27" lengthAdjust="spacingAndGlyphs">AD 166</text>
<text x="1168.5" y="69.5" font-size="6.8" font-family="Liberation Sans" font-weight="normal" text-anchor="middle" fill="#222" textLength="15" lengthAdjust="spacingAndGlyphs">T1431</text>
<text x="1121" y="222" font-size="10" font-family="Liberation Sans" font-weight="normal" text-anchor="start" fill="#333" textLength="27" lengthAdjust="spacingAndGlyphs">AD 166</text>
<text x="1134.5" y="229.5" font-size="6.8" font-family="Liberation Sans" font-weight="normal" text-anchor="middle" fill="#333" textLength="15" lengthAdjust="spacingAndGlyphs">T1432</text>
<text x="1134.5" y="279" font-size="6.8" font-family="Liberation Sans" font-weight="normal" text-anchor="middle" fill="#333" textLength="15" lengthAdjust="spacingAndGlyphs">T1433</text>
<text x="1121" y="288.5" font-size="10" font-family="Liberation Sans" font-weight="normal" text-anchor="start" fill="#333" textLength="27" lengthAdjust="spacingAndGlyphs">AD 166</text>
<text x="1164" y="437" font-size="10" font-family="Liberation Sans" font-weight="normal" text-anchor="start" fill="#222" textLength="27" lengthAdjust="spacingAndGlyphs">AD 166</text>
<text x="1177.5" y="445" font-size="6.8" font-family="Liberation Sans" font-weight="normal" text-anchor="middle" fill="#222" textLength="15" lengthAdjust="spacingAndGlyphs">T1434</text>
<text x="1177" y="24" font-size="6.4" font-family="Liberation Sans" font-weight="normal" text-anchor="start" fill="#222" textLength="48" lengthAdjust="spacingAndGlyphs">LINKER  KANAL</text>
<text x="1177" y="32" font-size="6.4" font-family="Liberation Sans" font-weight="normal" text-anchor="start" fill="#222" textLength="50" lengthAdjust="spacingAndGlyphs">LEFT  CHANNEL</text>
<text x="1177" y="40" font-size="6.4" font-family="Liberation Sans" font-weight="normal" text-anchor="start" fill="#222" textLength="50" lengthAdjust="spacingAndGlyphs">CANAL  GAUCHE</text>
<text x="1176" y="472" font-size="6.4" font-family="Liberation Sans" font-weight="normal" text-anchor="start" fill="#222" textLength="56" lengthAdjust="spacingAndGlyphs">RECHTER     KANAL</text>
<text x="1176" y="480" font-size="6.4" font-family="Liberation Sans" font-weight="normal" text-anchor="start" fill="#222" textLength="51" lengthAdjust="spacingAndGlyphs">RIGHT  CHANNEL</text>
<text x="1176" y="487.5" font-size="6.4" font-family="Liberation Sans" font-weight="normal" text-anchor="start" fill="#222" textLength="44" lengthAdjust="spacingAndGlyphs">CANAL  DROITE</text>
<polyline points="1109.8,130.2 1181.8,130.2 1181.8,241.8" fill="none" stroke="#222" stroke-width="1.1"/>
<polyline points="1109.8,143.5 1174.4,143.5 1174.4,241.8" fill="none" stroke="#222" stroke-width="1.1"/>
<circle cx="1174.4" cy="182.6" r="1.8" fill="#111"/>
<line x1="1174.4" y1="182.6" x2="1211.7" y2="182.6" stroke="#222" stroke-width="1.1"/>
<rect x="1191.5" y="180.5" width="11" height="4.2" fill="#fff" stroke="#222" stroke-width="0.9"/>
<line x1="1211.7" y1="182.6" x2="1211.7" y2="243" stroke="#222" stroke-width="1.1"/>
<text x="1190" y="176" font-size="5.2" font-family="Liberation Sans" font-weight="bold" text-anchor="start" fill="#111" textLength="12" lengthAdjust="spacingAndGlyphs">R1412</text>
<text x="1192" y="192" font-size="5.2" font-family="Liberation Sans" font-weight="bold" text-anchor="start" fill="#222" textLength="8" lengthAdjust="spacingAndGlyphs">270</text>
<polyline points="1109.8,359.7 1174.4,359.7 1174.4,262.3" fill="none" stroke="#222" stroke-width="1.1"/>
<polyline points="1109.8,373 1181.8,373 1181.8,262.3" fill="none" stroke="#222" stroke-width="1.1"/>
<circle cx="1174.4" cy="315" r="1.8" fill="#111"/>
<line x1="1174.4" y1="315" x2="1211.7" y2="315" stroke="#222" stroke-width="1.1"/>
<rect x="1190.5" y="312.9" width="11" height="4.2" fill="#fff" stroke="#222" stroke-width="0.9"/>
<line x1="1211.7" y1="315" x2="1211.7" y2="260" stroke="#222" stroke-width="1.1"/>
<text x="1189" y="309" font-size="5.2" font-family="Liberation Sans" font-weight="bold" text-anchor="start" fill="#222" textLength="12" lengthAdjust="spacingAndGlyphs">R1415</text>
<text x="1191" y="325" font-size="5.2" font-family="Liberation Sans" font-weight="bold" text-anchor="start" fill="#222" textLength="8" lengthAdjust="spacingAndGlyphs">270</text>
<line x1="1109.8" y1="241.6" x2="1120" y2="241.6" stroke="#222" stroke-width="1.1"/>
<line x1="1120" y1="237.6" x2="1120" y2="245.6" stroke="#111" stroke-width="1.3"/>
<circle cx="1166.6" cy="241.8" r="1.9" fill="#111"/>
<circle cx="1166.6" cy="262.3" r="1.9" fill="#111"/>
<circle cx="1174.4" cy="241.8" r="1.9" fill="#111"/>
<circle cx="1174.4" cy="262.3" r="1.9" fill="#111"/>
<circle cx="1181.8" cy="241.8" r="1.9" fill="#111"/>
<circle cx="1181.8" cy="262.3" r="1.9" fill="#111"/>
<line x1="1174.8" y1="246.2" x2="1182.3" y2="246.2" stroke="#111" stroke-width="1.4"/>
<line x1="1174.8" y1="257.7" x2="1182.3" y2="257.7" stroke="#111" stroke-width="1.4"/>
<line x1="1178.5" y1="246.2" x2="1178.5" y2="257.7" stroke="#222" stroke-width="0.6"/>
<line x1="1166" y1="251.8" x2="1204" y2="251.8" stroke="#222" stroke-width="0.9"/>
<path d="M1164.4,251.8 l4,-1.8 l0,3.6z" fill="#111"/>
<circle cx="1219.7" cy="251.6" r="19" fill="none" stroke="#111" stroke-width="1.1"/>
<circle cx="1219.7" cy="251.6" r="16.1" fill="none" stroke="#111" stroke-width="1.1"/>
<circle cx="1204.5" cy="251.8" r="2.2" fill="#111"/>
<circle cx="1212.5" cy="243.5" r="1.5" fill="#fff" stroke="#111" stroke-width="0.8"/>
<circle cx="1228.3" cy="244" r="1.5" fill="#fff" stroke="#111" stroke-width="0.8"/>
<circle cx="1221.5" cy="252" r="1.5" fill="#fff" stroke="#111" stroke-width="0.8"/>
<circle cx="1212.5" cy="259.5" r="1.5" fill="#fff" stroke="#111" stroke-width="0.8"/>
<circle cx="1228.3" cy="260" r="1.5" fill="#fff" stroke="#111" stroke-width="0.8"/>
<text x="1216.5" y="245.5" font-size="5.5" font-family="Liberation Sans" font-weight="normal" text-anchor="middle" fill="#222">4</text>
<text x="1224.5" y="245.5" font-size="5.5" font-family="Liberation Sans" font-weight="normal" text-anchor="middle" fill="#222">3</text>
<text x="1217.3" y="254" font-size="5.5" font-family="Liberation Sans" font-weight="normal" text-anchor="middle" fill="#222">1</text>
<text x="1216.5" y="261.5" font-size="5.5" font-family="Liberation Sans" font-weight="normal" text-anchor="middle" fill="#222">5</text>
<text x="1224.5" y="261.5" font-size="5.5" font-family="Liberation Sans" font-weight="normal" text-anchor="middle" fill="#222">2</text>
<line x1="1223" y1="252" x2="1249" y2="252" stroke="#222" stroke-width="1.1"/>
<circle cx="1228" cy="252" r="2.2" fill="#111"/>
<line x1="1228" y1="245.5" x2="1228" y2="258.5" stroke="#222" stroke-width="0.9"/>
<line x1="1249" y1="247.5" x2="1249" y2="256.5" stroke="#111" stroke-width="1.8"/>
<line x1="1211.7" y1="241" x2="1211.7" y2="243.5" stroke="#222" stroke-width="0.9"/>
<line x1="1211.7" y1="260" x2="1211.7" y2="262" stroke="#222" stroke-width="0.9"/>
<text x="1214" y="284.5" font-size="6.4" font-family="Liberation Sans" font-weight="normal" text-anchor="start" fill="#222" textLength="34" lengthAdjust="spacingAndGlyphs">OHRHÖRER</text>
<text x="1214" y="291.5" font-size="6.4" font-family="Liberation Sans" font-weight="normal" text-anchor="start" fill="#222" textLength="34" lengthAdjust="spacingAndGlyphs">EARPHONE</text>
<text x="1214" y="298.5" font-size="6.4" font-family="Liberation Sans" font-weight="normal" text-anchor="start" fill="#222" textLength="33" lengthAdjust="spacingAndGlyphs">ECOUTEUR</text>
<line x1="192.6" y1="545.8" x2="260" y2="545.8" stroke="#222" stroke-width="1.1"/>
<circle cx="236.6" cy="545.8" r="1.8" fill="#111"/>
<line x1="192.6" y1="545.8" x2="192.6" y2="651.8" stroke="#222" stroke-width="1.1"/>
<rect x="190.4" y="555.2" width="4.4" height="10.5" fill="#fff" stroke="#222" stroke-width="0.9"/>
<line x1="236.6" y1="545.8" x2="236.6" y2="576" stroke="#222" stroke-width="1.1"/>
<rect x="232.6" y="559.2" width="8" height="2.6" fill="#f5e0e2"/>
<line x1="232.6" y1="559.2" x2="240.6" y2="559.2" stroke="#111" stroke-width="1.4"/>
<line x1="232.6" y1="561.8" x2="240.6" y2="561.8" stroke="#111" stroke-width="1.4"/>
<circle cx="236.6" cy="576" r="1.8" fill="#111"/>
<line x1="260" y1="545.8" x2="260" y2="651.8" stroke="#222" stroke-width="1.1"/>
<rect x="257.8" y="555.2" width="4.4" height="10.5" fill="#fff" stroke="#222" stroke-width="0.9"/>
<circle cx="260" cy="576" r="1.8" fill="#111"/>
<rect x="257.8" y="612.8" width="4.4" height="10.5" fill="#fff" stroke="#222" stroke-width="0.9"/>
<line x1="222" y1="576" x2="290.3" y2="576" stroke="#222" stroke-width="1.1"/>
<rect x="274.4" y="572.2" width="2.6" height="7.5" fill="#fff"/>
<line x1="274.4" y1="572.2" x2="274.4" y2="579.8" stroke="#111" stroke-width="1.4"/>
<line x1="277" y1="572.2" x2="277" y2="579.8" stroke="#111" stroke-width="1.4"/>
<line x1="144.6" y1="584.7" x2="203.6" y2="584.7" stroke="#222" stroke-width="1.1"/>
<rect x="158.5" y="581" width="2.6" height="7.5" fill="#fff"/>
<line x1="158.5" y1="581" x2="158.5" y2="588.5" stroke="#111" stroke-width="1.4"/>
<line x1="161.1" y1="581" x2="161.1" y2="588.5" stroke="#111" stroke-width="1.4"/>
<rect x="171.4" y="582.6" width="10.5" height="4.2" fill="#fff" stroke="#222" stroke-width="0.9"/>
<circle cx="192.6" cy="584.7" r="1.8" fill="#111"/>
<circle cx="212.8" cy="584.7" r="9.2" fill="none" stroke="#111" stroke-width="2.3"/>
<line x1="211.7" y1="580.1" x2="211.7" y2="589.3" stroke="#111" stroke-width="1.9"/>
<line x1="203.6" y1="584.7" x2="211.7" y2="584.7" stroke="#111" stroke-width="1.2"/>
<line x1="211.7" y1="583" x2="218.5" y2="578.1" stroke="#111" stroke-width="1.2"/>
<line x1="211.7" y1="586.4" x2="218.5" y2="591.3" stroke="#111" stroke-width="1.2"/>
<path d="M217.4,590.5 l-3.2,-0.4 l1.2,-2.6 z" fill="#111"/>
<line x1="217.4" y1="577" x2="222" y2="576" stroke="#111" stroke-width="1.2"/>
<line x1="217.4" y1="592.4" x2="225.2" y2="596" stroke="#111" stroke-width="1.2"/>
<line x1="225.2" y1="596" x2="225.2" y2="651.8" stroke="#222" stroke-width="1.1"/>
<line x1="192.6" y1="604.5" x2="225.2" y2="604.5" stroke="#222" stroke-width="1.1"/>
<circle cx="192.6" cy="604.5" r="1.8" fill="#111"/>
<circle cx="225.2" cy="604.5" r="1.8" fill="#111"/>
<rect x="208.4" y="600.8" width="2.6" height="7.5" fill="#fff"/>
<line x1="208.4" y1="600.8" x2="208.4" y2="608.2" stroke="#111" stroke-width="1.4"/>
<line x1="211" y1="600.8" x2="211" y2="608.2" stroke="#111" stroke-width="1.4"/>
<rect x="190.4" y="613" width="4.4" height="10.5" fill="#fff" stroke="#222" stroke-width="0.9"/>
<circle cx="192.6" cy="651.8" r="1.8" fill="#111"/>
<circle cx="225.2" cy="651.8" r="1.8" fill="#111"/>
<circle cx="260" cy="651.8" r="1.8" fill="#111"/>
<polyline points="192,605.5 173,625.5 162,625.5" fill="none" stroke="#333" stroke-width="0.6"/>
<text x="162.5" y="624.5" font-size="5.2" font-family="Liberation Sans" font-weight="bold" text-anchor="start" fill="#222" textLength="9" lengthAdjust="spacingAndGlyphs">0,5V</text>
<polyline points="260.5,594 275.6,605.4 289.4,605.4" fill="none" stroke="#333" stroke-width="0.6"/>
<text x="280" y="604.4" font-size="5.2" font-family="Liberation Sans" font-weight="bold" text-anchor="start" fill="#222" textLength="6" lengthAdjust="spacingAndGlyphs">6V</text>
<line x1="192.6" y1="757.8" x2="260" y2="757.8" stroke="#222" stroke-width="1.1"/>
<circle cx="236.6" cy="757.8" r="1.8" fill="#111"/>
<line x1="192.6" y1="757.8" x2="192.6" y2="651.8" stroke="#222" stroke-width="1.1"/>
<rect x="190.4" y="737.8" width="4.4" height="10.5" fill="#fff" stroke="#222" stroke-width="0.9"/>
<line x1="236.6" y1="757.8" x2="236.6" y2="727.6" stroke="#222" stroke-width="1.1"/>
<rect x="232.6" y="741.8" width="8" height="2.6" fill="#f5e0e2"/>
<line x1="232.6" y1="741.8" x2="240.6" y2="741.8" stroke="#111" stroke-width="1.4"/>
<line x1="232.6" y1="744.4" x2="240.6" y2="744.4" stroke="#111" stroke-width="1.4"/>
<circle cx="236.6" cy="727.6" r="1.8" fill="#111"/>
<line x1="260" y1="757.8" x2="260" y2="651.8" stroke="#222" stroke-width="1.1"/>
<rect x="257.8" y="737.8" width="4.4" height="10.5" fill="#fff" stroke="#222" stroke-width="0.9"/>
<circle cx="260" cy="727.6" r="1.8" fill="#111"/>
<rect x="257.8" y="680.3" width="4.4" height="10.5" fill="#fff" stroke="#222" stroke-width="0.9"/>
<line x1="222" y1="727.6" x2="301.3" y2="727.6" stroke="#222" stroke-width="1.1"/>
<rect x="274.4" y="723.8" width="2.6" height="7.5" fill="#fff"/>
<line x1="274.4" y1="723.8" x2="274.4" y2="731.3" stroke="#111" stroke-width="1.4"/>
<line x1="277" y1="723.8" x2="277" y2="731.3" stroke="#111" stroke-width="1.4"/>
<line x1="144.6" y1="718.9" x2="203.6" y2="718.9" stroke="#222" stroke-width="1.1"/>
<rect x="158.5" y="715.1" width="2.6" height="7.5" fill="#fff"/>
<line x1="158.5" y1="715.1" x2="158.5" y2="722.6" stroke="#111" stroke-width="1.4"/>
<line x1="161.1" y1="715.1" x2="161.1" y2="722.6" stroke="#111" stroke-width="1.4"/>
<rect x="171.4" y="716.8" width="10.5" height="4.2" fill="#fff" stroke="#222" stroke-width="0.9"/>
<circle cx="192.6" cy="718.9" r="1.8" fill="#111"/>
<circle cx="212.8" cy="718.9" r="9.2" fill="none" stroke="#111" stroke-width="2.3"/>
<line x1="211.7" y1="714.3" x2="211.7" y2="723.5" stroke="#111" stroke-width="1.9"/>
<line x1="203.6" y1="718.9" x2="211.7" y2="718.9" stroke="#111" stroke-width="1.2"/>
<line x1="211.7" y1="717.2" x2="218.5" y2="712.3" stroke="#111" stroke-width="1.2"/>
<line x1="211.7" y1="720.6" x2="218.5" y2="725.5" stroke="#111" stroke-width="1.2"/>
<path d="M217.4,724.7 l-3.2,-0.4 l1.2,-2.6 z" fill="#111"/>
<line x1="217.4" y1="726.6" x2="222" y2="727.6" stroke="#111" stroke-width="1.2"/>
<line x1="217.4" y1="711.2" x2="225.2" y2="707.6" stroke="#111" stroke-width="1.2"/>
<line x1="225.2" y1="707.6" x2="225.2" y2="651.8" stroke="#222" stroke-width="1.1"/>
<line x1="192.6" y1="699.1" x2="225.2" y2="699.1" stroke="#222" stroke-width="1.1"/>
<circle cx="192.6" cy="699.1" r="1.8" fill="#111"/>
<circle cx="225.2" cy="699.1" r="1.8" fill="#111"/>
<rect x="208.4" y="695.3" width="2.6" height="7.5" fill="#fff"/>
<line x1="208.4" y1="695.3" x2="208.4" y2="702.8" stroke="#111" stroke-width="1.4"/>
<line x1="211" y1="695.3" x2="211" y2="702.8" stroke="#111" stroke-width="1.4"/>
<rect x="190.4" y="680.1" width="4.4" height="10.5" fill="#fff" stroke="#222" stroke-width="0.9"/>
<circle cx="192.6" cy="651.8" r="1.8" fill="#111"/>
<circle cx="225.2" cy="651.8" r="1.8" fill="#111"/>
<circle cx="260" cy="651.8" r="1.8" fill="#111"/>
<polyline points="192,698.1 173,678.1 162,678.1" fill="none" stroke="#333" stroke-width="0.6"/>
<text x="162.5" y="679.1" font-size="5.2" font-family="Liberation Sans" font-weight="bold" text-anchor="start" fill="#222" textLength="9" lengthAdjust="spacingAndGlyphs">0,5V</text>
<polyline points="260.5,709.6 275.6,698.2 289.4,698.2" fill="none" stroke="#333" stroke-width="0.6"/>
<text x="280" y="699.2" font-size="5.2" font-family="Liberation Sans" font-weight="bold" text-anchor="start" fill="#222" textLength="6" lengthAdjust="spacingAndGlyphs">6V</text>
<line x1="144.6" y1="651.8" x2="313.2" y2="651.8" stroke="#222" stroke-width="1.1"/>
<rect x="240.4" y="648" width="2.6" height="7.5" fill="#fff"/>
<line x1="240.4" y1="648" x2="240.4" y2="655.5" stroke="#111" stroke-width="1.4"/>
<line x1="243" y1="648" x2="243" y2="655.5" stroke="#111" stroke-width="1.4"/>
<rect x="269.4" y="649.7" width="10.5" height="4.2" fill="#fff" stroke="#222" stroke-width="0.9"/>
<polyline points="313.2,651.8 324.4,651.8 324.4,510.9" fill="none" stroke="#222" stroke-width="1.1"/>
<text x="178" y="558" font-size="5.2" font-family="Liberation Sans" font-weight="bold" text-anchor="start" fill="#111" textLength="9" lengthAdjust="spacingAndGlyphs">R703</text>
<text x="178" y="563.8" font-size="5.2" font-family="Liberation Sans" font-weight="bold" text-anchor="start" fill="#111" textLength="9.5" lengthAdjust="spacingAndGlyphs">100k</text>
<text x="220" y="558" font-size="5.2" font-family="Liberation Sans" font-weight="bold" text-anchor="start" fill="#111" textLength="9" lengthAdjust="spacingAndGlyphs">C711</text>
<text x="220" y="563.8" font-size="5.2" font-family="Liberation Sans" font-weight="bold" text-anchor="start" fill="#111" textLength="10" lengthAdjust="spacingAndGlyphs">4700</text>
<text x="264" y="558" font-size="5.2" font-family="Liberation Sans" font-weight="bold" text-anchor="start" fill="#111" textLength="9" lengthAdjust="spacingAndGlyphs">R704</text>
<text x="264" y="563.8" font-size="5.2" font-family="Liberation Sans" font-weight="bold" text-anchor="start" fill="#111" textLength="9" lengthAdjust="spacingAndGlyphs">1,5M</text>
<text x="156" y="594" font-size="5.2" font-family="Liberation Sans" font-weight="bold" text-anchor="start" fill="#111" textLength="9" lengthAdjust="spacingAndGlyphs">C710</text>
<text x="156" y="599.8" font-size="5.2" font-family="Liberation Sans" font-weight="bold" text-anchor="start" fill="#111" textLength="5" lengthAdjust="spacingAndGlyphs">2µ</text>
<text x="171" y="594" font-size="5.2" font-family="Liberation Sans" font-weight="bold" text-anchor="start" fill="#111" textLength="9" lengthAdjust="spacingAndGlyphs">R701</text>
<text x="171" y="599.8" font-size="5.2" font-family="Liberation Sans" font-weight="bold" text-anchor="start" fill="#111" textLength="9" lengthAdjust="spacingAndGlyphs">3,3k</text>
<text x="196" y="603" font-size="5.2" font-family="Liberation Sans" font-weight="bold" text-anchor="start" fill="#111" textLength="9" lengthAdjust="spacingAndGlyphs">C709</text>
<text x="196" y="608.8" font-size="5.2" font-family="Liberation Sans" font-weight="bold" text-anchor="start" fill="#111" textLength="5" lengthAdjust="spacingAndGlyphs">75</text>
<text x="270" y="585" font-size="5.2" font-family="Liberation Sans" font-weight="bold" text-anchor="start" fill="#111" textLength="9" lengthAdjust="spacingAndGlyphs">C712</text>
<text x="270" y="590.8" font-size="5.2" font-family="Liberation Sans" font-weight="bold" text-anchor="start" fill="#111" textLength="5" lengthAdjust="spacingAndGlyphs">1µ</text>
<text x="178" y="616" font-size="5.2" font-family="Liberation Sans" font-weight="bold" text-anchor="start" fill="#111" textLength="9" lengthAdjust="spacingAndGlyphs">R702</text>
<text x="178" y="621.8" font-size="5.2" font-family="Liberation Sans" font-weight="bold" text-anchor="start" fill="#111" textLength="9.5" lengthAdjust="spacingAndGlyphs">220k</text>
<text x="264" y="616" font-size="5.2" font-family="Liberation Sans" font-weight="bold" text-anchor="start" fill="#111" textLength="9" lengthAdjust="spacingAndGlyphs">R705</text>
<text x="264" y="621.8" font-size="5.2" font-family="Liberation Sans" font-weight="bold" text-anchor="start" fill="#111" textLength="7" lengthAdjust="spacingAndGlyphs">39k</text>
<text x="237" y="647" font-size="5.2" font-family="Liberation Sans" font-weight="bold" text-anchor="start" fill="#111" textLength="9" lengthAdjust="spacingAndGlyphs">C713</text>
<text x="238" y="660" font-size="5.2" font-family="Liberation Sans" font-weight="bold" text-anchor="start" fill="#111" textLength="7" lengthAdjust="spacingAndGlyphs">10µ</text>
<text x="269.5" y="647" font-size="5.2" font-family="Liberation Sans" font-weight="bold" text-anchor="start" fill="#111" textLength="9" lengthAdjust="spacingAndGlyphs">R706</text>
<text x="270" y="660" font-size="5.2" font-family="Liberation Sans" font-weight="bold" text-anchor="start" fill="#111" textLength="7" lengthAdjust="spacingAndGlyphs">15k</text>
<text x="241.5" y="587.5" font-size="7.2" font-family="Liberation Sans" font-weight="normal" text-anchor="middle" fill="#333" textLength="14" lengthAdjust="spacingAndGlyphs">T716</text>
<text x="230" y="597" font-size="9.6" font-family="Liberation Sans" font-weight="normal" text-anchor="start" fill="#333" textLength="29" lengthAdjust="spacingAndGlyphs">2N4288</text>
<text x="230" y="605.5" font-size="9.6" font-family="Liberation Sans" font-weight="normal" text-anchor="start" fill="#333" textLength="26" lengthAdjust="spacingAndGlyphs">BC154</text>
<text x="230" y="614" font-size="9.6" font-family="Liberation Sans" font-weight="normal" text-anchor="start" fill="#333" textLength="26" lengthAdjust="spacingAndGlyphs">BC179</text>
<text x="178" y="741" font-size="5.2" font-family="Liberation Sans" font-weight="bold" text-anchor="start" fill="#111" textLength="9" lengthAdjust="spacingAndGlyphs">R703</text>
<text x="178" y="746.8" font-size="5.2" font-family="Liberation Sans" font-weight="bold" text-anchor="start" fill="#111" textLength="9.5" lengthAdjust="spacingAndGlyphs">100k</text>
<text x="220" y="741" font-size="5.2" font-family="Liberation Sans" font-weight="bold" text-anchor="start" fill="#111" textLength="9" lengthAdjust="spacingAndGlyphs">C711</text>
<text x="220" y="746.8" font-size="5.2" font-family="Liberation Sans" font-weight="bold" text-anchor="start" fill="#111" textLength="10" lengthAdjust="spacingAndGlyphs">4700</text>
<text x="264" y="741" font-size="5.2" font-family="Liberation Sans" font-weight="bold" text-anchor="start" fill="#111" textLength="9" lengthAdjust="spacingAndGlyphs">R704</text>
<text x="264" y="746.8" font-size="5.2" font-family="Liberation Sans" font-weight="bold" text-anchor="start" fill="#111" textLength="9" lengthAdjust="spacingAndGlyphs">1,5M</text>
<text x="156" y="706" font-size="5.2" font-family="Liberation Sans" font-weight="bold" text-anchor="start" fill="#111" textLength="9" lengthAdjust="spacingAndGlyphs">C710</text>
<text x="156" y="711.8" font-size="5.2" font-family="Liberation Sans" font-weight="bold" text-anchor="start" fill="#111" textLength="5" lengthAdjust="spacingAndGlyphs">2µ</text>
<text x="171" y="706" font-size="5.2" font-family="Liberation Sans" font-weight="bold" text-anchor="start" fill="#111" textLength="9" lengthAdjust="spacingAndGlyphs">R701</text>
<text x="171" y="711.8" font-size="5.2" font-family="Liberation Sans" font-weight="bold" text-anchor="start" fill="#111" textLength="9" lengthAdjust="spacingAndGlyphs">3,3k</text>
<text x="196" y="704" font-size="5.2" font-family="Liberation Sans" font-weight="bold" text-anchor="start" fill="#111" textLength="9" lengthAdjust="spacingAndGlyphs">C708</text>
<text x="196" y="709.8" font-size="5.2" font-family="Liberation Sans" font-weight="bold" text-anchor="start" fill="#111" textLength="5" lengthAdjust="spacingAndGlyphs">75</text>
<text x="270" y="713" font-size="5.2" font-family="Liberation Sans" font-weight="bold" text-anchor="start" fill="#111" textLength="9" lengthAdjust="spacingAndGlyphs">C712</text>
<text x="270" y="718.8" font-size="5.2" font-family="Liberation Sans" font-weight="bold" text-anchor="start" fill="#111" textLength="5" lengthAdjust="spacingAndGlyphs">1µ</text>
<text x="178" y="684" font-size="5.2" font-family="Liberation Sans" font-weight="bold" text-anchor="start" fill="#111" textLength="9" lengthAdjust="spacingAndGlyphs">R702</text>
<text x="178" y="689.8" font-size="5.2" font-family="Liberation Sans" font-weight="bold" text-anchor="start" fill="#111" textLength="9.5" lengthAdjust="spacingAndGlyphs">220k</text>
<text x="264" y="684" font-size="5.2" font-family="Liberation Sans" font-weight="bold" text-anchor="start" fill="#111" textLength="9" lengthAdjust="spacingAndGlyphs">R705</text>
<text x="264" y="689.8" font-size="5.2" font-family="Liberation Sans" font-weight="bold" text-anchor="start" fill="#111" textLength="7" lengthAdjust="spacingAndGlyphs">39k</text>
<text x="230" y="691" font-size="9.6" font-family="Liberation Sans" font-weight="normal" text-anchor="start" fill="#333" textLength="26" lengthAdjust="spacingAndGlyphs">BC179</text>
<text x="230" y="699.5" font-size="9.6" font-family="Liberation Sans" font-weight="normal" text-anchor="start" fill="#333" textLength="26" lengthAdjust="spacingAndGlyphs">BC154</text>
<text x="230" y="708" font-size="9.6" font-family="Liberation Sans" font-weight="normal" text-anchor="start" fill="#333" textLength="29" lengthAdjust="spacingAndGlyphs">2N4288</text>
<text x="239" y="716" font-size="7.2" font-family="Liberation Sans" font-weight="normal" text-anchor="middle" fill="#333" textLength="14" lengthAdjust="spacingAndGlyphs">T716</text>
<text x="147" y="590" font-size="5" font-family="Liberation Sans" font-weight="normal" text-anchor="start" fill="#222">1</text>
<text x="147" y="657" font-size="5" font-family="Liberation Sans" font-weight="normal" text-anchor="start" fill="#222">6</text>
<text x="147" y="724" font-size="5" font-family="Liberation Sans" font-weight="normal" text-anchor="start" fill="#222">2</text>
<text x="307" y="657" font-size="5" font-family="Liberation Sans" font-weight="normal" text-anchor="start" fill="#222">5</text>
<text x="286" y="528" font-size="5" font-family="Liberation Sans" font-weight="normal" text-anchor="start" fill="#222">3</text>
<text x="297" y="528" font-size="5" font-family="Liberation Sans" font-weight="normal" text-anchor="start" fill="#222">4</text>
<line x1="324.4" y1="510.9" x2="966.6" y2="510.9" stroke="#222" stroke-width="1.1"/>
<circle cx="681.6" cy="510.9" r="1.8" fill="#111"/>
<line x1="681.6" y1="476.3" x2="681.6" y2="510.9" stroke="#222" stroke-width="1.1"/>
<polyline points="682,491 686,484 702,484" fill="none" stroke="#333" stroke-width="0.6"/>
<text x="689" y="483" font-size="5.2" font-family="Liberation Sans" font-weight="bold" text-anchor="start" fill="#222" textLength="13" lengthAdjust="spacingAndGlyphs">14mA</text>
<polyline points="338,510.9 347,496 366,496" fill="none" stroke="#333" stroke-width="0.6"/>
<text x="349" y="494" font-size="5.2" font-family="Liberation Sans" font-weight="bold" text-anchor="start" fill="#222" textLength="10" lengthAdjust="spacingAndGlyphs">22 V</text>
<text x="349" y="501" font-size="5.2" font-family="Liberation Sans" font-weight="bold" text-anchor="start" fill="#222" textLength="16" lengthAdjust="spacingAndGlyphs">0,9 mA</text>
<polyline points="876.2,476.3 876.2,495 1033,495" fill="none" stroke="#222" stroke-width="1.1"/>
<circle cx="1033" cy="495" r="1.9" fill="#111"/>
<circle cx="1043" cy="495" r="1.9" fill="#111"/>
<polyline points="940,495 944,487 962,487" fill="none" stroke="#333" stroke-width="0.6"/>
<text x="950" y="485.5" font-size="5.2" font-family="Liberation Sans" font-weight="bold" text-anchor="start" fill="#222" textLength="9" lengthAdjust="spacingAndGlyphs">25V</text>
<text x="950" y="492.5" font-size="5.2" font-family="Liberation Sans" font-weight="bold" text-anchor="start" fill="#222" textLength="12" lengthAdjust="spacingAndGlyphs">50mA</text>
<line x1="1040" y1="491.5" x2="1052" y2="491.5" stroke="#111" stroke-width="1.4"/>
<line x1="1033" y1="488.5" x2="1040" y2="488.5" stroke="#222" stroke-width="0.7"/>
<path d="M1033,488.5 l3,-1.2 l0,2.4z" fill="#222"/>
<text x="1030" y="490" font-size="4.5" font-family="Liberation Sans" font-weight="normal" text-anchor="middle" fill="#222">1</text>
<text x="1033" y="503" font-size="4.5" font-family="Liberation Sans" font-weight="normal" text-anchor="middle" fill="#222">2</text>
<text x="1046" y="503" font-size="4.5" font-family="Liberation Sans" font-weight="normal" text-anchor="middle" fill="#222">1</text>
<line x1="1043" y1="495" x2="1043" y2="548.6" stroke="#222" stroke-width="1.1"/>
<circle cx="1043" cy="548.6" r="1.8" fill="#111"/>
<line x1="966.6" y1="510.9" x2="966.6" y2="566.5" stroke="#222" stroke-width="1.1"/>
<circle cx="966.6" cy="566.5" r="1.8" fill="#111"/>
<line x1="1008" y1="548.6" x2="1088" y2="548.6" stroke="#222" stroke-width="1.1"/>
<line x1="1008" y1="544.6" x2="1008" y2="552.6" stroke="#111" stroke-width="1.3"/>
<rect x="1025.7" y="544.9" width="2.6" height="7.5" fill="#fff"/>
<line x1="1025.7" y1="544.9" x2="1025.7" y2="552.4" stroke="#111" stroke-width="1.4"/>
<line x1="1028.3" y1="544.9" x2="1028.3" y2="552.4" stroke="#111" stroke-width="1.4"/>
<rect x="1054.5" y="546.5" width="11" height="4.2" fill="#fff" stroke="#222" stroke-width="0.9"/>
<line x1="1088" y1="548.6" x2="1088" y2="672.3" stroke="#222" stroke-width="1.1"/>
<line x1="912.2" y1="566.5" x2="1016" y2="566.5" stroke="#222" stroke-width="1.1"/>
<line x1="912.2" y1="562.5" x2="912.2" y2="570.5" stroke="#111" stroke-width="1.3"/>
<rect x="929.7" y="562.8" width="2.6" height="7.5" fill="#fff"/>
<line x1="929.7" y1="562.8" x2="929.7" y2="570.2" stroke="#111" stroke-width="1.4"/>
<line x1="932.3" y1="562.8" x2="932.3" y2="570.2" stroke="#111" stroke-width="1.4"/>
<rect x="980.5" y="564.4" width="11" height="4.2" fill="#fff" stroke="#222" stroke-width="0.9"/>
<line x1="1034.5" y1="566.5" x2="1141" y2="566.5" stroke="#222" stroke-width="1.1"/>
<circle cx="1088" cy="566.5" r="1.8" fill="#111"/>
<rect x="1122.7" y="562.8" width="2.6" height="7.5" fill="#fff"/>
<line x1="1122.7" y1="562.8" x2="1122.7" y2="570.2" stroke="#111" stroke-width="1.4"/>
<line x1="1125.3" y1="562.8" x2="1125.3" y2="570.2" stroke="#111" stroke-width="1.4"/>
<line x1="1141" y1="562.5" x2="1141" y2="570.5" stroke="#111" stroke-width="1.3"/>
<circle cx="1025.4" cy="576.5" r="9.6" fill="none" stroke="#111" stroke-width="2"/>
<line x1="1019.5" y1="573" x2="1031.5" y2="573" stroke="#111" stroke-width="1.6"/>
<line x1="1025.4" y1="573" x2="1025.4" y2="597.6" stroke="#111" stroke-width="1.2"/>
<line x1="1016" y1="566.5" x2="1022" y2="573" stroke="#111" stroke-width="1.2"/>
<line x1="1034.5" y1="566.5" x2="1028.8" y2="573" stroke="#111" stroke-width="1.2"/>
<line x1="1021" y1="578" x2="1024" y2="574" stroke="#222" stroke-width="1"/>
<line x1="1030" y1="578" x2="1027" y2="574" stroke="#222" stroke-width="1"/>
<text x="1040" y="577" font-size="10" font-family="Liberation Sans" font-weight="normal" text-anchor="start" fill="#333" textLength="27" lengthAdjust="spacingAndGlyphs">AC132</text>
<text x="1053" y="584" font-size="7" font-family="Liberation Sans" font-weight="bold" text-anchor="middle" fill="#222" textLength="13" lengthAdjust="spacingAndGlyphs">T915</text>
<line x1="912.2" y1="597.6" x2="1088" y2="597.6" stroke="#222" stroke-width="1.1"/>
<line x1="912.2" y1="593.6" x2="912.2" y2="601.6" stroke="#111" stroke-width="1.3"/>
<rect x="929.7" y="593.9" width="2.6" height="7.5" fill="#fff"/>
<line x1="929.7" y1="593.9" x2="929.7" y2="601.4" stroke="#111" stroke-width="1.4"/>
<line x1="932.3" y1="593.9" x2="932.3" y2="601.4" stroke="#111" stroke-width="1.4"/>
<circle cx="1025.4" cy="597.6" r="1.8" fill="#111"/>
<rect x="1054.5" y="595.5" width="11" height="4.2" fill="#fff" stroke="#222" stroke-width="0.9"/>
<circle cx="1088" cy="597.6" r="1.8" fill="#111"/>
<polyline points="995,597.6 990,590 975,590" fill="none" stroke="#333" stroke-width="0.6"/>
<text x="976" y="589" font-size="5.2" font-family="Liberation Sans" font-weight="bold" text-anchor="start" fill="#222" textLength="10" lengthAdjust="spacingAndGlyphs">26 V</text>
<line x1="1025.4" y1="597.6" x2="1025.4" y2="628" stroke="#222" stroke-width="1.1"/>
<rect x="1023.2" y="607.2" width="4.4" height="10.5" fill="#fff" stroke="#222" stroke-width="0.9"/>
<line x1="1021.4" y1="628" x2="1029.4" y2="628" stroke="#111" stroke-width="1.3"/>
<text x="925" y="560" font-size="5.2" font-family="Liberation Sans" font-weight="bold" text-anchor="start" fill="#111" textLength="12" lengthAdjust="spacingAndGlyphs">C1427</text>
<text x="926" y="577.5" font-size="5.2" font-family="Liberation Sans" font-weight="bold" text-anchor="start" fill="#222" textLength="10" lengthAdjust="spacingAndGlyphs">250µ</text>
<text x="925" y="591" font-size="5.2" font-family="Liberation Sans" font-weight="bold" text-anchor="start" fill="#111" textLength="12" lengthAdjust="spacingAndGlyphs">C1428</text>
<text x="926" y="608.5" font-size="5.2" font-family="Liberation Sans" font-weight="bold" text-anchor="start" fill="#222" textLength="10" lengthAdjust="spacingAndGlyphs">250µ</text>
<text x="982" y="557" font-size="5.2" font-family="Liberation Sans" font-weight="bold" text-anchor="start" fill="#111" textLength="9" lengthAdjust="spacingAndGlyphs">R902</text>
<text x="983" y="576" font-size="5.2" font-family="Liberation Sans" font-weight="bold" text-anchor="start" fill="#222" textLength="7" lengthAdjust="spacingAndGlyphs">100</text>
<text x="1020" y="542" font-size="5.2" font-family="Liberation Sans" font-weight="bold" text-anchor="start" fill="#111" textLength="9" lengthAdjust="spacingAndGlyphs">C911</text>
<text x="1022" y="558" font-size="5.2" font-family="Liberation Sans" font-weight="bold" text-anchor="start" fill="#222" textLength="9" lengthAdjust="spacingAndGlyphs">100µ</text>
<text x="1055" y="542" font-size="5.2" font-family="Liberation Sans" font-weight="bold" text-anchor="start" fill="#111" textLength="9" lengthAdjust="spacingAndGlyphs">R901</text>
<text x="1057" y="557" font-size="5.2" font-family="Liberation Sans" font-weight="bold" text-anchor="start" fill="#222" textLength="7" lengthAdjust="spacingAndGlyphs">150</text>
<text x="1055" y="591" font-size="5.2" font-family="Liberation Sans" font-weight="bold" text-anchor="start" fill="#111" textLength="9" lengthAdjust="spacingAndGlyphs">R904</text>
<text x="1057" y="607" font-size="5.2" font-family="Liberation Sans" font-weight="bold" text-anchor="start" fill="#222" textLength="8" lengthAdjust="spacingAndGlyphs">2,7k</text>
<text x="1030" y="612" font-size="5.2" font-family="Liberation Sans" font-weight="bold" text-anchor="start" fill="#111" textLength="9" lengthAdjust="spacingAndGlyphs">R903</text>
<text x="1030" y="617.8" font-size="5.2" font-family="Liberation Sans" font-weight="bold" text-anchor="start" fill="#111" textLength="7" lengthAdjust="spacingAndGlyphs">10k</text>
<text x="1117" y="560" font-size="5.2" font-family="Liberation Sans" font-weight="bold" text-anchor="start" fill="#111" textLength="12" lengthAdjust="spacingAndGlyphs">C1425</text>
<text x="1119" y="577" font-size="5.2" font-family="Liberation Sans" font-weight="bold" text-anchor="start" fill="#222" textLength="12" lengthAdjust="spacingAndGlyphs">2500µ</text>
<polyline points="952.6,618 931.6,618 931.6,626" fill="none" stroke="#222" stroke-width="1.1"/>
<circle cx="931.6" cy="630" r="4.2" fill="#fff" stroke="#111" stroke-width="1"/>
<line x1="928.6" y1="627" x2="934.6" y2="633" stroke="#222" stroke-width="0.9"/>
<line x1="934.6" y1="627" x2="928.6" y2="633" stroke="#222" stroke-width="0.9"/>
<line x1="931.6" y1="634.2" x2="931.6" y2="641.2" stroke="#222" stroke-width="1.1"/>
<circle cx="931.6" cy="641.2" r="1.8" fill="#111"/>
<line x1="791" y1="641.2" x2="899.8" y2="641.2" stroke="#222" stroke-width="1.1"/>
<path d="M791,641.2 l6,-2.2 l0,4.4z" fill="#111"/>
<rect x="826.8" y="639" width="11" height="4.4" fill="#fff" stroke="#222" stroke-width="0.9"/>
<line x1="826.8" y1="641.2" x2="837.8" y2="641.2" stroke="#222" stroke-width="0.7"/>
<circle cx="875" cy="641.2" r="1.8" fill="#111"/>
<line x1="875" y1="641.2" x2="875" y2="671" stroke="#222" stroke-width="1.1"/>
<rect x="871" y="653.7" width="8" height="2.6" fill="#fff"/>
<line x1="871" y1="653.7" x2="879" y2="653.7" stroke="#111" stroke-width="1.4"/>
<line x1="871" y1="656.3" x2="879" y2="656.3" stroke="#111" stroke-width="1.4"/>
<line x1="871" y1="671" x2="879" y2="671" stroke="#111" stroke-width="1.3"/>
<text x="825" y="636" font-size="5.2" font-family="Liberation Sans" font-weight="bold" text-anchor="start" fill="#222" textLength="14" lengthAdjust="spacingAndGlyphs">Si1439</text>
<text x="825" y="648" font-size="5.2" font-family="Liberation Sans" font-weight="bold" text-anchor="start" fill="#222" textLength="14" lengthAdjust="spacingAndGlyphs">315mA</text>
<text x="855" y="652" font-size="5.2" font-family="Liberation Sans" font-weight="bold" text-anchor="start" fill="#222" textLength="11" lengthAdjust="spacingAndGlyphs">C1429</text>
<text x="856" y="658" font-size="5.2" font-family="Liberation Sans" font-weight="bold" text-anchor="start" fill="#222" textLength="9" lengthAdjust="spacingAndGlyphs">3500</text>
<rect x="897.6" y="641.2" width="4.4" height="62.8" fill="#111"/>
<rect x="911.6" y="641.2" width="4.4" height="62.8" fill="#111"/>
<line x1="905.8" y1="641.2" x2="905.8" y2="704" stroke="#222" stroke-width="0.9"/>
<line x1="907.8" y1="641.2" x2="907.8" y2="704" stroke="#222" stroke-width="0.9"/>
<line x1="913.8" y1="641.2" x2="952.6" y2="641.2" stroke="#222" stroke-width="1.1"/>
<text x="893" y="632" font-size="5.2" font-family="Liberation Sans" font-weight="bold" text-anchor="start" fill="#222" textLength="10" lengthAdjust="spacingAndGlyphs">1437</text>
<text x="893" y="637.5" font-size="5.2" font-family="Liberation Sans" font-weight="bold" text-anchor="start" fill="#222" textLength="18" lengthAdjust="spacingAndGlyphs">6V 0,05A</text>
<line x1="791" y1="704" x2="829" y2="704" stroke="#222" stroke-width="1.1"/>
<path d="M791,704 l6,-2.2 l0,4.4z" fill="#111"/>
<circle cx="829" cy="704" r="1.9" fill="#111"/>
<circle cx="839" cy="704" r="1.9" fill="#111"/>
<line x1="839" y1="704" x2="899.8" y2="704" stroke="#222" stroke-width="1.1"/>
<line x1="913.8" y1="704" x2="952.6" y2="704" stroke="#222" stroke-width="1.1"/>
<line x1="829" y1="700.5" x2="840" y2="700.5" stroke="#111" stroke-width="1.3"/>
<line x1="836" y1="697.5" x2="844" y2="697.5" stroke="#222" stroke-width="0.7"/>
<text x="847" y="699" font-size="5" font-family="Liberation Sans" font-weight="normal" text-anchor="middle" fill="#222">I</text>
<text x="829" y="711" font-size="4.5" font-family="Liberation Sans" font-weight="normal" text-anchor="middle" fill="#222">4</text>
<text x="839" y="711" font-size="4.5" font-family="Liberation Sans" font-weight="normal" text-anchor="middle" fill="#222">3</text>
<text x="893" y="715" font-size="6" font-family="Liberation Sans" font-weight="normal" text-anchor="start" fill="#222" textLength="38" lengthAdjust="spacingAndGlyphs">Tr.- BV 01507</text>
<polyline points="952.6,618 980.6,618 980.6,704" fill="none" stroke="#222" stroke-width="1.1"/>
<rect x="978.4" y="667.8" width="4.4" height="10.5" fill="#fff" stroke="#222" stroke-width="0.9"/>
<line x1="952.6" y1="641.2" x2="1025" y2="641.2" stroke="#222" stroke-width="1.1"/>
<circle cx="965.4" cy="641.2" r="1.8" fill="#111"/>
<line x1="1025" y1="641.2" x2="1025" y2="653.3" stroke="#222" stroke-width="1.1"/>
<line x1="965.4" y1="641.2" x2="965.4" y2="704" stroke="#222" stroke-width="1.1"/>
<rect x="961.4" y="671.7" width="8" height="2.6" fill="#f6eaee"/>
<line x1="961.4" y1="671.7" x2="969.4" y2="671.7" stroke="#111" stroke-width="1.4"/>
<line x1="961.4" y1="674.3" x2="969.4" y2="674.3" stroke="#111" stroke-width="1.4"/>
<line x1="952.6" y1="704" x2="1025" y2="704" stroke="#222" stroke-width="1.1"/>
<circle cx="965.4" cy="704" r="1.8" fill="#111"/>
<circle cx="980.6" cy="704" r="1.8" fill="#111"/>
<line x1="1025" y1="704" x2="1025" y2="691.3" stroke="#222" stroke-width="1.1"/>
<text x="967" y="684" font-size="5.2" font-family="Liberation Sans" font-weight="bold" text-anchor="start" fill="#222" textLength="9" lengthAdjust="spacingAndGlyphs">C910</text>
<text x="967" y="690" font-size="5.2" font-family="Liberation Sans" font-weight="bold" text-anchor="start" fill="#222" textLength="8" lengthAdjust="spacingAndGlyphs">0,1µ</text>
<text x="985" y="680" font-size="5.2" font-family="Liberation Sans" font-weight="bold" text-anchor="start" fill="#222" textLength="9" lengthAdjust="spacingAndGlyphs">R905</text>
<text x="985" y="686" font-size="5.2" font-family="Liberation Sans" font-weight="bold" text-anchor="start" fill="#222" textLength="7" lengthAdjust="spacingAndGlyphs">470</text>
<polyline points="1025,653.3 1044,672.3 1025,691.3 1006,672.3 1025,653.3" fill="none" stroke="#222" stroke-width="1"/>
<g transform="translate(1015.5,662.8) rotate(-45)"><path d="M-3,-3.6 L-3,3.6 L2.6,0 Z" fill="#111"/><line x1="2.8" y1="-3.8" x2="2.8" y2="3.8" stroke="#111" stroke-width="1.4"/></g>
<g transform="translate(1034.5,662.8) rotate(45)"><path d="M-3,-3.6 L-3,3.6 L2.6,0 Z" fill="#111"/><line x1="2.8" y1="-3.8" x2="2.8" y2="3.8" stroke="#111" stroke-width="1.4"/></g>
<g transform="translate(1015.5,681.8) rotate(45)"><path d="M-3,-3.6 L-3,3.6 L2.6,0 Z" fill="#111"/><line x1="2.8" y1="-3.8" x2="2.8" y2="3.8" stroke="#111" stroke-width="1.4"/></g>
<g transform="translate(1034.5,681.8) rotate(-45)"><path d="M-3,-3.6 L-3,3.6 L2.6,0 Z" fill="#111"/><line x1="2.8" y1="-3.8" x2="2.8" y2="3.8" stroke="#111" stroke-width="1.4"/></g>
<circle cx="1025" cy="653.3" r="1.8" fill="#111"/>
<circle cx="1025" cy="691.3" r="1.8" fill="#111"/>
<circle cx="1006" cy="672.3" r="1.8" fill="#111"/>
<circle cx="1044" cy="672.3" r="1.8" fill="#111"/>
<line x1="1006" y1="672.3" x2="992" y2="672.3" stroke="#222" stroke-width="1.1"/>
<line x1="992" y1="668.3" x2="992" y2="676.3" stroke="#111" stroke-width="1.3"/>
<line x1="1044" y1="672.3" x2="1158.7" y2="672.3" stroke="#222" stroke-width="1.1"/>
<circle cx="1088" cy="672.3" r="1.8" fill="#111"/>
<line x1="1088" y1="685.6" x2="1156" y2="685.6" stroke="#222" stroke-width="1.1"/>
<line x1="1088" y1="681.6" x2="1088" y2="689.6" stroke="#111" stroke-width="1.3"/>
<line x1="1156" y1="681.6" x2="1156" y2="689.6" stroke="#111" stroke-width="1.3"/>
<text x="1039" y="692" font-size="5.2" font-family="Liberation Sans" font-weight="bold" text-anchor="start" fill="#222" textLength="13" lengthAdjust="spacingAndGlyphs">6L913</text>
<text x="1039" y="698.5" font-size="5.2" font-family="Liberation Sans" font-weight="bold" text-anchor="start" fill="#222" textLength="21" lengthAdjust="spacingAndGlyphs">B40C1000</text>
<polyline points="1159,616 1163,609 1180,609" fill="none" stroke="#333" stroke-width="0.6"/>
<text x="1166" y="607" font-size="5.2" font-family="Liberation Sans" font-weight="bold" text-anchor="start" fill="#222" textLength="10" lengthAdjust="spacingAndGlyphs">32 V</text>
<text x="1166" y="614" font-size="5.2" font-family="Liberation Sans" font-weight="bold" text-anchor="start" fill="#222" textLength="12" lengthAdjust="spacingAndGlyphs">60mA</text>
<text x="1046" y="540" font-size="5" font-family="Liberation Sans" font-weight="bold" text-anchor="start" fill="#222">6</text>
<text x="969" y="540" font-size="5" font-family="Liberation Sans" font-weight="bold" text-anchor="start" fill="#222">7</text>
<text x="955" y="563" font-size="5" font-family="Liberation Sans" font-weight="bold" text-anchor="start" fill="#222">8</text>
<text x="955" y="595" font-size="5" font-family="Liberation Sans" font-weight="bold" text-anchor="start" fill="#222">9</text>
<text x="1103" y="563" font-size="5" font-family="Liberation Sans" font-weight="bold" text-anchor="start" fill="#222">10</text>
<text x="955" y="616" font-size="5" font-family="Liberation Sans" font-weight="bold" text-anchor="start" fill="#222">1</text>
<text x="955" y="639" font-size="5" font-family="Liberation Sans" font-weight="bold" text-anchor="start" fill="#222">3</text>
<text x="955" y="702" font-size="5" font-family="Liberation Sans" font-weight="bold" text-anchor="start" fill="#222">2</text>
<text x="1103" y="670" font-size="5" font-family="Liberation Sans" font-weight="bold" text-anchor="start" fill="#222">4</text>
<text x="1103" y="683" font-size="5" font-family="Liberation Sans" font-weight="bold" text-anchor="start" fill="#222">5</text>
<text x="372.3" y="612" font-size="4.6" font-family="Liberation Sans" font-weight="normal" text-anchor="start" fill="#222" textLength="31.7" lengthAdjust="spacingAndGlyphs">FARBPUNKT</text>
<text x="372.3" y="618.5" font-size="4.6" font-family="Liberation Sans" font-weight="normal" text-anchor="start" fill="#222" textLength="30.5" lengthAdjust="spacingAndGlyphs">COLOR DOT</text>
<text x="372.3" y="625" font-size="4.6" font-family="Liberation Sans" font-weight="normal" text-anchor="start" fill="#222" textLength="38" lengthAdjust="spacingAndGlyphs">POINT COLORÉ</text>
<circle cx="385" cy="632.8" r="1.5" fill="#111"/>
<circle cx="385" cy="652.4" r="13.6" fill="#fff" stroke="#111" stroke-width="1.1"/>
<text x="389.5" y="648.4" font-size="4.6" font-family="Liberation Sans" font-weight="normal" text-anchor="middle" fill="#222" textLength="7" lengthAdjust="spacingAndGlyphs">OC</text>
<text x="381" y="654.1" font-size="4.6" font-family="Liberation Sans" font-weight="normal" text-anchor="middle" fill="#222" textLength="7" lengthAdjust="spacingAndGlyphs">OB</text>
<text x="389.5" y="659.9" font-size="4.6" font-family="Liberation Sans" font-weight="normal" text-anchor="middle" fill="#222" textLength="7" lengthAdjust="spacingAndGlyphs">OE</text>
<circle cx="455.7" cy="652.4" r="13.6" fill="#fff" stroke="#111" stroke-width="1.1"/>
<text x="460.2" y="648.4" font-size="4.6" font-family="Liberation Sans" font-weight="normal" text-anchor="middle" fill="#222" textLength="7" lengthAdjust="spacingAndGlyphs">OC</text>
<text x="451.7" y="654.1" font-size="4.6" font-family="Liberation Sans" font-weight="normal" text-anchor="middle" fill="#222" textLength="7" lengthAdjust="spacingAndGlyphs">OB</text>
<text x="460.2" y="659.9" font-size="4.6" font-family="Liberation Sans" font-weight="normal" text-anchor="middle" fill="#222" textLength="7" lengthAdjust="spacingAndGlyphs">OE</text>
<circle cx="466.5" cy="662.6" r="1.6" fill="#fff" stroke="#111" stroke-width="0.9"/>
<rect x="511.1" y="637.5" width="29.2" height="29.5" fill="#fff" stroke="#111" stroke-width="1.3"/>
<circle cx="525.7" cy="652.4" r="13.2" fill="#fff" stroke="#111" stroke-width="1.1"/>
<text x="530.2" y="648.4" font-size="4.6" font-family="Liberation Sans" font-weight="normal" text-anchor="middle" fill="#222" textLength="7" lengthAdjust="spacingAndGlyphs">OC</text>
<text x="521.7" y="654.1" font-size="4.6" font-family="Liberation Sans" font-weight="normal" text-anchor="middle" fill="#222" textLength="7" lengthAdjust="spacingAndGlyphs">OB</text>
<text x="530.2" y="659.9" font-size="4.6" font-family="Liberation Sans" font-weight="normal" text-anchor="middle" fill="#222" textLength="7" lengthAdjust="spacingAndGlyphs">OE</text>
<circle cx="536.8" cy="663.4" r="1.6" fill="#fff" stroke="#111" stroke-width="0.9"/>
<path d="M602,617.6 C610,617.6 622,640 622,649.3 C622,658.6 610,681 602,681 C594,681 582,658.6 582,649.3 C582,640 594,617.6 602,617.6 Z" fill="#fff" stroke="#111" stroke-width="1.1"/>
<circle cx="602" cy="626.5" r="2.4" fill="none" stroke="#111" stroke-width="0.9"/><circle cx="602" cy="672" r="2.4" fill="none" stroke="#111" stroke-width="0.9"/>
<circle cx="593" cy="652.5" r="2.6" fill="none" stroke="#111" stroke-width="0.9"/>
<circle cx="593" cy="652.5" r="1.5" fill="#111"/>
<circle cx="611" cy="652.5" r="2.6" fill="none" stroke="#111" stroke-width="0.9"/>
<circle cx="611" cy="652.5" r="1.5" fill="#111"/>
<text x="593" y="647.5" font-size="4.6" font-family="Liberation Sans" font-weight="normal" text-anchor="middle" fill="#222">E</text>
<text x="611" y="647.5" font-size="4.6" font-family="Liberation Sans" font-weight="normal" text-anchor="middle" fill="#222">B</text>
<line x1="618" y1="632" x2="622.5" y2="628.5" stroke="#222" stroke-width="0.6"/>
<text x="625" y="630" font-size="4.6" font-family="Liberation Sans" font-weight="normal" text-anchor="middle" fill="#222">C</text>
<path d="M668,643 L688.6,643 L688.6,660.4 L668,660.4 C661,660.4 661,643 668,643 Z" fill="#fff" stroke="#111" stroke-width="1.1"/>
<text x="676" y="650.2" font-size="4.6" font-family="Liberation Sans" font-weight="normal" text-anchor="middle" fill="#222" textLength="12" lengthAdjust="spacingAndGlyphs">OOO</text>
<text x="676" y="656.4" font-size="4.6" font-family="Liberation Sans" font-weight="normal" text-anchor="middle" fill="#222" textLength="12" lengthAdjust="spacingAndGlyphs">ECB</text>
<text x="384" y="683.5" font-size="8.4" font-family="Liberation Sans" font-weight="normal" text-anchor="middle" fill="#222" textLength="28" lengthAdjust="spacingAndGlyphs">AC 132</text>
<text x="454.5" y="683.5" font-size="8.4" font-family="Liberation Sans" font-weight="normal" text-anchor="middle" fill="#222" textLength="27" lengthAdjust="spacingAndGlyphs">BC 154</text>
<text x="454.5" y="693.8" font-size="8.4" font-family="Liberation Sans" font-weight="normal" text-anchor="middle" fill="#222" textLength="27" lengthAdjust="spacingAndGlyphs">BC 179</text>
<text x="526.5" y="683.5" font-size="8.4" font-family="Liberation Sans" font-weight="normal" text-anchor="middle" fill="#222" textLength="27" lengthAdjust="spacingAndGlyphs">AC 124</text>
<text x="602" y="693.8" font-size="8.4" font-family="Liberation Sans" font-weight="normal" text-anchor="middle" fill="#222" textLength="28" lengthAdjust="spacingAndGlyphs">AD 166</text>
<text x="677" y="682.5" font-size="8.4" font-family="Liberation Sans" font-weight="normal" text-anchor="middle" fill="#222" textLength="34" lengthAdjust="spacingAndGlyphs">2N 4288</text>
<text x="532" y="712" font-size="5.4" font-family="Liberation Sans" font-weight="normal" text-anchor="middle" fill="#222" textLength="66.5" lengthAdjust="spacingAndGlyphs">TRANSISTORSOCKEL</text>
<text x="532" y="719.5" font-size="5.4" font-family="Liberation Sans" font-weight="normal" text-anchor="middle" fill="#222" textLength="69.7" lengthAdjust="spacingAndGlyphs">TRANSISTORSOCKETS</text>
<text x="532" y="727" font-size="5.4" font-family="Liberation Sans" font-weight="normal" text-anchor="middle" fill="#222" textLength="100.8" lengthAdjust="spacingAndGlyphs">SUPPORTS  DES  TRANSISTORS</text>
<text x="338" y="759" font-size="5.4" font-family="Liberation Sans" font-weight="normal" text-anchor="start" fill="#222" textLength="107.2" lengthAdjust="spacingAndGlyphs">ANDERUNGEN  VORBEHALTEN  !</text>
<text x="458.8" y="759" font-size="5.4" font-family="Liberation Sans" font-weight="normal" text-anchor="start" fill="#222" textLength="97.2" lengthAdjust="spacingAndGlyphs">MODIFICATIONS  RESERVED !</text>
<text x="569.8" y="759" font-size="5.4" font-family="Liberation Sans" font-weight="normal" text-anchor="start" fill="#222" textLength="107.7" lengthAdjust="spacingAndGlyphs">MODIFICATIONS  RESERVÉES  !</text>
<rect x="36.2" y="801.7" width="209.4" height="55.9" fill="#fff" stroke="#555" stroke-width="1.0"/>
<text x="44.2" y="813.7" font-size="5.6" font-family="Liberation Sans" font-weight="normal" text-anchor="start" fill="#222" textLength="38.5" lengthAdjust="spacingAndGlyphs">ACHTUNG !</text>
<line x1="44.2" y1="815.3" x2="82.7" y2="815.3" stroke="#444" stroke-width="0.6"/>
<text x="44.2" y="826.2" font-size="5.6" font-family="Liberation Sans" font-weight="normal" text-anchor="start" fill="#222" textLength="192.5" lengthAdjust="spacingAndGlyphs">SPANNUNGEN  UND  STROME  MIT  INSTRUMENT  50kΩ/V</text>
<text x="44.2" y="834.3" font-size="5.6" font-family="Liberation Sans" font-weight="normal" text-anchor="start" fill="#222" textLength="135.5" lengthAdjust="spacingAndGlyphs">ODER  ROHRENVOLTMETER  GEMESSEN</text>
<text x="44.2" y="842.4" font-size="5.6" font-family="Liberation Sans" font-weight="normal" text-anchor="start" fill="#222" textLength="177.8" lengthAdjust="spacingAndGlyphs">ANSCHLUSSIMPEDANZ  DER  LAUTSPRECHERBOXEN</text>
<text x="44.2" y="850.5" font-size="5.6" font-family="Liberation Sans" font-weight="normal" text-anchor="start" fill="#222" textLength="89.3" lengthAdjust="spacingAndGlyphs">NICHT  KLEINER  ALS  4Ω</text>
<rect x="270.2" y="802.6" width="208.9" height="56.1" fill="#fff" stroke="#555" stroke-width="1.0"/>
<text x="278.2" y="814.6" font-size="5.6" font-family="Liberation Sans" font-weight="normal" text-anchor="start" fill="#222" textLength="42.5" lengthAdjust="spacingAndGlyphs">ATTENTION !</text>
<line x1="278.2" y1="816.2" x2="320.7" y2="816.2" stroke="#444" stroke-width="0.6"/>
<text x="278.2" y="827.1" font-size="5.6" font-family="Liberation Sans" font-weight="normal" text-anchor="start" fill="#222" textLength="159.3" lengthAdjust="spacingAndGlyphs">VOLTAGES  AND  CURRENTS  MEASURED  WITH</text>
<text x="278.2" y="835.2" font-size="5.6" font-family="Liberation Sans" font-weight="normal" text-anchor="start" fill="#222" textLength="183.7" lengthAdjust="spacingAndGlyphs">INSTRUMENT  50kΩ/V  OR  VACUUM  TUBE  VOLTMETER</text>
<text x="278.2" y="843.3" font-size="5.6" font-family="Liberation Sans" font-weight="normal" text-anchor="start" fill="#222" textLength="180.1" lengthAdjust="spacingAndGlyphs">THE  TERMINAL  IMPEDANCE  OF  THE  LOUDSPEAKER</text>
<text x="278.2" y="851.4" font-size="5.6" font-family="Liberation Sans" font-weight="normal" text-anchor="start" fill="#222" textLength="124" lengthAdjust="spacingAndGlyphs">BOXES  MUST  NOT  BE  BELOW  4Ω.</text>
<rect x="503.9" y="802.6" width="210" height="56.1" fill="#fff" stroke="#555" stroke-width="1.0"/>
<text x="511.9" y="814.6" font-size="5.6" font-family="Liberation Sans" font-weight="normal" text-anchor="start" fill="#222" textLength="42.3" lengthAdjust="spacingAndGlyphs">ATTENTION !</text>
<line x1="511.9" y1="816.2" x2="554.2" y2="816.2" stroke="#444" stroke-width="0.6"/>
<text x="511.9" y="827.1" font-size="5.6" font-family="Liberation Sans" font-weight="normal" text-anchor="start" fill="#222" textLength="195.4" lengthAdjust="spacingAndGlyphs">TENSIONS  ET  COURANTS  MESURÉS  AVEC  INSTRUMENT</text>
<text x="511.9" y="835.2" font-size="5.6" font-family="Liberation Sans" font-weight="normal" text-anchor="start" fill="#222" textLength="119.5" lengthAdjust="spacingAndGlyphs">50kΩ/V  OU  VOLTMÈTRE  À  TUBES.</text>
<text x="511.9" y="843.3" font-size="5.6" font-family="Liberation Sans" font-weight="normal" text-anchor="start" fill="#222" textLength="155.3" lengthAdjust="spacingAndGlyphs">L'IMPÉDANCE  TERMINALE  DES  ENCEINTES</text>
<text x="511.9" y="851.4" font-size="5.6" font-family="Liberation Sans" font-weight="normal" text-anchor="start" fill="#222" textLength="183.4" lengthAdjust="spacingAndGlyphs">ACOUSTIQUES  NE  DOIT  PAS  ÊTRE  INFÉRIEURE  À  4Ω</text>
<text x="764.9" y="763" font-size="5.6" font-family="Liberation Sans" font-weight="normal" text-anchor="middle" fill="#222" textLength="22.8" lengthAdjust="spacingAndGlyphs">ARBEIT</text>
<text x="764.9" y="770.8" font-size="5.6" font-family="Liberation Sans" font-weight="normal" text-anchor="middle" fill="#222" textLength="35.5" lengthAdjust="spacingAndGlyphs">OPERATED</text>
<text x="764.9" y="778.5" font-size="5.6" font-family="Liberation Sans" font-weight="normal" text-anchor="middle" fill="#222" textLength="28.8" lengthAdjust="spacingAndGlyphs">ENFONCÉ</text>
<line x1="764.4" y1="828.8" x2="764.4" y2="789" stroke="#111" stroke-width="1.0"/>
<path d="M764.4,785.5 l-1.8,5 l3.6,0z" fill="#111"/>
<rect x="783.3" y="785" width="24.8" height="36.4" fill="#fff" stroke="#222" stroke-width="1.0"/>
<circle cx="788.8" cy="791" r="1.6" fill="#111"/>
<circle cx="802.6" cy="791" r="1.6" fill="#111"/>
<text x="785.6" y="792.5" font-size="3.6" font-family="Liberation Sans" font-weight="normal" text-anchor="middle" fill="#222">3</text>
<text x="805.9" y="792.5" font-size="3.6" font-family="Liberation Sans" font-weight="normal" text-anchor="middle" fill="#222">6</text>
<circle cx="788.8" cy="799.3" r="1.6" fill="#111"/>
<circle cx="802.6" cy="799.3" r="1.6" fill="#111"/>
<text x="785.6" y="800.8" font-size="3.6" font-family="Liberation Sans" font-weight="normal" text-anchor="middle" fill="#222">2</text>
<text x="805.9" y="800.8" font-size="3.6" font-family="Liberation Sans" font-weight="normal" text-anchor="middle" fill="#222">5</text>
<circle cx="788.8" cy="807" r="1.6" fill="#111"/>
<circle cx="802.6" cy="807" r="1.6" fill="#111"/>
<text x="785.6" y="808.5" font-size="3.6" font-family="Liberation Sans" font-weight="normal" text-anchor="middle" fill="#222">1</text>
<text x="805.9" y="808.5" font-size="3.6" font-family="Liberation Sans" font-weight="normal" text-anchor="middle" fill="#222">4</text>
<polyline points="792.3,797 791.3,797 791.3,806 792.3,806" fill="none" stroke="#222" stroke-width="0.7"/>
<polyline points="799.1,797 800.1,797 800.1,806 799.1,806" fill="none" stroke="#222" stroke-width="0.7"/>
<line x1="791.2" y1="816.1" x2="800.2" y2="816.1" stroke="#111" stroke-width="1.0"/>
<line x1="795.7" y1="821.4" x2="795.7" y2="828.8" stroke="#222" stroke-width="1.0"/>
<line x1="782.3" y1="828.8" x2="809.1" y2="828.8" stroke="#222" stroke-width="1.6"/>
<text x="795.7" y="837.5" font-size="5.4" font-family="Liberation Serif" font-weight="normal" text-anchor="middle" fill="#333">I</text>
<rect x="815.4" y="785" width="26.2" height="36.4" fill="#fff" stroke="#222" stroke-width="1.0"/>
<circle cx="820.9" cy="791" r="1.6" fill="#111"/>
<circle cx="836.1" cy="791" r="1.6" fill="#111"/>
<text x="817.7" y="792.5" font-size="3.6" font-family="Liberation Sans" font-weight="normal" text-anchor="middle" fill="#222">3</text>
<text x="839.4" y="792.5" font-size="3.6" font-family="Liberation Sans" font-weight="normal" text-anchor="middle" fill="#222">6</text>
<circle cx="820.9" cy="799.3" r="1.6" fill="#111"/>
<circle cx="836.1" cy="799.3" r="1.6" fill="#111"/>
<text x="817.7" y="800.8" font-size="3.6" font-family="Liberation Sans" font-weight="normal" text-anchor="middle" fill="#222">2</text>
<text x="839.4" y="800.8" font-size="3.6" font-family="Liberation Sans" font-weight="normal" text-anchor="middle" fill="#222">5</text>
<circle cx="820.9" cy="807" r="1.6" fill="#111"/>
<circle cx="836.1" cy="807" r="1.6" fill="#111"/>
<text x="817.7" y="808.5" font-size="3.6" font-family="Liberation Sans" font-weight="normal" text-anchor="middle" fill="#222">1</text>
<text x="839.4" y="808.5" font-size="3.6" font-family="Liberation Sans" font-weight="normal" text-anchor="middle" fill="#222">4</text>
<polyline points="824.4,797 823.4,797 823.4,806 824.4,806" fill="none" stroke="#222" stroke-width="0.7"/>
<polyline points="832.6,797 833.6,797 833.6,806 832.6,806" fill="none" stroke="#222" stroke-width="0.7"/>
<line x1="824" y1="816.1" x2="833" y2="816.1" stroke="#111" stroke-width="1.0"/>
<line x1="828.5" y1="821.4" x2="828.5" y2="828.8" stroke="#222" stroke-width="1.0"/>
<line x1="814.4" y1="828.8" x2="842.6" y2="828.8" stroke="#222" stroke-width="1.6"/>
<text x="828.5" y="837.5" font-size="5.4" font-family="Liberation Serif" font-weight="normal" text-anchor="middle" fill="#333">II</text>
<rect x="849.2" y="785" width="25" height="36.4" fill="#fff" stroke="#222" stroke-width="1.0"/>
<circle cx="854.7" cy="791" r="1.6" fill="#111"/>
<circle cx="868.7" cy="791" r="1.6" fill="#111"/>
<text x="851.5" y="792.5" font-size="3.6" font-family="Liberation Sans" font-weight="normal" text-anchor="middle" fill="#222">3</text>
<text x="872" y="792.5" font-size="3.6" font-family="Liberation Sans" font-weight="normal" text-anchor="middle" fill="#222">6</text>
<circle cx="854.7" cy="799.3" r="1.6" fill="#111"/>
<circle cx="868.7" cy="799.3" r="1.6" fill="#111"/>
<text x="851.5" y="800.8" font-size="3.6" font-family="Liberation Sans" font-weight="normal" text-anchor="middle" fill="#222">2</text>
<text x="872" y="800.8" font-size="3.6" font-family="Liberation Sans" font-weight="normal" text-anchor="middle" fill="#222">5</text>
<circle cx="854.7" cy="807" r="1.6" fill="#111"/>
<circle cx="868.7" cy="807" r="1.6" fill="#111"/>
<text x="851.5" y="808.5" font-size="3.6" font-family="Liberation Sans" font-weight="normal" text-anchor="middle" fill="#222">1</text>
<text x="872" y="808.5" font-size="3.6" font-family="Liberation Sans" font-weight="normal" text-anchor="middle" fill="#222">4</text>
<polyline points="858.2,797 857.2,797 857.2,806 858.2,806" fill="none" stroke="#222" stroke-width="0.7"/>
<polyline points="865.2,797 866.2,797 866.2,806 865.2,806" fill="none" stroke="#222" stroke-width="0.7"/>
<line x1="857.2" y1="816.1" x2="866.2" y2="816.1" stroke="#111" stroke-width="1.0"/>
<line x1="861.7" y1="821.4" x2="861.7" y2="828.8" stroke="#222" stroke-width="1.0"/>
<line x1="848.2" y1="828.8" x2="875.2" y2="828.8" stroke="#222" stroke-width="1.6"/>
<text x="861.7" y="837.5" font-size="5.4" font-family="Liberation Serif" font-weight="normal" text-anchor="middle" fill="#333">III</text>
<rect x="882" y="785" width="24.9" height="36.4" fill="#fff" stroke="#222" stroke-width="1.0"/>
<circle cx="887.5" cy="791" r="1.6" fill="#111"/>
<circle cx="901.4" cy="791" r="1.6" fill="#111"/>
<text x="884.3" y="792.5" font-size="3.6" font-family="Liberation Sans" font-weight="normal" text-anchor="middle" fill="#222">3</text>
<text x="904.7" y="792.5" font-size="3.6" font-family="Liberation Sans" font-weight="normal" text-anchor="middle" fill="#222">6</text>
<circle cx="887.5" cy="799.3" r="1.6" fill="#111"/>
<circle cx="901.4" cy="799.3" r="1.6" fill="#111"/>
<text x="884.3" y="800.8" font-size="3.6" font-family="Liberation Sans" font-weight="normal" text-anchor="middle" fill="#222">2</text>
<text x="904.7" y="800.8" font-size="3.6" font-family="Liberation Sans" font-weight="normal" text-anchor="middle" fill="#222">5</text>
<circle cx="887.5" cy="807" r="1.6" fill="#111"/>
<circle cx="901.4" cy="807" r="1.6" fill="#111"/>
<text x="884.3" y="808.5" font-size="3.6" font-family="Liberation Sans" font-weight="normal" text-anchor="middle" fill="#222">1</text>
<text x="904.7" y="808.5" font-size="3.6" font-family="Liberation Sans" font-weight="normal" text-anchor="middle" fill="#222">4</text>
<polyline points="891,797 890,797 890,806 891,806" fill="none" stroke="#222" stroke-width="0.7"/>
<polyline points="897.9,797 898.9,797 898.9,806 897.9,806" fill="none" stroke="#222" stroke-width="0.7"/>
<line x1="890" y1="816.1" x2="899" y2="816.1" stroke="#111" stroke-width="1.0"/>
<line x1="894.5" y1="821.4" x2="894.5" y2="828.8" stroke="#222" stroke-width="1.0"/>
<line x1="881" y1="828.8" x2="907.9" y2="828.8" stroke="#222" stroke-width="1.6"/>
<text x="894.5" y="837.5" font-size="5.4" font-family="Liberation Serif" font-weight="normal" text-anchor="middle" fill="#333">IV</text>
<rect x="914.2" y="785" width="25" height="36.4" fill="#fff" stroke="#222" stroke-width="1.0"/>
<circle cx="919.7" cy="791" r="1.6" fill="#111"/>
<circle cx="933.7" cy="791" r="1.6" fill="#111"/>
<text x="916.5" y="792.5" font-size="3.6" font-family="Liberation Sans" font-weight="normal" text-anchor="middle" fill="#222">3</text>
<text x="937" y="792.5" font-size="3.6" font-family="Liberation Sans" font-weight="normal" text-anchor="middle" fill="#222">6</text>
<circle cx="919.7" cy="799.3" r="1.6" fill="#111"/>
<circle cx="933.7" cy="799.3" r="1.6" fill="#111"/>
<text x="916.5" y="800.8" font-size="3.6" font-family="Liberation Sans" font-weight="normal" text-anchor="middle" fill="#222">2</text>
<text x="937" y="800.8" font-size="3.6" font-family="Liberation Sans" font-weight="normal" text-anchor="middle" fill="#222">5</text>
<circle cx="919.7" cy="807" r="1.6" fill="#111"/>
<circle cx="933.7" cy="807" r="1.6" fill="#111"/>
<text x="916.5" y="808.5" font-size="3.6" font-family="Liberation Sans" font-weight="normal" text-anchor="middle" fill="#222">1</text>
<text x="937" y="808.5" font-size="3.6" font-family="Liberation Sans" font-weight="normal" text-anchor="middle" fill="#222">4</text>
<polyline points="923.2,797 922.2,797 922.2,806 923.2,806" fill="none" stroke="#222" stroke-width="0.7"/>
<polyline points="930.2,797 931.2,797 931.2,806 930.2,806" fill="none" stroke="#222" stroke-width="0.7"/>
<line x1="922.2" y1="816.1" x2="931.2" y2="816.1" stroke="#111" stroke-width="1.0"/>
<line x1="926.7" y1="821.4" x2="926.7" y2="828.8" stroke="#222" stroke-width="1.0"/>
<line x1="913.2" y1="828.8" x2="940.2" y2="828.8" stroke="#222" stroke-width="1.6"/>
<text x="926.7" y="837.5" font-size="5.4" font-family="Liberation Serif" font-weight="normal" text-anchor="middle" fill="#333">V</text>
<rect x="947" y="785" width="24.9" height="36.4" fill="#fff" stroke="#222" stroke-width="1.0"/>
<circle cx="952.5" cy="791" r="1.6" fill="#111"/>
<circle cx="966.4" cy="791" r="1.6" fill="#111"/>
<text x="949.3" y="792.5" font-size="3.6" font-family="Liberation Sans" font-weight="normal" text-anchor="middle" fill="#222">3</text>
<text x="969.7" y="792.5" font-size="3.6" font-family="Liberation Sans" font-weight="normal" text-anchor="middle" fill="#222">6</text>
<circle cx="952.5" cy="799.3" r="1.6" fill="#111"/>
<circle cx="966.4" cy="799.3" r="1.6" fill="#111"/>
<text x="949.3" y="800.8" font-size="3.6" font-family="Liberation Sans" font-weight="normal" text-anchor="middle" fill="#222">2</text>
<text x="969.7" y="800.8" font-size="3.6" font-family="Liberation Sans" font-weight="normal" text-anchor="middle" fill="#222">5</text>
<circle cx="952.5" cy="807" r="1.6" fill="#111"/>
<circle cx="966.4" cy="807" r="1.6" fill="#111"/>
<text x="949.3" y="808.5" font-size="3.6" font-family="Liberation Sans" font-weight="normal" text-anchor="middle" fill="#222">1</text>
<text x="969.7" y="808.5" font-size="3.6" font-family="Liberation Sans" font-weight="normal" text-anchor="middle" fill="#222">4</text>
<polyline points="956,797 955,797 955,806 956,806" fill="none" stroke="#222" stroke-width="0.7"/>
<polyline points="962.9,797 963.9,797 963.9,806 962.9,806" fill="none" stroke="#222" stroke-width="0.7"/>
<line x1="955" y1="816.1" x2="964" y2="816.1" stroke="#111" stroke-width="1.0"/>
<line x1="959.5" y1="821.4" x2="959.5" y2="828.8" stroke="#222" stroke-width="1.0"/>
<line x1="946" y1="828.8" x2="972.9" y2="828.8" stroke="#222" stroke-width="1.6"/>
<text x="959.5" y="837.5" font-size="5.4" font-family="Liberation Serif" font-weight="normal" text-anchor="middle" fill="#333">VI</text>
<line x1="808.1" y1="808.8" x2="815.4" y2="808.8" stroke="#222" stroke-width="0.9"/>
<line x1="808.1" y1="816.6" x2="815.4" y2="816.6" stroke="#222" stroke-width="0.9"/>
<line x1="841.6" y1="808.8" x2="849.2" y2="808.8" stroke="#222" stroke-width="0.9"/>
<line x1="841.6" y1="816.6" x2="849.2" y2="816.6" stroke="#222" stroke-width="0.9"/>
<line x1="874.2" y1="808.8" x2="882" y2="808.8" stroke="#222" stroke-width="0.9"/>
<line x1="874.2" y1="816.6" x2="882" y2="816.6" stroke="#222" stroke-width="0.9"/>
<line x1="906.9" y1="808.8" x2="914.2" y2="808.8" stroke="#222" stroke-width="0.9"/>
<line x1="906.9" y1="816.6" x2="914.2" y2="816.6" stroke="#222" stroke-width="0.9"/>
<line x1="939.2" y1="808.8" x2="947" y2="808.8" stroke="#222" stroke-width="0.9"/>
<line x1="939.2" y1="816.6" x2="947" y2="816.6" stroke="#222" stroke-width="0.9"/>
<line x1="971.9" y1="808.8" x2="983" y2="808.8" stroke="#222" stroke-width="0.9"/>
<line x1="971.9" y1="816.6" x2="983" y2="816.6" stroke="#222" stroke-width="0.9"/>
<rect x="979.6" y="771" width="31.1" height="35.6" fill="#fff" stroke="#222" stroke-width="1.0"/>
<rect x="983" y="806.6" width="24.4" height="14.8" fill="#fff" stroke="#222" stroke-width="1.0"/>
<circle cx="985" cy="781.5" r="1.6" fill="#111"/>
<circle cx="1005" cy="781.5" r="1.6" fill="#111"/>
<circle cx="985" cy="791" r="1.6" fill="#111"/>
<circle cx="1005" cy="791" r="1.6" fill="#111"/>
<line x1="989" y1="792" x2="989" y2="800" stroke="#222" stroke-width="0.8"/>
<line x1="1001" y1="792" x2="1001" y2="800" stroke="#222" stroke-width="0.8"/>
<line x1="991" y1="816.1" x2="999" y2="816.1" stroke="#111" stroke-width="1.0"/>
<line x1="995.2" y1="821.4" x2="995.2" y2="828.8" stroke="#222" stroke-width="1.0"/>
<line x1="983" y1="828.8" x2="1007.4" y2="828.8" stroke="#222" stroke-width="1.6"/>
<text x="995.2" y="837.5" font-size="5.4" font-family="Liberation Serif" font-weight="normal" text-anchor="middle" fill="#333">VII</text>
<text x="795.5" y="853.5" font-size="5.8" font-family="Liberation Sans" font-weight="normal" text-anchor="middle" fill="#222" textLength="29.4" lengthAdjust="spacingAndGlyphs">SCRATCH</text>
<circle cx="826" cy="851.6" r="2.6" fill="none" stroke="#111" stroke-width="0.9"/><circle cx="830" cy="851.6" r="2.6" fill="none" stroke="#111" stroke-width="0.9"/>
<circle cx="853.5" cy="851" r="2.3" fill="none" stroke="#111" stroke-width="0.9"/><circle cx="867" cy="851" r="2.3" fill="none" stroke="#111" stroke-width="0.9"/>
<line x1="853.5" y1="853.5" x2="867" y2="853.5" stroke="#222" stroke-width="0.9"/>
<line x1="885" y1="850.6" x2="892" y2="850.6" stroke="#222" stroke-width="0.9"/>
<line x1="885" y1="852.6" x2="892" y2="852.6" stroke="#222" stroke-width="0.9"/>
<circle cx="895" cy="851.6" r="3" fill="none" stroke="#111" stroke-width="1"/>
<line x1="897" y1="854" x2="898.5" y2="855.5" stroke="#222" stroke-width="0.9"/>
<text x="901.5" y="853.6" font-size="4.6" font-family="Liberation Serif" font-weight="normal" text-anchor="start" fill="#333">II</text>
<line x1="917.5" y1="850.6" x2="924.5" y2="850.6" stroke="#222" stroke-width="0.9"/>
<line x1="917.5" y1="852.6" x2="924.5" y2="852.6" stroke="#222" stroke-width="0.9"/>
<circle cx="927.5" cy="851.6" r="3" fill="none" stroke="#111" stroke-width="1"/>
<line x1="929.5" y1="854" x2="931" y2="855.5" stroke="#222" stroke-width="0.9"/>
<text x="934" y="853.6" font-size="4.6" font-family="Liberation Serif" font-weight="normal" text-anchor="start" fill="#333">I</text>
<text x="960.3" y="853.5" font-size="5.8" font-family="Liberation Sans" font-weight="normal" text-anchor="middle" fill="#222" textLength="21" lengthAdjust="spacingAndGlyphs">TUNER</text>
<circle cx="991" cy="851.6" r="1.4" fill="none" stroke="#111" stroke-width="0.9"/>
<circle cx="1001.5" cy="851.6" r="1.7" fill="#111"/>
<text x="1059.4" y="768" font-size="12" font-family="Liberation Sans" font-weight="normal" text-anchor="start" fill="#111" textLength="141.6" lengthAdjust="spacingAndGlyphs" stroke="#111" stroke-width="0.35">Hi-Fi-VERSTÄRKER  Ia</text>
<text x="1059" y="789" font-size="12" font-family="Liberation Sans" font-weight="normal" text-anchor="start" fill="#111" textLength="150.7" lengthAdjust="spacingAndGlyphs" stroke="#111" stroke-width="0.35">30733 - Art. -  Nr.: 821/764</text>
<text x="1045" y="813.5" font-size="12" font-family="Liberation Sans" font-weight="normal" text-anchor="start" fill="#111" textLength="184" lengthAdjust="spacingAndGlyphs" stroke="#111" stroke-width="0.35">KÖRTING RADIO WERKE G.m.b.H.</text>
<text x="1168.5" y="879.5" font-size="17" font-family="Liberation Sans" font-weight="bold" text-anchor="start" fill="#000" textLength="86" lengthAdjust="spacingAndGlyphs">AD1 - 1796-</text>
<rect x="239.6" y="25.6" width="190.4" height="449.7" fill="none" stroke="#111" stroke-width="2.0"/>
<rect x="239.6" y="25.6" width="23.6" height="13.2" fill="#fff" stroke="#111" stroke-width="1.4"/>
<text x="251.4" y="36.8" font-size="13" font-family="Liberation Sans" font-weight="normal" text-anchor="middle" fill="#000" textLength="13.6" lengthAdjust="spacingAndGlyphs" stroke="#000" stroke-width="0.3">Vo</text>
<text x="268" y="36.2" font-size="9" font-family="Liberation Sans" font-weight="bold" text-anchor="start" fill="#222" textLength="24" lengthAdjust="spacingAndGlyphs">02585</text>
<rect x="436.6" y="131.4" width="160.1" height="218.8" fill="none" stroke="#111" stroke-width="2.0"/>
<rect x="574" y="336.7" width="22.7" height="13.5" fill="#fff" stroke="#111" stroke-width="1.4"/>
<text x="585.2" y="348.6" font-size="13" font-family="Liberation Sans" font-weight="normal" text-anchor="middle" fill="#000" textLength="16.6" lengthAdjust="spacingAndGlyphs" stroke="#000" stroke-width="0.3">Pot</text>
<text x="545" y="347.5" font-size="9" font-family="Liberation Sans" font-weight="bold" text-anchor="start" fill="#222" textLength="21.5" lengthAdjust="spacingAndGlyphs">02624</text>
<rect x="603.7" y="26.5" width="506.1" height="449.8" fill="none" stroke="#111" stroke-width="2.0"/>
<rect x="603.7" y="26.5" width="22.7" height="13.8" fill="#fff" stroke="#111" stroke-width="1.4"/>
<text x="614.6" y="38" font-size="12.5" font-family="Liberation Sans" font-weight="normal" text-anchor="middle" fill="#000" textLength="10.5" lengthAdjust="spacingAndGlyphs" stroke="#000" stroke-width="0.3">Tr</text>
<text x="631" y="37.8" font-size="9" font-family="Liberation Sans" font-weight="bold" text-anchor="start" fill="#222" textLength="23.5" lengthAdjust="spacingAndGlyphs">02598</text>
<rect x="144.6" y="520.2" width="168.7" height="257.3" fill="none" stroke="#111" stroke-width="2.0"/>
<rect x="144.6" y="520.2" width="22.9" height="13.8" fill="#fff" stroke="#111" stroke-width="1.4"/>
<text x="156.5" y="532.3" font-size="12.5" font-family="Liberation Sans" font-weight="normal" text-anchor="middle" fill="#000" textLength="15.5" lengthAdjust="spacingAndGlyphs" stroke="#000" stroke-width="0.3">Ph</text>
<text x="172.6" y="531.8" font-size="9" font-family="Liberation Sans" font-weight="bold" text-anchor="start" fill="#222" textLength="21.5" lengthAdjust="spacingAndGlyphs">02574</text>
<rect x="952.4" y="532.8" width="155" height="187" fill="none" stroke="#111" stroke-width="1.6"/>
<rect x="1083.6" y="706.2" width="23.8" height="13.6" fill="#fff" stroke="#111" stroke-width="1.4"/>
<text x="1095.2" y="716.9" font-size="11.8" font-family="Liberation Sans" font-weight="normal" text-anchor="middle" fill="#000" textLength="13.3" lengthAdjust="spacingAndGlyphs" stroke="#000" stroke-width="0.3">Sp</text>
<text x="1052.6" y="716.5" font-size="9" font-family="Liberation Sans" font-weight="bold" text-anchor="start" fill="#222" textLength="22.5" lengthAdjust="spacingAndGlyphs">02909</text>
<rect x="1108.7" y="99.5" width="2.5" height="19.7" fill="#fff"/>
<polyline points="1109.8,99.5 1101.5,99.5 1101.5,102.7 1109.8,102.7 1109.8,112.9 1106.9,116.3 1109.8,119.2" fill="none" stroke="#111" stroke-width="1.8"/>
<rect x="1108.7" y="384" width="2.5" height="19.7" fill="#fff"/>
<polyline points="1109.8,403.7 1101.5,403.7 1101.5,400.5 1109.8,400.5 1109.8,390.3 1106.9,386.9 1109.8,384" fill="none" stroke="#111" stroke-width="1.8"/>
<circle cx="239.7" cy="149.1" r="1.7" fill="#fff" stroke="#222" stroke-width="0.9"/>
<circle cx="239.7" cy="233.4" r="1.7" fill="#fff" stroke="#222" stroke-width="0.9"/>
<circle cx="239.7" cy="331.3" r="1.7" fill="#fff" stroke="#222" stroke-width="0.9"/>
<circle cx="430" cy="79.3" r="1.7" fill="#fff" stroke="#222" stroke-width="0.9"/>
<circle cx="430" cy="233.4" r="1.7" fill="#fff" stroke="#222" stroke-width="0.9"/>
<circle cx="430" cy="402.5" r="1.7" fill="#fff" stroke="#222" stroke-width="0.9"/>
<circle cx="418.6" cy="475.3" r="1.7" fill="#fff" stroke="#222" stroke-width="0.9"/>
<circle cx="448.8" cy="131.4" r="1.7" fill="#fff" stroke="#222" stroke-width="0.9"/>
<circle cx="436.6" cy="233.8" r="1.7" fill="#fff" stroke="#222" stroke-width="0.9"/>
<circle cx="596.7" cy="170.4" r="1.7" fill="#fff" stroke="#222" stroke-width="0.9"/>
<circle cx="596.7" cy="233.8" r="1.7" fill="#fff" stroke="#222" stroke-width="0.9"/>
<circle cx="596.7" cy="298.7" r="1.7" fill="#fff" stroke="#222" stroke-width="0.9"/>
<circle cx="448.2" cy="350.2" r="1.7" fill="#fff" stroke="#222" stroke-width="0.9"/>
<circle cx="603.7" cy="170.4" r="1.7" fill="#fff" stroke="#222" stroke-width="0.9"/>
<circle cx="603.7" cy="234.9" r="1.7" fill="#fff" stroke="#222" stroke-width="0.9"/>
<circle cx="603.7" cy="298.7" r="1.7" fill="#fff" stroke="#222" stroke-width="0.9"/>
<circle cx="681.6" cy="476.3" r="1.7" fill="#fff" stroke="#222" stroke-width="0.9"/>
<circle cx="876.2" cy="476.3" r="1.7" fill="#fff" stroke="#222" stroke-width="0.9"/>
<circle cx="1109.8" cy="38.4" r="1.7" fill="#fff" stroke="#222" stroke-width="0.9"/>
<circle cx="1109.8" cy="64.2" r="1.7" fill="#fff" stroke="#222" stroke-width="0.9"/>
<circle cx="1109.8" cy="86.7" r="1.7" fill="#fff" stroke="#222" stroke-width="0.9"/>
<circle cx="1109.8" cy="130.2" r="1.7" fill="#fff" stroke="#222" stroke-width="0.9"/>
<circle cx="1109.8" cy="143.5" r="1.7" fill="#fff" stroke="#222" stroke-width="0.9"/>
<circle cx="1109.8" cy="162.3" r="1.7" fill="#fff" stroke="#222" stroke-width="0.9"/>
<circle cx="1109.8" cy="187.3" r="1.7" fill="#fff" stroke="#222" stroke-width="0.9"/>
<circle cx="1109.8" cy="212.3" r="1.7" fill="#fff" stroke="#222" stroke-width="0.9"/>
<circle cx="1109.8" cy="241.6" r="1.7" fill="#fff" stroke="#222" stroke-width="0.9"/>
<circle cx="1109.8" cy="251.6" r="1.7" fill="#fff" stroke="#222" stroke-width="0.9"/>
<circle cx="1109.8" cy="291.8" r="1.7" fill="#fff" stroke="#222" stroke-width="0.9"/>
<circle cx="1109.8" cy="316.5" r="1.7" fill="#fff" stroke="#222" stroke-width="0.9"/>
<circle cx="1109.8" cy="340.9" r="1.7" fill="#fff" stroke="#222" stroke-width="0.9"/>
<circle cx="1109.8" cy="359.7" r="1.7" fill="#fff" stroke="#222" stroke-width="0.9"/>
<circle cx="1109.8" cy="373" r="1.7" fill="#fff" stroke="#222" stroke-width="0.9"/>
<circle cx="1109.8" cy="416.5" r="1.7" fill="#fff" stroke="#222" stroke-width="0.9"/>
<circle cx="1109.8" cy="439" r="1.7" fill="#fff" stroke="#222" stroke-width="0.9"/>
<circle cx="1109.8" cy="464.8" r="1.7" fill="#fff" stroke="#222" stroke-width="0.9"/>
<circle cx="144.6" cy="584.7" r="1.7" fill="#fff" stroke="#222" stroke-width="0.9"/>
<circle cx="144.6" cy="651.8" r="1.7" fill="#fff" stroke="#222" stroke-width="0.9"/>
<circle cx="144.6" cy="718.6" r="1.7" fill="#fff" stroke="#222" stroke-width="0.9"/>
<circle cx="313.2" cy="651.8" r="1.7" fill="#fff" stroke="#222" stroke-width="0.9"/>
<circle cx="290.3" cy="520.2" r="1.7" fill="#fff" stroke="#222" stroke-width="0.9"/>
<circle cx="301.3" cy="520.2" r="1.7" fill="#fff" stroke="#222" stroke-width="0.9"/>
<circle cx="1043" cy="532.8" r="1.7" fill="#fff" stroke="#222" stroke-width="0.9"/>
<circle cx="966.6" cy="532.8" r="1.7" fill="#fff" stroke="#222" stroke-width="0.9"/>
<circle cx="952.4" cy="566.5" r="1.7" fill="#fff" stroke="#222" stroke-width="0.9"/>
<circle cx="952.4" cy="597.6" r="1.7" fill="#fff" stroke="#222" stroke-width="0.9"/>
<circle cx="1107.4" cy="566.5" r="1.7" fill="#fff" stroke="#222" stroke-width="0.9"/>
<circle cx="952.4" cy="618" r="1.7" fill="#fff" stroke="#222" stroke-width="0.9"/>
<circle cx="952.4" cy="641.2" r="1.7" fill="#fff" stroke="#222" stroke-width="0.9"/>
<circle cx="952.4" cy="704" r="1.7" fill="#fff" stroke="#222" stroke-width="0.9"/>
<circle cx="1107.4" cy="672.3" r="1.7" fill="#fff" stroke="#222" stroke-width="0.9"/>
<circle cx="1107.4" cy="685.6" r="1.7" fill="#fff" stroke="#222" stroke-width="0.9"/>
<rect x="0.5" y="0.5" width="1261" height="872" fill="none" stroke="#f00" stroke-width="1.6"/>
</svg>
</body></html>
